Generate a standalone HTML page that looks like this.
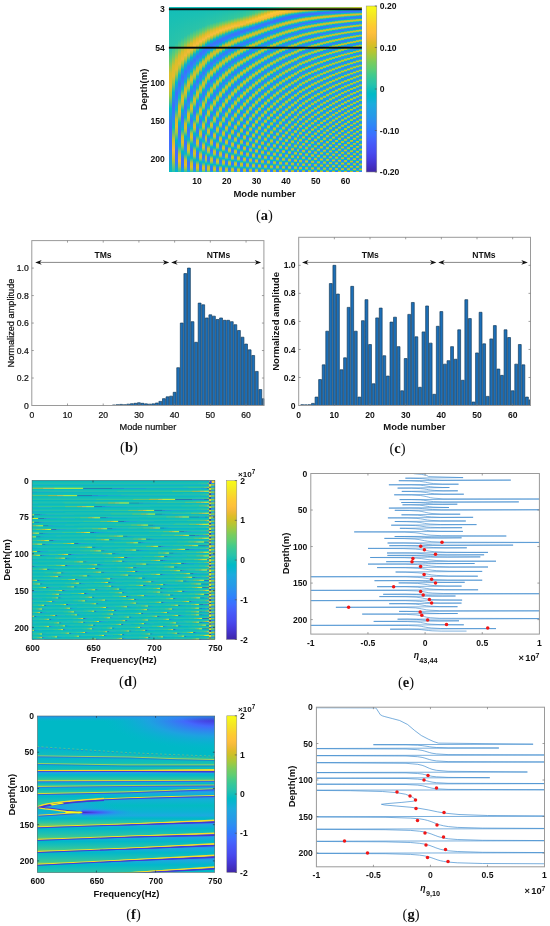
<!DOCTYPE html>
<html><head><meta charset="utf-8"><title>Figure</title>
<style>
html,body{margin:0;padding:0;background:#fff}
#fig{position:relative;width:550px;height:926px;overflow:hidden;background:#fff;font-family:Liberation Sans, Arial, sans-serif}
#fig div{position:absolute}
#fig svg{position:absolute;left:0;top:0}
</style></head><body>
<div id="fig">
<div style="left:168.9px;top:6.6px;width:192.9px;height:165.1px;overflow:hidden;background:#12beb9"><div style="left:0;top:0;width:192.9px;height:165.1px;filter:blur(.7px)"><div style="left:0px;top:0;width:3.27px;height:165.1px;background:linear-gradient(#12beb9 0.0%,#2bc3a8 26.0%,#68cd6b 33.0%,#d7be28 40.1%,#e7bb2d 48.3%,#a2c83f 53.6%,#00b9c7 61.6%,#4369fe 72.2%,#3f6eff 84.3%,#07bcbf 99.9%)"></div><div style="left:2.97px;top:0;width:3.27px;height:165.1px;background:linear-gradient(#12beb9 0.0%,#2ac3a9 23.8%,#65cd6e 29.7%,#d7be28 35.7%,#e6bb2d 41.9%,#a2c840 45.9%,#00b9c6 51.8%,#406dfe 59.8%,#2e84f9 67.2%,#09bdbe 73.0%,#cdc028 80.4%,#f8ba3d 86.6%,#b9c430 93.0%,#29c3aa 99.6%,#24c1ae 99.9%)"></div><div style="left:5.94px;top:0;width:3.27px;height:165.1px;background:linear-gradient(#12beb9 0.0%,#2bc3a8 22.0%,#67cd6c 27.3%,#d8be28 32.4%,#e7bb2e 37.7%,#a6c83d 40.9%,#00b9c6 45.7%,#406dfe 52.2%,#2d89f6 58.1%,#08bcbe 62.2%,#ccc028 68.1%,#e6bb2d 72.5%,#a6c83c 75.9%,#00b9c6 80.9%,#426afe 87.4%,#3b73ff 93.9%,#00b9c8 99.9%)"></div><div style="left:8.9px;top:0;width:3.27px;height:165.1px;background:linear-gradient(#12beb9 0.0%,#2ac3a9 20.1%,#64cd6f 25.0%,#d9bd28 29.7%,#ebba31 34.4%,#acc738 37.1%,#00b9c6 41.3%,#406dfe 46.8%,#2d89f6 51.6%,#0bbdbd 55.1%,#cbc128 60.0%,#e2bc2b 63.4%,#a0c841 66.2%,#00b9c6 70.1%,#406cfe 75.6%,#2e85f8 80.6%,#09bdbd 84.3%,#cdc028 89.3%,#efba35 93.3%,#aec637 96.6%,#2dc4a5 99.9%)"></div><div style="left:11.87px;top:0;width:3.27px;height:165.1px;background:linear-gradient(#12beb9 0.0%,#2ac3a9 18.6%,#65cd6e 23.2%,#dabd28 27.4%,#efba35 31.6%,#b3c534 34.1%,#01bac5 37.9%,#3f6eff 42.5%,#2d89f5 46.8%,#05bcc0 49.7%,#c8c129 53.9%,#dfbc2a 56.9%,#9dc943 59.2%,#00b9c6 62.5%,#3f6eff 67.2%,#2d8bf4 71.5%,#08bcbe 74.3%,#cac128 78.6%,#e3bb2b 81.8%,#9fc941 84.2%,#00b9c7 87.7%,#416cfe 92.4%,#307efb 96.8%,#06b5cf 99.9%)"></div><div style="left:14.84px;top:0;width:3.27px;height:165.1px;background:linear-gradient(#12beb9 0.0%,#2bc3a8 17.4%,#65cd6e 21.5%,#dabd28 25.4%,#f1ba37 29.4%,#b4c534 31.6%,#00b8c8 35.1%,#3d70ff 39.1%,#2e85f8 42.7%,#04bbc1 45.4%,#c8c129 49.2%,#debc29 51.8%,#97ca48 53.9%,#00b9c8 56.8%,#3c71ff 60.6%,#2e86f8 64.2%,#04bcc1 66.9%,#c8c129 70.7%,#debc29 73.4%,#9dc943 75.4%,#00b8c8 78.4%,#3e6fff 82.4%,#2e86f8 86.2%,#0bbdbc 89.0%,#ccc028 92.8%,#e5bb2c 95.7%,#a7c73c 97.8%,#33c69d 99.9%)"></div><div style="left:17.81px;top:0;width:3.27px;height:165.1px;background:linear-gradient(#12beb9 0.0%,#2bc3a8 16.2%,#65cd6e 20.0%,#dabd28 23.6%,#f3ba39 27.3%,#b4c533 29.5%,#00b9c8 32.7%,#3e70ff 36.3%,#2d88f6 39.7%,#0abdbd 42.1%,#c8c129 45.4%,#ddbd29 47.7%,#9ac945 49.5%,#01bac5 52.1%,#3f6fff 55.9%,#2994ed 59.4%,#05bcc0 61.2%,#c6c22a 64.5%,#debc29 66.8%,#9fc942 68.6%,#00b9c8 71.3%,#3b73ff 74.7%,#2e85f8 78.0%,#0abdbd 80.6%,#c8c129 83.9%,#e0bc2a 86.3%,#9fc941 88.1%,#00b9c6 90.9%,#406dfe 94.6%,#2d89f6 98.1%,#0fb2d5 99.9%)"></div><div style="left:20.77px;top:0;width:3.27px;height:165.1px;background:linear-gradient(#12beb9 0.0%,#2bc3a8 15.1%,#66cd6d 18.6%,#dabd28 22.0%,#f7ba3c 25.4%,#bac430 27.6%,#00b9c8 30.6%,#3d70ff 33.9%,#2d88f6 36.9%,#03bbc2 39.1%,#c8c129 42.2%,#dabd28 44.4%,#8fca4d 46.0%,#00b9c8 48.3%,#3876fe 51.2%,#2e83f9 54.1%,#07bcbf 56.5%,#c6c22a 59.5%,#dabd28 61.6%,#91ca4c 63.3%,#00b9c7 65.6%,#3c72ff 68.7%,#2d8cf3 71.8%,#03bbc2 73.7%,#c9c129 76.9%,#dbbd28 79.0%,#93ca4a 80.7%,#01bac5 83.0%,#3f6fff 86.5%,#2b91ef 89.6%,#06bcc0 91.5%,#cac128 94.6%,#debd29 96.9%,#99c946 98.6%,#38c895 99.9%)"></div><div style="left:23.74px;top:0;width:3.27px;height:165.1px;background:linear-gradient(#12beb9 0.0%,#2bc3a8 14.1%,#66cd6d 17.4%,#dabd28 20.4%,#fabb3e 23.8%,#bac430 25.9%,#01bac5 28.6%,#3f6eff 32.0%,#2d8ef1 34.8%,#0abdbd 36.6%,#c3c22b 39.4%,#d9bd28 41.3%,#94ca4a 42.9%,#00b9c6 45.0%,#3a73ff 47.8%,#2d8bf4 50.6%,#02bbc3 52.4%,#c5c22a 55.3%,#d7be28 57.2%,#8ccb50 58.8%,#01bac4 60.7%,#3d70ff 63.9%,#2896eb 66.8%,#08bcbe 68.3%,#c3c22b 71.0%,#d9bd28 73.0%,#93ca4a 74.5%,#00b9c6 76.6%,#3c71ff 79.6%,#2c90ef 82.5%,#04bbc1 84.2%,#c7c229 87.1%,#dbbd28 89.0%,#97ca48 90.6%,#02bac3 92.7%,#3e70ff 95.9%,#2d8df2 98.7%,#16afd9 99.9%)"></div><div style="left:26.71px;top:0;width:3.27px;height:165.1px;background:linear-gradient(#12beb9 0.0%,#2bc3a8 13.2%,#66cd6d 16.4%,#dabd28 19.2%,#fbbb3e 22.3%,#b9c431 24.4%,#00b9c6 27.0%,#3e6fff 30.0%,#2d8ef1 32.7%,#06bcbf 34.4%,#c2c22b 36.9%,#d9be28 38.8%,#8acb52 40.3%,#01bac5 42.1%,#3c71ff 45.0%,#2797eb 47.7%,#08bcbe 49.1%,#c5c22a 51.6%,#d6be27 53.5%,#7fcc5a 55.0%,#02b7cb 56.8%,#327cfc 58.9%,#307efb 61.3%,#07bcbf 63.6%,#c4c22a 66.2%,#d6be28 68.0%,#8fcb4e 69.4%,#01b8c9 71.3%,#317dfc 73.4%,#317cfc 75.9%,#02bbc3 78.1%,#c7c129 80.9%,#d7be28 82.7%,#8fcb4e 84.0%,#00b8c9 86.0%,#3777fe 88.4%,#2f80fa 90.9%,#03bbc2 93.0%,#c8c129 95.7%,#dbbd28 97.5%,#9ac945 98.9%,#3fca8e 99.9%)"></div><div style="left:29.68px;top:0;width:3.27px;height:165.1px;background:linear-gradient(#12beb9 0.0%,#2bc3a8 12.4%,#62cd71 15.3%,#d7be28 18.0%,#fcbb3e 20.9%,#c1c32c 22.9%,#00b9c7 25.4%,#3d70ff 28.2%,#2e86f7 30.6%,#06bcc0 32.4%,#c3c22b 34.8%,#d9bd28 36.5%,#90ca4d 37.9%,#00b9c8 39.7%,#3777fe 41.9%,#2e85f8 44.2%,#03bbc1 46.0%,#c3c22b 48.5%,#d6be27 50.1%,#87cb54 51.5%,#01bac5 53.1%,#3b73ff 55.7%,#2b92ef 58.1%,#02bbc2 59.5%,#c2c22c 61.9%,#d7be28 63.6%,#89cb52 65.0%,#01bac4 66.6%,#3c71ff 69.4%,#269ae9 71.9%,#0bbdbd 73.1%,#c7c129 75.6%,#d5be27 77.2%,#83cc57 78.6%,#00b9c7 80.3%,#3677fe 82.5%,#2e83f9 84.8%,#0abdbd 86.8%,#c6c22a 89.2%,#d8be28 90.9%,#8ccb50 92.2%,#01b8ca 94.0%,#3479fd 96.2%,#317dfc 98.4%,#1aacdd 99.9%)"></div><div style="left:32.64px;top:0;width:3.27px;height:165.1px;background:linear-gradient(#12beb9 0.0%,#2bc3a8 11.7%,#67cd6c 14.5%,#dabd28 17.1%,#fcbb3e 19.8%,#bfc32d 21.7%,#05bcc0 23.9%,#3e70ff 26.7%,#2e85f8 28.9%,#02bac4 30.6%,#c7c129 33.0%,#d9be28 34.5%,#94ca4a 35.7%,#02bbc3 37.4%,#3c72ff 40.0%,#259be8 42.4%,#06bcc0 43.5%,#c4c22b 45.7%,#d5be27 47.2%,#8dcb50 48.5%,#00b9c8 50.1%,#337bfc 52.1%,#2f82fa 54.2%,#04bbc1 56.0%,#c3c22b 58.3%,#d6be27 59.8%,#8fcb4e 61.0%,#00b9c7 62.7%,#3678fd 64.8%,#2e85f8 66.9%,#02bbc3 68.6%,#c1c32c 70.9%,#d7be28 72.4%,#94ca4a 73.6%,#02bac3 75.3%,#3c71ff 77.8%,#259be8 80.3%,#05bcc0 81.3%,#c4c22b 83.6%,#d8be28 85.1%,#93ca4b 86.3%,#02bac3 88.0%,#3d71ff 90.6%,#2699ea 93.0%,#01bac4 94.0%,#c7c129 96.5%,#d8be28 98.0%,#94ca4a 99.2%,#48cb86 99.9%)"></div><div style="left:35.61px;top:0;width:3.27px;height:165.1px;background:linear-gradient(#12beb9 0.0%,#2cc4a7 11.1%,#63cd6f 13.6%,#dcbd29 16.2%,#fcbc3e 18.8%,#bbc430 20.6%,#02bbc3 22.7%,#3e6fff 25.3%,#2d89f5 27.6%,#05bcc0 29.1%,#c1c32c 31.2%,#d9be28 32.7%,#8fcb4e 33.9%,#03bbc2 35.4%,#3c72ff 37.9%,#269ae8 40.1%,#0bbdbc 41.2%,#c5c22a 43.3%,#d5be27 44.7%,#87cb54 45.9%,#00b9c8 47.4%,#327cfc 49.2%,#2f81fa 51.2%,#0abdbd 53.0%,#c5c22a 55.1%,#d5be27 56.5%,#86cb55 57.7%,#00b8c8 59.2%,#327cfc 61.0%,#2f81fa 63.0%,#0abdbd 64.8%,#c5c22a 66.9%,#d5be27 68.3%,#87cb54 69.5%,#00b9c8 71.0%,#3578fd 73.0%,#2e84f8 75.0%,#07bcbf 76.6%,#c3c22b 78.7%,#d7be28 80.1%,#8dcb4f 81.3%,#01bac4 82.8%,#3c72ff 85.3%,#259be8 87.5%,#0bbdbc 88.6%,#c5c22a 90.7%,#d4bf27 92.2%,#7fcc5a 93.4%,#02b7cb 94.9%,#337afd 96.8%,#307ffb 98.7%,#1da8e0 99.9%)"></div><div style="left:38.58px;top:0;width:3.27px;height:165.1px;background:linear-gradient(#12beb9 0.0%,#2dc4a6 10.4%,#64cd6f 12.9%,#dabd28 15.3%,#fcbc3e 17.9%,#bdc42e 19.5%,#00b9c7 21.7%,#3f6eff 24.1%,#2d89f5 26.2%,#01bac4 27.6%,#c3c22b 29.7%,#d9bd28 31.0%,#9bc944 32.1%,#01b8c9 33.8%,#2f82fa 35.3%,#3479fd 37.1%,#0ab4d1 38.8%,#1bc0b4 39.2%,#c1c32c 41.0%,#d4bf27 42.4%,#8dcb4f 43.5%,#01b8c9 45.0%,#2f81fa 46.5%,#337bfc 48.3%,#01bac4 50.1%,#c5c22a 52.2%,#d2bf27 53.6%,#72cd63 54.8%,#01bac5 56.0%,#3974ff 58.1%,#2b91ef 60.1%,#07bcbf 61.3%,#c1c32c 63.3%,#d4bf27 64.7%,#8ccb50 65.7%,#01b8ca 67.2%,#2f81fa 68.7%,#337bfc 70.6%,#01bac4 72.4%,#c5c22a 74.5%,#d2bf27 75.9%,#87cb54 76.9%,#02bbc3 78.3%,#3b72ff 80.6%,#269ae8 82.7%,#02bbc3 83.6%,#c6c22a 85.7%,#d3bf27 87.1%,#89cb53 88.1%,#02b7cb 89.6%,#2f80fa 91.2%,#347afd 93.0%,#09bdbe 94.9%,#c2c32c 96.9%,#d7be28 98.3%,#96ca49 99.3%,#52cc7e 99.9%)"></div><div style="left:41.55px;top:0;width:3.27px;height:165.1px;background:linear-gradient(#12beb9 0.0%,#2dc4a6 9.8%,#68cd6b 12.3%,#dcbd29 14.5%,#fdbc3e 17.0%,#c5c22a 18.5%,#00b9c7 20.6%,#3f6fff 22.9%,#2e86f8 24.8%,#0bbdbd 26.3%,#c6c22a 28.3%,#d6be27 29.7%,#89cb53 30.7%,#00b9c6 32.1%,#3975fe 34.1%,#2d8cf3 35.9%,#01bac4 37.1%,#c2c22c 39.1%,#d5be27 40.3%,#8dcb50 41.3%,#01bac5 42.7%,#3b73ff 44.8%,#269ae9 46.8%,#05bcc0 47.7%,#c5c22a 49.7%,#d3bf27 50.9%,#84cc56 51.9%,#01b8ca 53.3%,#307ffb 54.8%,#2f81fa 56.6%,#01bac5 58.1%,#c1c32c 60.1%,#d5be27 61.3%,#8ccb51 62.4%,#01bac5 63.7%,#3975fe 65.7%,#2d8ef1 67.5%,#06bcbf 68.7%,#c6c22a 70.7%,#d3bf27 71.9%,#84cc57 73.0%,#01b8ca 74.3%,#307ffb 75.9%,#2f80fa 77.7%,#0cbdbc 79.3%,#c0c32d 81.2%,#d6be28 82.4%,#92ca4c 83.4%,#04bbc1 84.8%,#3a73ff 86.9%,#2896eb 88.9%,#0bbdbd 89.9%,#bfc32d 91.8%,#d8be28 93.0%,#97ca48 94.0%,#00b9c8 95.5%,#2f80fb 97.1%,#317dfc 98.9%,#20a5e2 99.9%)"></div><div style="left:44.52px;top:0;width:3.27px;height:165.1px;background:linear-gradient(#12beb9 0.0%,#2ec4a4 9.4%,#6ccd68 11.7%,#dcbd29 13.8%,#fcbc3e 16.2%,#bac430 17.7%,#03bbc2 19.5%,#3f6eff 21.8%,#2d8af5 23.8%,#00b9c6 25.0%,#c3c22b 27.0%,#dabd28 28.2%,#94ca4a 29.2%,#02bac3 30.6%,#3c72ff 32.7%,#249fe6 34.7%,#04bcc1 35.4%,#c1c32c 37.3%,#d3bf27 38.5%,#7fcc5a 39.5%,#00b9c6 40.7%,#347afd 42.4%,#2e85f8 44.1%,#03bbc2 45.4%,#c0c32d 47.2%,#d3bf27 48.5%,#7ecc5b 49.5%,#00b9c7 50.7%,#307efb 52.2%,#2f81fa 53.9%,#04bbc1 55.4%,#c1c32c 57.2%,#d2bf27 58.4%,#7bcc5d 59.5%,#00b8c8 60.7%,#2f82fa 62.1%,#317cfc 63.7%,#0eb2d4 65.1%,#06bcbf 65.4%,#c2c22b 67.2%,#d2bf27 68.4%,#7acc5e 69.5%,#01b8c9 70.7%,#2f82fa 72.1%,#317cfc 73.7%,#0eb2d4 75.1%,#06bcbf 75.4%,#c2c22b 77.2%,#d2bf27 78.4%,#7ccc5c 79.5%,#00b9c8 80.7%,#317dfc 82.2%,#2f80fa 83.9%,#03bbc2 85.4%,#c0c32d 87.2%,#d4be27 88.4%,#84cc57 89.5%,#02bac3 90.7%,#3c72ff 92.8%,#23a0e5 94.8%,#08bcbe 95.5%,#c3c22b 97.4%,#d4bf27 98.6%,#81cc58 99.6%,#5bcc77 99.9%)"></div><div style="left:47.48px;top:0;width:3.27px;height:165.1px;background:linear-gradient(#12beb9 0.0%,#2fc5a3 8.9%,#6dcd67 11.1%,#dbbd28 13.0%,#febd3d 15.3%,#c1c32c 16.8%,#03bbc1 18.6%,#3e6fff 20.7%,#2e84f8 22.6%,#04bbc1 23.9%,#c3c22b 25.7%,#d9bd28 27.0%,#9bc944 27.9%,#02bbc3 29.2%,#3b73ff 31.2%,#2699e9 33.0%,#00b9c7 33.8%,#c0c32c 35.6%,#d5be27 36.6%,#85cb55 37.7%,#00b9c7 38.9%,#327cfc 40.4%,#2e86f8 42.1%,#00b9c7 43.3%,#c0c32c 45.1%,#d4bf27 46.2%,#81cc58 47.2%,#01b8c9 48.5%,#2f80fb 49.8%,#317dfc 51.3%,#01bac4 52.8%,#c3c22b 54.7%,#d3bf27 55.7%,#8ecb4f 56.6%,#03bbc2 57.8%,#3a73ff 59.8%,#259de6 61.6%,#05bcc0 62.4%,#bdc42e 64.1%,#d5be27 65.1%,#88cb53 66.2%,#01bac5 67.4%,#3578fd 69.0%,#2d8bf4 70.7%,#0abdbd 71.9%,#bfc32d 73.6%,#d5be27 74.7%,#84cc56 75.7%,#00b9c7 76.9%,#2f81fa 78.3%,#327cfc 79.8%,#00b9c7 81.3%,#c0c32c 83.1%,#d5be27 84.2%,#84cc56 85.3%,#00b9c7 86.5%,#327cfc 88.0%,#2e85f8 89.6%,#08bdbe 91.0%,#bec32d 92.7%,#d7be28 93.7%,#8bcb51 94.8%,#02bbc3 96.0%,#3b73ff 98.0%,#259be8 99.8%,#22a2e4 99.9%)"></div><div style="left:50.45px;top:0;width:3.27px;height:165.1px;background:linear-gradient(#12beb9 0.0%,#30c5a2 8.5%,#6ccd68 10.4%,#d7be28 12.3%,#febf3c 14.4%,#cdc028 15.9%,#0abdbd 17.7%,#3b72ff 19.7%,#327cfc 21.4%,#03bbc2 22.9%,#c8c129 24.7%,#d5be27 25.9%,#89cb53 26.8%,#00b9c7 28.0%,#337afd 29.5%,#2f82fa 31.0%,#05bcc0 32.4%,#c1c32c 34.1%,#d3bf27 35.1%,#8bcb51 36.0%,#00b9c8 37.3%,#307ffb 38.6%,#2f81fa 40.1%,#02bbc3 41.5%,#bfc32d 43.2%,#d3bf27 44.2%,#89cb52 45.1%,#00b8c8 46.3%,#307efb 47.7%,#2f81fa 49.2%,#04bbc1 50.6%,#c1c32c 52.2%,#d1bf27 53.3%,#85cb55 54.2%,#02b7cb 55.4%,#2f82f9 56.6%,#307efc 58.1%,#0fb2d5 59.4%,#08bcbe 59.7%,#c3c22b 61.3%,#d0bf27 62.4%,#81cc59 63.3%,#03bbc2 64.4%,#3975ff 66.2%,#2797eb 67.8%,#00b9c8 68.6%,#bac430 70.3%,#d4be27 71.3%,#92ca4c 72.2%,#02bac3 73.4%,#3974ff 75.3%,#2798ea 76.9%,#00b9c7 77.7%,#bbc42f 79.3%,#d5be27 80.4%,#92ca4c 81.3%,#02bac3 82.5%,#3974ff 84.3%,#2797eb 86.0%,#00b8c8 86.8%,#bac430 88.4%,#d6be27 89.5%,#96ca48 90.4%,#05bcc0 91.6%,#3975fe 93.4%,#2994ed 95.1%,#04bbc1 96.0%,#c1c32c 97.7%,#d4bf27 98.7%,#8ecb4f 99.6%,#64cd6f 99.9%)"></div><div style="left:53.42px;top:0;width:3.27px;height:165.1px;background:linear-gradient(#12beb9 0.0%,#32c69f 8.2%,#7bcc5d 10.1%,#debc29 11.8%,#febd3d 13.9%,#c2c22b 15.3%,#06bcbf 17.0%,#3e70ff 18.9%,#2e83f9 20.6%,#00b9c8 21.8%,#bbc42f 23.5%,#ddbd29 24.5%,#a6c83d 25.4%,#01bac5 26.8%,#3b73ff 28.6%,#269ae9 30.3%,#04bbc1 31.0%,#c5c22a 32.7%,#cfc027 33.8%,#77cc60 34.7%,#01b7ca 35.7%,#2f81fa 36.9%,#2f81fa 38.5%,#09bdbe 39.8%,#bec32e 41.3%,#d1bf27 42.4%,#7fcc5a 43.3%,#00b9c6 44.4%,#3579fd 45.9%,#2d8cf3 47.4%,#04bcc1 48.5%,#bbc430 50.0%,#d2bf27 51.0%,#83cc57 51.9%,#01bac4 53.0%,#3a73ff 54.8%,#1da8e1 56.6%,#02bbc2 57.1%,#c4c22b 58.8%,#cdc028 59.8%,#70cd65 60.7%,#03bbc2 61.6%,#3a74ff 63.4%,#249fe5 65.1%,#01bac5 65.7%,#c2c22b 67.4%,#cec027 68.4%,#75cc61 69.4%,#02b7cc 70.4%,#2f80fa 71.6%,#2f82fa 73.1%,#00b9c8 74.3%,#c0c32d 76.0%,#d0bf27 77.1%,#7ccc5c 78.0%,#00b9c8 79.0%,#2f82fa 80.3%,#2f80fb 81.8%,#05bcc0 83.1%,#bbc42f 84.6%,#d3bf27 85.7%,#86cb55 86.6%,#03bbc2 87.7%,#3a73ff 89.5%,#259de6 91.2%,#00b9c7 91.8%,#c0c32d 93.4%,#d2bf27 94.5%,#7fcc5a 95.4%,#00bac6 96.5%,#3975fe 98.1%,#2c90f0 99.6%,#249fe6 99.9%)"></div><div style="left:56.39px;top:0;width:3.27px;height:165.1px;background:linear-gradient(#12beb9 0.0%,#32c69e 7.7%,#75cc61 9.5%,#ddbd29 11.2%,#febf3c 13.2%,#c9c129 14.5%,#08bcbe 16.2%,#3b72ff 18.0%,#337bfd 19.5%,#00b9c8 20.9%,#c1c32c 22.6%,#dbbd28 23.6%,#95ca49 24.5%,#00b9c7 25.7%,#327bfc 27.1%,#307ffb 28.5%,#09bdbe 29.8%,#c1c32c 31.3%,#d0c027 32.4%,#72cd64 33.3%,#01bac4 34.2%,#3975ff 35.9%,#2797eb 37.4%,#02bac3 38.2%,#bdc32e 39.7%,#d4bf27 40.6%,#8acb52 41.5%,#02bac3 42.5%,#3975ff 44.2%,#2798ea 45.7%,#03bbc2 46.5%,#bfc32d 48.0%,#d3bf27 48.9%,#86cb55 49.8%,#00b9c6 50.9%,#3677fe 52.4%,#2b92ee 53.9%,#07bcbf 54.8%,#c1c32c 56.3%,#d2bf27 57.2%,#80cc59 58.1%,#00b8c9 59.2%,#2f80fb 60.4%,#2f80fb 61.8%,#00b8c9 63.0%,#c3c22b 64.7%,#d1bf27 65.6%,#7ccc5c 66.5%,#02b7cb 67.5%,#307ffb 68.7%,#2f81fa 70.1%,#00b9c6 71.3%,#c5c22a 73.0%,#c9c128 74.0%,#61cd71 75.0%,#03b6cd 75.9%,#307efb 77.1%,#2f81fa 78.4%,#01bac5 79.6%,#bbc42f 81.2%,#d5be27 82.1%,#8ecb4f 83.0%,#04bbc1 84.0%,#3875fe 85.7%,#2895ec 87.2%,#00b9c6 88.0%,#c5c22a 89.6%,#cbc128 90.7%,#64cd6f 91.6%,#02b7cb 92.5%,#307ffb 93.7%,#2f80fb 95.1%,#0bbdbc 96.5%,#c3c22b 98.0%,#cec027 99.0%,#6dcd68 99.9%)"></div><div style="left:59.35px;top:0;width:3.27px;height:165.1px;background:linear-gradient(#12beb9 0.0%,#34c79b 7.4%,#8ccb50 9.4%,#e1bc2a 10.8%,#febd3d 12.7%,#c6c22a 13.9%,#00bac6 15.6%,#3f6eff 17.4%,#2e83f9 18.9%,#06bcc0 20.1%,#c1c32c 21.7%,#dabd28 22.7%,#9fc941 23.5%,#01bac4 24.7%,#3b73ff 26.3%,#2797eb 27.9%,#03bbc1 28.6%,#c2c22b 30.1%,#d3bf27 31.0%,#93ca4b 31.8%,#04bbc1 32.9%,#3a74ff 34.5%,#259ce7 36.0%,#00b9c6 36.6%,#bfc32d 38.2%,#d2bf27 39.1%,#91ca4c 39.8%,#02bbc2 40.9%,#3a74ff 42.5%,#249ee6 44.1%,#03bbc2 44.7%,#c2c22b 46.2%,#d0bf27 47.1%,#89cb52 47.8%,#00b9c7 48.9%,#307ffb 50.1%,#2e83f9 51.5%,#0bbdbd 52.7%,#bbc42f 54.1%,#d3bf27 55.0%,#96ca49 55.7%,#06bcbf 56.8%,#3678fd 58.3%,#2d8df2 59.7%,#01bac5 60.6%,#c0c32d 62.1%,#d1bf27 63.0%,#8dcb4f 63.7%,#01bac5 64.8%,#3776fe 66.3%,#2798ea 67.8%,#06bcbf 68.6%,#c4c22a 70.1%,#cfc027 71.0%,#85cb55 71.8%,#01b8ca 72.8%,#2e84f9 73.9%,#307efb 75.3%,#0fb2d5 76.3%,#0fbebb 76.6%,#bdc42e 78.0%,#d3bf27 78.9%,#95ca49 79.6%,#05bcc0 80.7%,#3678fe 82.2%,#2d8cf3 83.6%,#01bac6 84.5%,#bfc32d 86.0%,#d2bf27 86.9%,#91ca4c 87.7%,#03bbc2 88.7%,#3a74ff 90.4%,#259de7 91.9%,#01bac5 92.5%,#c0c32d 94.0%,#d3bf27 94.9%,#92ca4b 95.7%,#03bbc2 96.8%,#3a74ff 98.4%,#259be7 99.9%)"></div><div style="left:62.32px;top:0;width:3.27px;height:165.1px;background:linear-gradient(#12beb9 0.0%,#34c79b 7.0%,#83cc57 8.8%,#dcbd29 10.1%,#febf3b 12.0%,#d3bf27 13.2%,#60cd72 14.1%,#01b8ca 15.0%,#3e6fff 16.7%,#2e83f9 18.2%,#00b8c9 19.2%,#bdc42e 20.7%,#debd29 21.7%,#9ec942 22.6%,#00b8c9 23.8%,#2e83f9 24.8%,#337bfc 26.2%,#07bcbf 27.6%,#bcc42f 28.9%,#d4bf27 29.8%,#94ca4a 30.6%,#01bac4 31.6%,#3b73ff 33.3%,#1aacdc 35.0%,#01bac5 35.3%,#c4c22b 36.8%,#cdc027 37.7%,#7ccc5c 38.5%,#01bac4 39.4%,#3875fe 40.9%,#249ee6 42.4%,#04bbc1 43.0%,#bbc42f 44.4%,#d1bf27 45.3%,#8bcb51 46.0%,#01b8c9 47.1%,#2f82fa 48.2%,#317dfc 49.4%,#11b1d6 50.4%,#0ebebb 50.7%,#c1c32c 52.1%,#cfc027 53.0%,#81cc58 53.8%,#03bbc2 54.7%,#3876fe 56.2%,#2994ed 57.5%,#02bbc3 58.3%,#c5c22a 59.8%,#ccc028 60.7%,#77cc60 61.5%,#00b9c7 62.4%,#2e83f9 63.4%,#327cfc 64.7%,#14b0d7 65.7%,#0abdbd 66.0%,#bfc32d 67.4%,#d0bf27 68.3%,#86cb55 69.0%,#07bcbf 70.0%,#3777fe 71.5%,#2a92ee 72.8%,#00b9c6 73.6%,#c3c22b 75.1%,#cec027 76.0%,#7dcc5b 76.8%,#01bac4 77.7%,#3a73ff 79.3%,#18aedb 81.0%,#03bbc2 81.3%,#bac430 82.7%,#d2bf27 83.6%,#8fcb4e 84.3%,#00b9c7 85.4%,#317dfc 86.6%,#2e87f7 88.0%,#06bcc0 89.0%,#bdc42f 90.4%,#d2bf27 91.3%,#8dcb50 92.1%,#00b8c8 93.1%,#2e83f9 94.2%,#337bfc 95.4%,#06bcbf 96.8%,#bdc42e 98.1%,#d2bf27 99.0%,#8ecb4e 99.8%,#76cc61 99.9%)"></div><div style="left:65.29px;top:0;width:3.27px;height:165.1px;background:linear-gradient(#12beb9 0.0%,#35c79b 6.5%,#85cc56 8.3%,#debc29 9.7%,#febf3b 11.5%,#c9c129 12.7%,#06bcbf 14.2%,#3c71ff 15.9%,#337bfc 17.3%,#00b8c9 18.5%,#c1c32c 20.0%,#dcbd29 20.9%,#a4c83e 21.7%,#00b8c8 22.9%,#2f82fa 23.9%,#3578fd 25.1%,#03bbc2 26.5%,#bec32e 27.9%,#d3bf27 28.8%,#89cb52 29.5%,#06bcbf 30.4%,#347afd 31.8%,#2e86f7 33.0%,#0bbdbd 34.1%,#c2c22b 35.4%,#cdc028 36.3%,#75cc61 37.1%,#02b7cb 38.0%,#2f80fb 39.1%,#2f80fa 40.3%,#01b8ca 41.3%,#b6c532 42.7%,#d1bf27 43.6%,#89cb52 44.4%,#05bcc0 45.3%,#3479fd 46.6%,#2d89f6 47.8%,#00b9c7 48.8%,#bac430 50.1%,#d0bf27 51.0%,#82cc57 51.8%,#01bac4 52.7%,#3975fe 54.2%,#20a4e3 55.7%,#02bbc2 56.2%,#bec32e 57.5%,#cec027 58.4%,#7bcc5d 59.2%,#00b9c8 60.1%,#2f81fa 61.2%,#307ffb 62.4%,#08bcbe 63.6%,#c1c32c 65.0%,#ccc028 65.9%,#74cd62 66.6%,#02b7cc 67.5%,#2f80fb 68.6%,#2f81fa 69.8%,#01b8c9 70.9%,#b7c532 72.2%,#d1bf27 73.1%,#88cb53 73.9%,#04bcc1 74.8%,#3875fe 76.3%,#2699e9 77.7%,#00b9c7 78.3%,#bac430 79.6%,#d1bf27 80.6%,#84cc56 81.3%,#02bbc3 82.2%,#3975fe 83.7%,#269ae9 85.1%,#01bac5 85.7%,#bbc42f 87.1%,#d0bf27 88.0%,#83cc57 88.7%,#02bac4 89.6%,#3975ff 91.2%,#21a3e4 92.7%,#01bac5 93.1%,#bbc42f 94.5%,#d1bf27 95.4%,#85cc56 96.2%,#02bbc2 97.1%,#3975fe 98.6%,#2699ea 99.9%)"></div><div style="left:68.26px;top:0;width:3.27px;height:165.1px;background:linear-gradient(#12beb9 0.0%,#37c897 6.2%,#9bc944 8.2%,#e6bb2d 9.4%,#fbbb3e 11.4%,#c0c32d 12.3%,#09bdbe 13.6%,#3975fe 15.1%,#3677fe 16.5%,#07bcbf 17.9%,#c1c32c 19.2%,#dbbd28 20.1%,#9cc944 20.9%,#02bbc3 22.0%,#3b73ff 23.5%,#2896eb 24.8%,#01b7ca 25.4%,#b9c431 26.8%,#d3bf27 27.7%,#88cb53 28.5%,#02bbc3 29.4%,#3a74ff 30.9%,#249ee6 32.3%,#02b7cb 32.7%,#93ca4b 33.8%,#d4bf27 34.5%,#bbc430 35.3%,#01b8ca 36.6%,#307ffb 37.7%,#2e83f9 38.9%,#05bcc0 40.0%,#c3c22b 41.3%,#d0bf27 42.1%,#7fcc5a 42.9%,#00b8c8 43.8%,#2f80fb 44.8%,#2e83f9 46.0%,#04bbc1 47.1%,#c3c22b 48.5%,#d0bf27 49.2%,#80cc59 50.0%,#00b8c8 50.9%,#2f80fb 51.9%,#2e83f9 53.1%,#04bbc1 54.2%,#c3c22b 55.6%,#d0bf27 56.3%,#80cc59 57.1%,#00b8c8 58.0%,#2f80fb 59.1%,#2e83f9 60.3%,#04bbc1 61.3%,#c3c22b 62.7%,#d0bf27 63.4%,#80cc59 64.2%,#00b8c8 65.1%,#2f80fb 66.2%,#2e83f9 67.4%,#04bbc1 68.4%,#c3c22b 69.8%,#d0bf27 70.6%,#81cc58 71.3%,#00b9c8 72.2%,#2f80fa 73.3%,#2e82f9 74.5%,#03bbc2 75.6%,#c2c32c 76.9%,#d1bf27 77.7%,#83cc57 78.4%,#00b9c6 79.3%,#2f81fa 80.4%,#2f82fa 81.6%,#01bac4 82.7%,#c0c32c 84.0%,#d2bf27 84.8%,#87cb54 85.6%,#01bac4 86.5%,#3a74ff 88.0%,#1caadf 89.5%,#00b9c7 89.8%,#bdc32e 91.2%,#d3bf27 91.9%,#8ecb4f 92.7%,#06bcc0 93.6%,#3578fd 94.9%,#2d8cf3 96.2%,#0abdbd 97.1%,#c5c22a 98.4%,#c8c129 99.3%,#7fcc5a 99.9%)"></div><div style="left:71.22px;top:0;width:3.27px;height:165.1px;background:linear-gradient(#12beb9 0.0%,#38c896 5.8%,#a7c73b 7.9%,#e7bb2e 8.9%,#fdbc3e 10.8%,#b7c532 11.8%,#10beba 13.0%,#0eb3d4 13.3%,#426afe 15.0%,#2699e9 16.5%,#00bac6 17.1%,#bec32e 18.5%,#dbbd28 19.4%,#9ac945 20.1%,#00b9c8 21.2%,#2f7ffb 22.3%,#307efb 23.5%,#01b8ca 24.5%,#bdc32e 25.9%,#d6be27 26.7%,#91ca4c 27.4%,#05bcc0 28.3%,#3777fe 29.7%,#2c90f0 30.9%,#02bac3 31.6%,#c4c22b 33.0%,#cfc027 33.8%,#77cc5f 34.5%,#05bcc0 35.3%,#3777fe 36.6%,#2a92ee 37.9%,#07bcbf 38.6%,#bbc42f 39.8%,#d2bf27 40.6%,#86cb55 41.3%,#00b9c7 42.2%,#307ffb 43.3%,#2e86f7 44.5%,#00b9c6 45.4%,#c2c22c 46.8%,#cfc027 47.5%,#77cc60 48.3%,#04bbc1 49.1%,#3777fe 50.4%,#2a93ed 51.6%,#0bbdbd 52.4%,#bdc42e 53.6%,#d1bf27 54.4%,#82cc58 55.1%,#01b8ca 56.0%,#2e84f8 56.9%,#2f81fa 58.1%,#02bbc3 59.2%,#c4c22a 60.6%,#cdc027 61.3%,#71cd64 62.1%,#01bac4 62.8%,#3776fe 64.2%,#249ee6 65.6%,#01b8c9 66.0%,#bfc32d 67.4%,#d0bf27 68.1%,#7ecc5b 68.9%,#02b7cc 69.8%,#2e83f9 70.7%,#2f82fa 71.9%,#04bbc1 73.0%,#b9c431 74.2%,#d3bf27 75.0%,#8acb52 75.7%,#01bac5 76.6%,#347afd 77.8%,#2d8df2 79.0%,#00b8c8 79.8%,#c0c32d 81.2%,#d0bf27 81.9%,#7dcc5b 82.7%,#02b7cc 83.6%,#317dfc 84.6%,#2d88f6 85.9%,#03bbc2 86.8%,#c5c22a 88.1%,#cec027 88.9%,#72cd63 89.6%,#02bbc3 90.4%,#3776fe 91.8%,#2994ed 93.0%,#0bbdbc 93.7%,#bdc42e 94.9%,#d2bf27 95.7%,#86cb55 96.5%,#00b9c7 97.4%,#307ffb 98.4%,#2e85f8 99.6%,#2896ec 99.9%)"></div><div style="left:74.19px;top:0;width:3.27px;height:165.1px;background:linear-gradient(#12beb9 0.0%,#39c995 5.3%,#aac739 7.4%,#e8bb2f 8.5%,#f8ba3d 10.4%,#c2c22b 11.2%,#03bbc2 12.6%,#3d70ff 14.1%,#2f81fa 15.4%,#04bbc1 16.5%,#c6c22a 17.9%,#d7be28 18.8%,#83cc57 19.5%,#00b8c9 20.4%,#307efc 21.5%,#2f81fa 22.7%,#07bcbf 23.8%,#bdc32e 25.0%,#d5be27 25.7%,#89cb52 26.5%,#00b9c7 27.4%,#307efb 28.5%,#2f80fa 29.5%,#04bbc1 30.6%,#bbc42f 31.8%,#d1bf27 32.6%,#7fcc5a 33.3%,#08bcbe 34.1%,#3777fe 35.4%,#2796eb 36.6%,#01bac5 37.3%,#b8c531 38.5%,#d1bf27 39.2%,#81cc58 40.0%,#03b6cd 40.9%,#2f82fa 41.8%,#307ffb 42.9%,#01bac5 43.9%,#b8c431 45.1%,#d1bf27 45.9%,#80cc59 46.6%,#09bdbe 47.4%,#327bfc 48.6%,#2d8ef1 49.8%,#01bac4 50.6%,#b9c431 51.8%,#d1bf27 52.5%,#7ecc5b 53.3%,#07bcbf 54.1%,#3777fe 55.4%,#2798ea 56.6%,#02bbc3 57.2%,#bac430 58.4%,#d0bf27 59.2%,#7ccc5c 60.0%,#05bcc0 60.7%,#3776fe 62.1%,#2698ea 63.3%,#03bbc2 63.9%,#bbc42f 65.1%,#d0bf27 65.9%,#7acc5d 66.6%,#04bbc1 67.4%,#3876fe 68.7%,#2699e9 70.0%,#04bbc1 70.6%,#bcc42f 71.8%,#d0bf27 72.5%,#79cc5e 73.3%,#03bbc2 74.0%,#3876fe 75.4%,#2699e9 76.6%,#04bbc1 77.2%,#bcc42f 78.4%,#d0bf27 79.2%,#7acc5e 80.0%,#03bbc1 80.7%,#3876fe 82.1%,#2699ea 83.3%,#03bbc2 83.9%,#bbc42f 85.1%,#d1bf27 85.9%,#7ccc5c 86.6%,#05bcc0 87.4%,#3776fe 88.7%,#2797ea 89.9%,#02bac3 90.6%,#bac430 91.8%,#d1bf27 92.5%,#80cc59 93.3%,#09bdbe 94.0%,#327bfc 95.2%,#2d8df2 96.5%,#00b9c7 97.2%,#c4c22a 98.6%,#cdc028 99.3%,#87cb54 99.9%)"></div><div style="left:77.16px;top:0;width:3.27px;height:165.1px;background:linear-gradient(#13beb9 0.0%,#3fca8e 5.0%,#d6be27 7.6%,#fec13a 9.2%,#dcbd29 10.4%,#90ca4d 11.1%,#0dbdbb 12.0%,#12b1d6 12.3%,#4269fe 13.9%,#1fa5e2 15.4%,#08bcbe 15.9%,#bdc32e 17.1%,#ddbd29 17.9%,#a3c83e 18.6%,#00b9c7 19.7%,#317dfc 20.7%,#317dfc 21.8%,#00b9c7 22.9%,#b8c431 24.1%,#d5be27 24.8%,#88cb53 25.6%,#01b7ca 26.5%,#2f82f9 27.4%,#307efc 28.5%,#01bac4 29.5%,#bbc42f 30.7%,#d0c027 31.5%,#74cd62 32.3%,#00b9c6 33.0%,#317dfc 34.1%,#2e85f8 35.1%,#02bbc3 36.0%,#bdc32e 37.3%,#cec027 38.0%,#6dcd67 38.8%,#01b7cb 39.5%,#2f82fa 40.4%,#2f81fa 41.5%,#0abdbd 42.5%,#c2c22c 43.8%,#cac128 44.5%,#61cd71 45.3%,#04bbc1 45.9%,#3876fe 47.2%,#1da8e0 48.6%,#00b9c6 48.9%,#bac430 50.1%,#cec027 50.9%,#71cd64 51.6%,#00b8c8 52.4%,#2e83f9 53.3%,#2f80fb 54.4%,#07bcbf 55.4%,#c0c32c 56.6%,#cbc128 57.4%,#64cd6f 58.1%,#06bcbf 58.8%,#3876fe 60.1%,#259de6 61.3%,#00b9c8 61.8%,#b8c431 63.0%,#cfc027 63.7%,#74cd62 64.5%,#00b9c7 65.3%,#317dfc 66.3%,#2e86f7 67.4%,#04bbc1 68.3%,#bfc32d 69.5%,#ccc028 70.3%,#67cd6c 71.0%,#04b6cd 71.8%,#337bfd 72.8%,#2d8af5 73.9%,#01b7ca 74.7%,#b6c532 75.9%,#d0bf27 76.6%,#79cc5e 77.4%,#01bac4 78.1%,#3579fd 79.3%,#2896ec 80.6%,#01bac5 81.2%,#bcc42f 82.4%,#cec027 83.1%,#6fcd66 83.9%,#01b8c9 84.6%,#2f82f9 85.6%,#2f80fb 86.6%,#06bcbf 87.7%,#c0c32c 88.9%,#ccc028 89.6%,#67cd6c 90.4%,#04b6ce 91.2%,#337afd 92.2%,#2d89f5 93.3%,#02b7cc 94.0%,#b4c533 95.2%,#d1bf27 96.0%,#7fcc5a 96.8%,#04bbc1 97.5%,#3876fe 98.9%,#2a93ee 99.9%)"></div><div style="left:80.13px;top:0;width:3.27px;height:165.1px;background:linear-gradient(#13beb9 0.0%,#42ca8b 4.5%,#dcbd29 7.1%,#fec239 8.8%,#e5bb2c 9.8%,#a0c941 10.4%,#02bbc3 11.5%,#3f6eff 13.0%,#2f81fa 14.2%,#0bbdbc 15.3%,#c1c32c 16.5%,#dbbd28 17.3%,#95ca49 18.0%,#02bbc3 18.9%,#3a74ff 20.3%,#2797ea 21.5%,#03bbc2 22.1%,#c0c32d 23.3%,#d1bf27 24.1%,#8dcb4f 24.7%,#01b8ca 25.6%,#2f81fa 26.5%,#2f80fa 27.6%,#02b7cc 28.5%,#8acb52 29.4%,#d3bf27 30.1%,#a7c73b 30.9%,#01b8c9 32.0%,#2f81fa 32.9%,#2f82f9 33.9%,#00b9c7 34.8%,#bcc42f 36.0%,#ccc028 36.8%,#64cd6f 37.6%,#04bbc1 38.2%,#3875fe 39.5%,#18aedb 40.9%,#0bbdbd 41.2%,#b6c532 42.2%,#cec027 43.0%,#8bcb51 43.6%,#03b6cc 44.5%,#2f80fa 45.4%,#2e85f8 46.5%,#03bbc2 47.4%,#c1c32c 48.6%,#c8c129 49.4%,#58cc79 50.1%,#00b8c8 50.7%,#2f82fa 51.6%,#2e83f9 52.7%,#00b9c6 53.6%,#bdc32e 54.8%,#cac128 55.6%,#60cd73 56.3%,#01bac4 56.9%,#3578fd 58.1%,#259be8 59.4%,#01b7ca 59.8%,#b9c431 61.0%,#ccc028 61.8%,#85cb55 62.4%,#06bcbf 63.1%,#3479fd 64.4%,#2699ea 65.6%,#08bcbe 66.2%,#c3c22b 67.4%,#c6c22a 68.1%,#53cc7e 68.9%,#02b7cb 69.5%,#2f81fa 70.4%,#2e84f8 71.5%,#02bbc3 72.4%,#c0c32d 73.6%,#c9c129 74.3%,#5ccc76 75.1%,#00b9c6 75.7%,#317cfc 76.8%,#2d8af5 77.8%,#00b8c8 78.6%,#bbc430 79.8%,#ccc028 80.6%,#65cd6e 81.3%,#05bcc0 81.9%,#3876fe 83.3%,#19addc 84.6%,#09bdbe 84.9%,#c3c22b 86.2%,#c7c229 86.9%,#54cc7d 87.7%,#01b7ca 88.3%,#2f81fa 89.2%,#2e83f9 90.2%,#01bac5 91.2%,#bec32e 92.4%,#cbc128 93.1%,#61cd71 93.9%,#02bbc3 94.5%,#3975fe 95.9%,#18aedb 97.2%,#0bbdbd 97.5%,#b6c532 98.6%,#cfc027 99.3%,#8ecb4f 99.9%)"></div><div style="left:83.1px;top:0;width:3.27px;height:165.1px;background:linear-gradient(#13beb8 0.0%,#47cb86 4.1%,#dcbd29 6.5%,#fec437 8.0%,#ecba32 9.2%,#aec637 9.8%,#0dbdbc 10.9%,#13b0d7 11.2%,#426afe 12.7%,#259ce7 14.1%,#02b7cb 14.5%,#b4c533 15.7%,#dcbd29 16.5%,#a1c840 17.3%,#0bbdbd 18.2%,#3479fd 19.4%,#2e86f7 20.4%,#08bcbe 21.4%,#c4c22a 22.6%,#cbc128 23.3%,#7acc5d 23.9%,#00b9c6 24.7%,#327cfc 25.7%,#2d89f5 26.8%,#00b9c7 27.6%,#bec32e 28.8%,#cac128 29.5%,#79cc5e 30.1%,#00b9c8 30.9%,#2f81fa 31.8%,#2e85f8 32.9%,#06bcc0 33.8%,#b5c533 34.8%,#ccc028 35.6%,#83cc57 36.2%,#03bbc2 36.9%,#3578fd 38.2%,#249fe5 39.4%,#02bbc3 39.8%,#c1c32c 41.0%,#c4c22b 41.8%,#4bcb83 42.5%,#05bcc0 43.0%,#3579fd 44.2%,#249ee6 45.4%,#01bac5 45.9%,#c0c32c 47.1%,#c5c22a 47.8%,#4ecc81 48.6%,#07bcbe 49.1%,#3579fd 50.3%,#259de6 51.5%,#00b9c6 51.9%,#bfc32d 53.1%,#c5c22a 53.9%,#50cc80 54.7%,#05b6ce 55.3%,#307ffb 56.2%,#2d89f5 57.2%,#00b9c7 58.0%,#bec32e 59.2%,#c6c22a 60.0%,#52cc7e 60.7%,#03b6cd 61.3%,#307ffb 62.2%,#2d89f6 63.3%,#00b8c8 64.1%,#bdc32e 65.3%,#c7c129 66.0%,#54cc7c 66.8%,#02b7cc 67.4%,#2f80fb 68.3%,#2d88f6 69.4%,#01b8ca 70.1%,#bcc42f 71.3%,#c8c129 72.1%,#57cc7a 72.8%,#01b8ca 73.4%,#2d88f6 74.2%,#2f80fb 75.3%,#02b7cc 76.2%,#bac430 77.4%,#c9c128 78.1%,#79cc5e 78.7%,#00b8c8 79.5%,#2f81fa 80.4%,#2e86f7 81.5%,#0abdbd 82.4%,#b8c431 83.4%,#cac128 84.2%,#7ecc5b 84.8%,#01bac5 85.6%,#327cfc 86.6%,#2d8df2 87.7%,#05bcc0 88.4%,#b5c533 89.5%,#ccc028 90.2%,#84cc56 90.9%,#03bbc1 91.6%,#3678fd 92.8%,#249ee6 94.0%,#01bac5 94.5%,#c0c32c 95.7%,#c6c22a 96.5%,#51cc7f 97.2%,#04b6cd 97.8%,#307ffb 98.7%,#2d88f6 99.8%,#2b91ef 99.9%)"></div><div style="left:86.06px;top:0;width:3.27px;height:165.1px;background:linear-gradient(#14bfb8 0.0%,#4fcc81 3.6%,#d6be27 5.8%,#fec636 7.3%,#e9bb2f 8.8%,#b9c430 9.2%,#01bac5 10.4%,#3d71ff 11.8%,#2f80fa 13.0%,#01b8ca 13.9%,#b8c431 15.1%,#dbbd28 15.9%,#95ca49 16.7%,#00b9c7 17.6%,#337bfc 18.6%,#2e86f8 19.7%,#0bbdbd 20.6%,#b9c431 21.7%,#cfc027 22.4%,#88cb53 23.0%,#05bcc0 23.8%,#3678fd 25.0%,#2a93ed 26.0%,#01bac5 26.7%,#c1c32c 27.9%,#c4c22b 28.6%,#48cb86 29.4%,#02bbc2 29.8%,#3678fe 31.0%,#21a3e4 32.3%,#03b6cd 32.6%,#72cd63 33.3%,#c7c129 33.9%,#c6c22a 34.5%,#6ecd66 35.1%,#08bcbe 35.7%,#3579fd 36.9%,#22a1e4 38.2%,#08bdbe 38.6%,#b9c431 39.7%,#cec027 40.3%,#8ecb4f 40.9%,#09bdbd 41.6%,#3579fd 42.9%,#22a1e4 44.1%,#09bdbe 44.5%,#b9c430 45.6%,#cec027 46.2%,#8dcb4f 46.8%,#08bdbe 47.5%,#3579fd 48.8%,#22a2e4 50.0%,#0abdbd 50.4%,#bac430 51.5%,#cec027 52.1%,#8ccb50 52.7%,#07bcbf 53.5%,#3579fd 54.7%,#22a2e4 55.9%,#04b6cd 56.2%,#72cd63 56.9%,#c7c129 57.5%,#c5c22a 58.1%,#4ecc81 58.9%,#06bcc0 59.4%,#3579fd 60.6%,#21a3e4 61.8%,#03b6cd 62.1%,#73cd62 62.8%,#c8c129 63.4%,#c5c22a 64.1%,#4ccc82 64.8%,#05bcc0 65.3%,#3578fd 66.5%,#21a3e3 67.7%,#02b7cc 68.0%,#75cc62 68.7%,#c8c129 69.4%,#c4c22a 70.0%,#4ccb83 70.7%,#04bbc1 71.2%,#3578fd 72.4%,#21a3e3 73.6%,#02b7cc 73.9%,#75cc61 74.7%,#c8c129 75.3%,#c4c22a 75.9%,#4ccb83 76.6%,#04bbc1 77.1%,#3578fd 78.3%,#21a3e3 79.5%,#02b7cc 79.8%,#75cc61 80.6%,#c8c129 81.2%,#c5c22a 81.8%,#4ccb83 82.5%,#05bcc0 83.0%,#3578fd 84.2%,#21a3e4 85.4%,#03b6cd 85.7%,#73cd63 86.5%,#c7c129 87.1%,#c5c22a 87.7%,#4ecc81 88.4%,#06bcbf 88.9%,#3579fd 90.1%,#22a2e4 91.3%,#0abdbd 91.8%,#bac430 92.8%,#c7c129 93.6%,#70cd65 94.2%,#0abdbd 94.8%,#3579fd 96.0%,#2896ec 97.1%,#05bcc0 97.7%,#b7c532 98.7%,#c9c129 99.5%,#93ca4a 99.9%)"></div><div style="left:89.03px;top:0;width:3.27px;height:165.1px;background:linear-gradient(#16bfb7 0.0%,#57cc7a 3.2%,#d8be28 5.1%,#fec636 6.5%,#eeba34 8.2%,#abc739 8.8%,#04bbc1 9.8%,#3c72ff 11.2%,#2f80fa 12.4%,#00b8c9 13.3%,#bcc42f 14.5%,#d9be28 15.3%,#a2c83f 15.9%,#06bcc0 16.8%,#3677fe 18.0%,#2d8ef1 19.1%,#0cbdbc 19.8%,#bbc42f 20.9%,#ccc028 21.7%,#7acc5d 22.3%,#01b8c9 23.0%,#2d87f7 23.8%,#2f81fa 24.8%,#01bac5 25.7%,#b3c534 26.8%,#d0c027 27.4%,#96ca48 28.0%,#02b7cb 28.9%,#2e86f7 29.7%,#2e85f8 30.7%,#0cbdbc 31.6%,#bcc42f 32.7%,#cbc128 33.3%,#81cc59 33.9%,#00b9c7 34.7%,#2f80fa 35.6%,#2d8cf3 36.6%,#09bdbe 37.4%,#bbc430 38.5%,#cbc128 39.1%,#81cc58 39.7%,#00b9c7 40.4%,#2f80fa 41.3%,#2d8df2 42.4%,#0abdbd 43.2%,#bcc42f 44.2%,#cac128 44.8%,#7fcc5a 45.4%,#00b9c8 46.2%,#2f80fb 47.1%,#2d8df2 48.2%,#04b6cd 48.8%,#75cc61 49.5%,#c8c129 50.1%,#c0c32d 50.7%,#01b8c9 51.9%,#2e87f7 52.7%,#2e86f8 53.8%,#02b7cc 54.5%,#78cc5f 55.3%,#c9c129 55.9%,#bfc32d 56.5%,#02b7cb 57.7%,#2e86f7 58.4%,#2e86f7 59.5%,#01b7ca 60.3%,#bfc32d 61.5%,#c8c129 62.1%,#77cc60 62.7%,#03b6cc 63.4%,#2e85f8 64.2%,#2e87f7 65.3%,#01b8c9 66.0%,#c0c32d 67.2%,#c8c129 67.8%,#75cc61 68.4%,#04b6ce 69.2%,#307efb 70.1%,#2c90ef 71.2%,#00b9c8 71.8%,#c1c32c 73.0%,#c7c129 73.6%,#73cd63 74.2%,#0abdbd 74.8%,#307efc 75.9%,#2b91ef 76.9%,#00b9c7 77.5%,#c1c32c 78.7%,#c7c129 79.3%,#72cd64 80.0%,#09bdbe 80.6%,#317dfc 81.6%,#2b91ef 82.7%,#00b9c7 83.3%,#c2c22c 84.5%,#c7c129 85.1%,#72cd64 85.7%,#09bdbe 86.3%,#317dfc 87.4%,#2b91ef 88.4%,#00b9c7 89.0%,#c1c32c 90.2%,#c8c129 90.9%,#73cd62 91.5%,#0bbdbd 92.1%,#307efb 93.1%,#2c90ef 94.2%,#00b8c9 94.8%,#c0c32c 96.0%,#c9c129 96.6%,#77cc60 97.2%,#03b6cd 98.0%,#2e85f8 98.7%,#2e86f7 99.8%,#2c8ff0 99.9%)"></div><div style="left:92px;top:0;width:3.27px;height:165.1px;background:linear-gradient(#17bfb6 0.0%,#5ecd74 2.7%,#dabd28 4.5%,#fec735 5.9%,#f1ba37 7.6%,#b1c635 8.2%,#08bcbe 9.2%,#3b72ff 10.6%,#2f80fa 11.8%,#00b9c7 12.7%,#bfc32d 13.9%,#d7be28 14.7%,#97ca48 15.3%,#00b8c9 16.2%,#2f80fb 17.1%,#2e84f9 18.2%,#0bbdbd 19.1%,#bcc42f 20.1%,#d0bf27 20.7%,#8ecb4e 21.4%,#06bcbf 22.1%,#3678fe 23.3%,#1fa5e2 24.5%,#00b9c8 24.8%,#b3c534 25.9%,#cfc027 26.5%,#8fcb4d 27.1%,#06bcbf 27.9%,#317cfc 28.9%,#2994ed 30.0%,#05bcc0 30.6%,#bac430 31.6%,#cac128 32.3%,#7bcc5d 32.9%,#02b7cc 33.6%,#2e85f8 34.4%,#2f81fa 35.3%,#02bbc3 36.2%,#b8c431 37.3%,#cac128 37.9%,#7dcc5b 38.5%,#01b7cb 39.2%,#2e85f8 40.0%,#2f81fa 40.9%,#02bbc3 41.8%,#b8c431 42.9%,#cac128 43.5%,#7ccc5c 44.1%,#02b7cb 44.8%,#2e85f8 45.6%,#2f82fa 46.5%,#03bbc2 47.4%,#b9c431 48.5%,#c9c128 49.1%,#7bcc5d 49.7%,#03b7cc 50.4%,#2e85f8 51.2%,#2f82fa 52.1%,#04bbc1 53.0%,#bac430 54.1%,#c9c129 54.7%,#78cc5f 55.3%,#04b6cd 56.0%,#2e84f8 56.8%,#2e83f9 57.7%,#05bcc0 58.6%,#bbc430 59.7%,#c8c129 60.3%,#76cc60 60.9%,#0bbdbc 61.5%,#317dfc 62.5%,#2895ec 63.6%,#07bcbf 64.2%,#bcc42f 65.3%,#c8c129 65.9%,#74cd62 66.5%,#09bdbe 67.1%,#317dfc 68.1%,#2895ec 69.2%,#09bdbe 69.8%,#bcc42f 70.9%,#c7c129 71.5%,#73cd63 72.1%,#08bcbe 72.7%,#317dfc 73.7%,#2896ec 74.8%,#0abdbd 75.4%,#bdc42e 76.5%,#c8c129 77.1%,#72cd63 77.7%,#07bcbf 78.3%,#317dfc 79.3%,#2896ec 80.4%,#0abdbd 81.0%,#bdc32e 82.1%,#c7c129 82.7%,#72cd63 83.3%,#07bcbf 83.9%,#317dfc 84.9%,#2896ec 86.0%,#09bdbd 86.6%,#bdc42f 87.7%,#c8c129 88.3%,#74cd62 88.9%,#09bdbe 89.5%,#317dfc 90.6%,#2895ec 91.6%,#07bcbf 92.2%,#bcc42f 93.3%,#c9c129 93.9%,#77cc60 94.5%,#0cbdbc 95.1%,#317dfc 96.2%,#2994ed 97.2%,#04bbc1 97.8%,#bac430 98.9%,#cac128 99.5%,#98ca47 99.9%)"></div><div style="left:94.97px;top:0;width:3.27px;height:165.1px;background:linear-gradient(#1abfb5 0.0%,#64cd6f 2.3%,#dbbd28 3.9%,#fec835 5.3%,#f3ba39 7.0%,#b3c534 7.6%,#0abdbd 8.6%,#3b73ff 10.0%,#3678fd 11.1%,#01bac5 12.1%,#c3c22b 13.3%,#d5be27 14.1%,#8dcb50 14.7%,#06bcc0 15.4%,#3776fe 16.7%,#2995ec 17.7%,#06bcbf 18.3%,#bcc42f 19.4%,#cfc027 20.0%,#89cb52 20.6%,#01bac4 21.4%,#337afd 22.4%,#2797eb 23.5%,#03b6cd 23.9%,#7acc5d 24.7%,#cac128 25.3%,#bbc42f 25.9%,#03bbc2 27.0%,#3678fe 28.2%,#15afd9 29.4%,#00b8c8 29.5%,#b5c533 30.6%,#cac128 31.2%,#7dcc5b 31.8%,#02b7cc 32.6%,#2e84f8 33.3%,#2e84f9 34.2%,#03b6cd 35.0%,#7ccc5c 35.7%,#cac128 36.3%,#b4c533 36.9%,#01b8c9 38.0%,#2e85f8 38.8%,#2e83f9 39.7%,#0bbdbc 40.6%,#bfc32d 41.6%,#c4c22b 42.2%,#64cd6f 42.9%,#00b8c8 43.5%,#2e86f8 44.2%,#2e83f9 45.1%,#0abdbd 46.0%,#bfc32d 47.1%,#c4c22b 47.7%,#65cd6e 48.3%,#00b9c8 48.9%,#2e86f7 49.7%,#2f82f9 50.6%,#09bdbe 51.5%,#bec32d 52.5%,#c4c22b 53.1%,#66cd6d 53.8%,#00b9c7 54.4%,#2e86f7 55.1%,#2f82f9 56.0%,#08bcbe 56.9%,#bec32e 58.0%,#c4c22b 58.6%,#66cd6d 59.2%,#00b9c7 59.8%,#2e86f7 60.6%,#2f82f9 61.5%,#08bcbe 62.4%,#bec32e 63.4%,#c4c22a 64.1%,#67cd6c 64.7%,#00b9c7 65.3%,#2f7ffb 66.2%,#2d8af4 67.1%,#07bcbf 67.8%,#bdc32e 68.9%,#c5c22a 69.5%,#68cd6b 70.1%,#00b9c6 70.7%,#2f7ffb 71.6%,#2d8af5 72.5%,#05bcc0 73.3%,#bdc42f 74.3%,#c5c22a 75.0%,#6acd6a 75.6%,#01bac5 76.2%,#2f80fb 77.1%,#2d89f5 78.0%,#04bbc1 78.7%,#bcc42f 79.8%,#c6c22a 80.4%,#6ccd68 81.0%,#01bac4 81.6%,#337bfc 82.7%,#259de7 83.7%,#02bbc3 84.2%,#bac430 85.3%,#c7c129 85.9%,#70cd65 86.5%,#03bbc2 87.1%,#327bfc 88.1%,#259be8 89.2%,#01bac5 89.6%,#b8c431 90.7%,#c8c129 91.3%,#74cd62 91.9%,#06bcbf 92.5%,#327cfc 93.6%,#269ae9 94.6%,#00b9c8 95.1%,#b6c532 96.2%,#cac128 96.8%,#7acc5d 97.4%,#04b6ce 98.1%,#2e83f9 98.9%,#2e84f8 99.8%,#2d8df2 99.9%)"></div><div style="left:97.93px;top:0;width:3.27px;height:165.1px;background:linear-gradient(#1dc0b3 0.0%,#66cd6d 1.8%,#d9bd28 3.3%,#fec636 4.5%,#f3ba39 6.4%,#b4c534 7.0%,#0bbdbd 8.0%,#15afd9 8.3%,#4369fe 9.8%,#1da8e1 11.2%,#01bac5 11.5%,#c5c22a 12.7%,#d3bf27 13.5%,#84cc56 14.1%,#00b9c6 14.8%,#3579fd 15.9%,#2b91ef 17.0%,#01bac5 17.6%,#b9c430 18.6%,#cfc027 19.2%,#88cb54 19.8%,#00b9c7 20.6%,#307ffb 21.5%,#2d87f7 22.4%,#01bac4 23.2%,#bbc430 24.2%,#c9c129 24.8%,#73cd63 25.4%,#04bbc1 26.0%,#337bfc 27.1%,#259ce7 28.2%,#02bbc2 28.6%,#bcc42f 29.7%,#c5c22a 30.3%,#67cd6c 30.9%,#00b8c8 31.5%,#2e85f8 32.3%,#2e84f8 33.2%,#01b7cb 33.9%,#b5c533 35.0%,#c8c129 35.6%,#72cd63 36.2%,#03bbc2 36.8%,#337bfd 37.9%,#23a0e5 38.9%,#0cbdbc 39.4%,#b1c635 40.3%,#c9c128 40.9%,#79cc5e 41.5%,#08bcbe 42.1%,#327cfc 43.2%,#249ee6 44.2%,#06bcc0 44.7%,#bfc32d 45.7%,#c2c32c 46.3%,#5dcd75 46.9%,#04b6ce 47.5%,#2e83f9 48.3%,#2d88f6 49.2%,#02bbc3 50.0%,#bcc42f 51.0%,#c3c22b 51.6%,#62cd70 52.2%,#02b7cb 52.8%,#2e84f9 53.6%,#2e86f7 54.5%,#01bac6 55.3%,#bac430 56.3%,#c5c22a 56.9%,#67cd6c 57.5%,#00b8c8 58.1%,#2e85f8 58.9%,#2e85f8 59.8%,#00b8c8 60.6%,#b7c531 61.6%,#c6c22a 62.2%,#6ccd68 62.8%,#01bac5 63.4%,#307ffb 64.4%,#2d8cf3 65.3%,#02b7cb 65.9%,#b5c533 66.9%,#c8c129 67.5%,#72cd64 68.1%,#03bbc2 68.7%,#337bfd 69.8%,#23a0e5 70.9%,#05b6ce 71.2%,#5ccc76 71.8%,#c1c32c 72.4%,#bfc32d 73.0%,#07bcbf 74.0%,#327bfc 75.1%,#249ee6 76.2%,#06bcbf 76.6%,#bfc32d 77.7%,#c1c32c 78.3%,#5dcd75 78.9%,#04b6ce 79.5%,#2e83f9 80.3%,#2d87f7 81.2%,#02bbc3 81.9%,#bcc42f 83.0%,#c4c22b 83.6%,#64cd6f 84.2%,#01b8ca 84.8%,#2e84f8 85.6%,#2e85f8 86.5%,#00b9c7 87.2%,#b8c431 88.3%,#c7c129 88.9%,#6ccd68 89.5%,#01bac5 90.1%,#307ffb 91.0%,#2d8cf3 91.9%,#03b7cc 92.5%,#81cc58 93.3%,#cbc128 93.9%,#adc638 94.5%,#05bcc0 95.4%,#327bfc 96.5%,#249ee6 97.5%,#06bcbf 98.0%,#bfc32d 99.0%,#c3c22b 99.6%,#9dc943 99.9%)"></div><div style="left:100.9px;top:0;width:3.27px;height:165.1px;background:linear-gradient(#20c1b1 0.0%,#6ecd67 1.5%,#d4be27 2.7%,#fec636 3.9%,#f5ba3b 5.8%,#b6c532 6.4%,#0cbdbc 7.4%,#15b0d8 7.7%,#4368fe 9.2%,#1ea7e1 10.6%,#00b9c6 10.9%,#c6c22a 12.1%,#d3bf27 12.9%,#7fcc5a 13.5%,#01b7cb 14.2%,#2e84f8 15.0%,#327bfc 15.9%,#19addc 16.7%,#03b7cc 16.8%,#7fcc5a 17.6%,#cec027 18.2%,#bbc42f 18.8%,#00b9c6 19.8%,#307efb 20.7%,#2d89f5 21.7%,#09bdbe 22.4%,#b1c635 23.3%,#ccc028 23.9%,#7fcc5a 24.5%,#0dbdbb 25.1%,#1aabdd 25.4%,#3677fe 26.5%,#0db3d3 27.6%,#04bcc1 27.7%,#bfc32d 28.8%,#c1c32c 29.4%,#3bc993 30.1%,#07bcbe 30.4%,#337bfc 31.5%,#23a1e5 32.6%,#03b6cd 32.9%,#83cc57 33.6%,#cbc128 34.2%,#a7c73c 34.8%,#00b9c8 35.7%,#2e85f8 36.5%,#2e87f7 37.4%,#03bbc2 38.2%,#bfc32d 39.2%,#c0c32d 39.8%,#39c995 40.6%,#05bcc0 40.9%,#337bfd 41.9%,#21a3e4 43.0%,#01b8c9 43.3%,#b9c431 44.4%,#c4c22b 45.0%,#62cd71 45.6%,#03b6cd 46.2%,#2e83f9 46.9%,#2d8af5 47.8%,#0cbdbc 48.6%,#b3c534 49.5%,#c7c129 50.1%,#6dcd67 50.7%,#00b9c6 51.3%,#2e85f8 52.1%,#2e87f7 53.0%,#02bbc3 53.8%,#bec32e 54.8%,#c0c32d 55.4%,#39c995 56.2%,#05bcc0 56.5%,#337bfd 57.5%,#21a3e4 58.6%,#01b8c9 58.9%,#b9c430 60.0%,#c4c22b 60.6%,#62cd71 61.2%,#03b6cd 61.8%,#2e82f9 62.5%,#2d8af5 63.4%,#0cbdbc 64.2%,#b3c534 65.1%,#c7c129 65.7%,#6dcd67 66.3%,#00b9c7 66.9%,#2e85f8 67.7%,#2e87f7 68.6%,#02bbc3 69.4%,#bec32e 70.4%,#c0c32d 71.0%,#39c994 71.8%,#05bcc0 72.1%,#337bfd 73.1%,#22a2e4 74.2%,#01b8ca 74.5%,#b9c431 75.6%,#c4c22a 76.2%,#63cd70 76.8%,#02b7cc 77.4%,#2e83f9 78.1%,#2d89f5 79.0%,#09bdbe 79.8%,#b2c635 80.7%,#c8c129 81.3%,#70cd65 81.9%,#01bac5 82.5%,#307ffb 83.4%,#2c8ff1 84.3%,#01bac5 84.9%,#bcc42f 86.0%,#c2c22c 86.6%,#5ccc76 87.2%,#0bbdbd 87.7%,#2f81fa 88.6%,#2d8bf4 89.5%,#03b6cd 90.1%,#61cd72 90.7%,#c4c22b 91.3%,#bac430 91.9%,#00b9c8 93.0%,#2e84f8 93.7%,#2e87f7 94.6%,#02bbc3 95.4%,#bec32e 96.5%,#c1c32c 97.1%,#59cc78 97.7%,#07bcbf 98.1%,#337bfc 99.2%,#2d8bf4 99.9%)"></div><div style="left:103.87px;top:0;width:3.27px;height:165.1px;background:linear-gradient(#23c1af 0.0%,#6fcd65 1.2%,#d4bf27 2.3%,#fec835 3.5%,#eeba34 5.3%,#bcc42f 5.8%,#11beb9 6.8%,#01b8c9 7.0%,#416cfe 8.3%,#337bfc 9.4%,#01b8c9 10.3%,#b3c534 11.4%,#dcbd29 12.0%,#b5c533 12.6%,#0fbebb 13.5%,#04b6cd 13.6%,#337bfc 14.5%,#2e86f8 15.4%,#01bac4 16.2%,#bec32e 17.3%,#ccc028 17.9%,#74cd62 18.5%,#02bbc2 19.1%,#3579fd 20.1%,#249fe5 21.2%,#05b6ce 21.5%,#60cd72 22.1%,#c5c22a 22.7%,#bec32e 23.3%,#00bac6 24.4%,#2e85f8 25.1%,#2e86f8 26.0%,#02bbc3 26.8%,#c0c32d 27.9%,#c0c32d 28.5%,#02bac3 29.5%,#347afd 30.6%,#1ea7e1 31.6%,#04bbc1 32.0%,#b1c635 32.9%,#c8c129 33.5%,#6dcd68 34.1%,#00b8c8 34.7%,#2e84f9 35.4%,#2d89f5 36.3%,#05b6ce 36.9%,#62cd71 37.6%,#c4c22a 38.2%,#b6c532 38.8%,#0dbdbc 39.7%,#2f81fa 40.6%,#2d8df2 41.5%,#00b9c6 42.1%,#bec32e 43.2%,#bfc32d 43.8%,#01bac4 44.8%,#307efb 45.7%,#2b92ee 46.6%,#09bdbe 47.2%,#b4c533 48.2%,#c5c22a 48.8%,#64cd6f 49.4%,#03b6cd 50.0%,#2f82fa 50.7%,#2d8cf3 51.6%,#00b8c9 52.2%,#bcc42f 53.3%,#c0c32d 53.9%,#55cc7b 54.5%,#02bbc2 55.0%,#347afd 56.0%,#1da8e0 57.1%,#06bcc0 57.4%,#b2c635 58.3%,#c6c22a 58.9%,#67cd6c 59.5%,#02b7cb 60.1%,#2f82f9 60.9%,#2d8bf4 61.8%,#01b7cb 62.4%,#bac430 63.4%,#c1c32c 64.1%,#58cc79 64.7%,#05bcc0 65.1%,#337afd 66.2%,#1ea7e1 67.2%,#03bbc2 67.5%,#b0c636 68.4%,#c7c129 69.0%,#6bcd69 69.7%,#01b8c9 70.3%,#2e83f9 71.0%,#2d8af4 71.9%,#03b6cd 72.5%,#65cd6e 73.1%,#c5c22a 73.7%,#b4c533 74.3%,#09bdbe 75.3%,#2f80fa 76.2%,#2d8ef1 77.1%,#01bac5 77.7%,#bfc32d 78.7%,#bec32e 79.3%,#00b9c6 80.4%,#2e84f8 81.2%,#2d88f6 82.1%,#0bbdbd 82.8%,#b5c533 83.7%,#c5c22a 84.3%,#64cd6f 84.9%,#04b6cd 85.6%,#2f82fa 86.3%,#2d8cf3 87.2%,#01b8c9 87.8%,#bcc42f 88.9%,#c1c32c 89.5%,#57cc7a 90.1%,#04bbc1 90.6%,#347afd 91.6%,#1ea7e1 92.7%,#03bbc2 93.0%,#b0c636 93.9%,#c8c129 94.5%,#8fcb4e 94.9%,#00b9c8 95.7%,#2e84f9 96.5%,#2d89f5 97.4%,#0dbdbc 98.1%,#b6c532 99.0%,#c5c22a 99.6%,#a3c83f 99.9%)"></div><div style="left:106.84px;top:0;width:3.27px;height:165.1px;background:linear-gradient(#26c2ad 0.0%,#7acc5e 1.1%,#d8be28 2.0%,#fec735 3.0%,#f5ba3b 4.7%,#c8c129 5.1%,#02bac3 6.4%,#416cfe 7.7%,#3777fe 8.8%,#0abdbd 9.8%,#c3c22b 10.9%,#d5be27 11.7%,#81cc58 12.3%,#10beba 12.9%,#03b6cd 13.0%,#2f81fa 13.8%,#307efb 14.7%,#06bcbf 15.6%,#b3c534 16.5%,#d0bf27 17.1%,#85cb56 17.7%,#0fbeba 18.3%,#04b6ce 18.5%,#2f80fa 19.2%,#2d88f6 20.1%,#0cbdbc 20.9%,#b7c532 21.8%,#c9c129 22.4%,#68cd6b 23.0%,#02b7cc 23.6%,#2f81fa 24.4%,#2d8bf4 25.3%,#01b7cb 25.9%,#bdc42e 27.0%,#c2c22c 27.6%,#55cc7c 28.2%,#02bac3 28.6%,#3579fd 29.7%,#1babde 30.7%,#05b6ce 30.9%,#65cd6e 31.5%,#c6c22a 32.1%,#b2c635 32.7%,#02bbc3 33.6%,#3479fd 34.7%,#1aabdd 35.7%,#04b6cd 35.9%,#66cd6d 36.5%,#bac430 36.9%,#c1c32c 37.6%,#53cc7d 38.2%,#01bac5 38.6%,#317dfc 39.5%,#2895ec 40.4%,#01b7cb 40.9%,#bdc42f 41.9%,#bec32e 42.5%,#00b8c8 43.6%,#2e83f9 44.4%,#2d8cf3 45.3%,#00b9c7 45.9%,#bfc32d 46.9%,#bcc42f 47.5%,#02b7cc 48.6%,#2f81fa 49.4%,#2d8ef1 50.3%,#02bbc3 50.9%,#b2c635 51.8%,#c5c22a 52.4%,#62cd70 53.0%,#0dbdbc 53.5%,#2f80fb 54.4%,#2c90ef 55.3%,#07bcbf 55.9%,#b5c533 56.8%,#c4c22b 57.4%,#5ccc76 58.0%,#05bcc0 58.4%,#307efb 59.4%,#2a92ee 60.3%,#06b5cf 60.7%,#64cd6f 61.3%,#c6c22a 61.9%,#b1c635 62.5%,#01bac4 63.4%,#317dfc 64.4%,#2995ec 65.3%,#02b7cb 65.7%,#bcc42f 66.8%,#bfc32d 67.4%,#00b9c8 68.4%,#2e83f9 69.2%,#2d8cf3 70.1%,#00b9c8 70.7%,#bfc32d 71.8%,#bcc42f 72.4%,#02b7cb 73.4%,#2f81fa 74.2%,#2d8ef2 75.1%,#01bac4 75.7%,#b1c635 76.6%,#c6c22a 77.2%,#88cb53 77.7%,#10beba 78.3%,#05b6ce 78.4%,#2f80fa 79.2%,#2c8ff0 80.1%,#04bbc1 80.7%,#b4c534 81.6%,#c5c22a 82.2%,#60cd73 82.8%,#0abdbd 83.3%,#2f7ffb 84.2%,#2b91ef 85.1%,#08bcbe 85.7%,#b6c532 86.6%,#c3c22b 87.2%,#5bcc76 87.8%,#05bcc0 88.3%,#307ffb 89.2%,#2b92ee 90.1%,#0dbdbc 90.7%,#b8c431 91.6%,#c2c22b 92.2%,#58cc79 92.8%,#03bbc2 93.3%,#3479fd 94.3%,#1babde 95.4%,#04b6ce 95.5%,#65cd6e 96.2%,#c7c129 96.8%,#b1c635 97.4%,#02bac3 98.3%,#3579fd 99.3%,#2d89f5 99.9%)"></div><div style="left:109.8px;top:0;width:3.27px;height:165.1px;background:linear-gradient(#29c3aa 0.0%,#7dcc5b 0.9%,#d5be27 1.7%,#fec438 2.6%,#f4ba3a 4.2%,#c4c22a 4.7%,#13beb9 5.8%,#00b8c9 5.9%,#3f6eff 7.1%,#3c71ff 8.2%,#00b9c6 9.2%,#bdc42e 10.3%,#debd29 10.9%,#a9c73a 11.5%,#00b8c9 12.4%,#2f82f9 13.2%,#307efc 14.1%,#08bcbe 15.0%,#b7c532 15.9%,#d0c027 16.5%,#7bcc5d 17.1%,#03bbc2 17.7%,#3677fe 18.8%,#1fa6e2 19.8%,#02bbc2 20.1%,#b4c533 21.0%,#cac128 21.7%,#8ecb4f 22.1%,#14bfb8 22.7%,#03b6cd 22.9%,#2f80fb 23.6%,#2d8df2 24.5%,#02bac3 25.1%,#b4c533 26.0%,#c7c129 26.7%,#86cb55 27.1%,#09bdbd 27.7%,#307efb 28.6%,#2a92ee 29.5%,#04b6ce 30.0%,#69cd6b 30.6%,#bdc42e 31.0%,#bfc32d 31.6%,#01b7cb 32.7%,#2d89f5 33.3%,#307efb 34.1%,#07bcbf 35.0%,#b9c431 35.9%,#c2c32c 36.5%,#52cc7e 37.1%,#00b9c7 37.6%,#2f82fa 38.3%,#2d8ef1 39.2%,#03bbc2 39.8%,#b6c532 40.7%,#c3c22b 41.3%,#56cc7b 41.9%,#01bac5 42.4%,#2e83f9 43.2%,#2d8df2 44.1%,#01bac4 44.7%,#b4c534 45.6%,#c5c22a 46.2%,#5acc78 46.8%,#02bbc3 47.2%,#3579fd 48.3%,#15afd9 49.4%,#00b9c6 49.5%,#b2c635 50.4%,#c5c22a 51.0%,#5dcd75 51.6%,#04bbc1 52.1%,#317dfc 53.0%,#2896ec 53.9%,#00b9c8 54.4%,#b0c636 55.3%,#ccc028 55.7%,#a2c83f 56.2%,#07bcbf 56.9%,#307efb 57.8%,#2895ec 58.8%,#01b8ca 59.2%,#aec637 60.1%,#ccc028 60.6%,#a5c83d 61.0%,#0abdbd 61.8%,#307efb 62.7%,#2994ed 63.6%,#02b7cb 64.1%,#bfc32d 65.1%,#bcc42f 65.7%,#0ebebb 66.6%,#1caadf 66.9%,#3678fd 67.8%,#1babde 68.7%,#04b6cd 68.9%,#6acd6a 69.5%,#bdc32e 70.0%,#c8c129 70.4%,#8dcb4f 70.9%,#13beb9 71.5%,#04b6ce 71.6%,#2f80fb 72.4%,#2b91ef 73.3%,#06b5cf 73.7%,#43cb8a 74.2%,#bcc42f 74.8%,#bfc32d 75.4%,#02b7cb 76.5%,#2d89f5 77.1%,#307efb 77.8%,#0abdbd 78.7%,#bac430 79.6%,#c0c32c 80.3%,#4fcc81 80.9%,#00b8c9 81.3%,#2d8af4 81.9%,#307dfc 82.7%,#05bcc0 83.6%,#b8c531 84.5%,#c2c22b 85.1%,#54cc7d 85.7%,#00b9c6 86.2%,#2f82f9 86.9%,#2d8df2 87.8%,#02bac3 88.4%,#b5c533 89.3%,#c5c22a 89.9%,#5acc78 90.6%,#02bbc2 91.0%,#3579fd 92.1%,#16afd9 93.1%,#00b9c7 93.3%,#b1c635 94.2%,#c7c129 94.8%,#61cd72 95.4%,#08bcbe 95.9%,#307efb 96.8%,#2994ed 97.7%,#02b7cb 98.1%,#bfc32d 99.2%,#bdc42e 99.8%,#a8c73b 99.9%)"></div><div style="left:112.77px;top:0;width:3.27px;height:165.1px;background:linear-gradient(#2bc3a8 0.0%,#a5c83d 1.1%,#e5bb2c 1.7%,#feca33 2.7%,#eaba30 3.9%,#b0c636 4.4%,#14beb8 5.3%,#01b8c9 5.5%,#406dfe 6.7%,#3b72ff 7.7%,#04bbc1 8.8%,#c5c22a 9.8%,#debd29 10.4%,#9ec942 11.1%,#06bcc0 11.8%,#3876fe 12.9%,#2d8ef2 13.8%,#02bbc2 14.4%,#b6c532 15.3%,#d1bf27 15.9%,#9bc944 16.4%,#01bac5 17.1%,#337bfd 18.0%,#2b92ee 18.9%,#05b6ce 19.4%,#69cd6a 20.0%,#bfc32d 20.4%,#c4c22a 21.0%,#52cc7e 21.7%,#00b9c8 22.1%,#2f81fa 22.9%,#2e83f9 23.6%,#03bbc2 24.4%,#b8c431 25.3%,#cdc028 25.7%,#9cc944 26.2%,#00b9c6 27.0%,#2f81fa 27.7%,#2e84f9 28.5%,#06bcbf 29.2%,#bbc42f 30.1%,#cbc128 30.6%,#93ca4b 31.0%,#03b6cd 31.8%,#2d87f7 32.4%,#2f7ffb 33.2%,#1aacdd 33.8%,#02b7cc 33.9%,#b0c636 34.8%,#cdc028 35.3%,#a2c83f 35.7%,#03bbc2 36.5%,#327cfc 37.4%,#2699e9 38.3%,#05bcc0 38.8%,#bac430 39.7%,#cac128 40.1%,#91ca4c 40.6%,#14beb8 41.2%,#04b6ce 41.3%,#307ffb 42.1%,#2994ed 43.0%,#01b8c9 43.5%,#b2c635 44.4%,#ccc028 44.8%,#9ec942 45.3%,#01bac5 46.0%,#2f82fa 46.8%,#2e85f8 47.5%,#0bbdbd 48.3%,#bdc32e 49.2%,#c9c128 49.7%,#8ccb50 50.1%,#0cbdbc 50.7%,#317dfc 51.6%,#2796eb 52.5%,#01bac5 53.0%,#b6c532 53.9%,#cbc028 54.4%,#98ca47 54.8%,#01b8c9 55.6%,#2d89f5 56.2%,#307ffb 56.9%,#04b6cd 57.7%,#6ecd67 58.3%,#c0c32d 58.8%,#c7c129 59.2%,#84cc56 59.7%,#04bbc1 60.3%,#317cfc 61.2%,#2699e9 62.1%,#04bbc1 62.5%,#bac430 63.4%,#cbc128 63.9%,#92ca4b 64.4%,#14bfb8 65.0%,#04b6cd 65.1%,#307ffb 65.9%,#2994ed 66.8%,#01b8ca 67.2%,#b2c635 68.1%,#ccc028 68.6%,#9ec942 69.0%,#01bac5 69.8%,#2f82fa 70.6%,#2e85f8 71.3%,#0abdbd 72.1%,#bdc42e 73.0%,#c9c129 73.4%,#8ccb50 73.9%,#0dbdbc 74.5%,#307efc 75.4%,#2896eb 76.3%,#00b9c6 76.8%,#b5c533 77.7%,#ccc028 78.1%,#9ac945 78.6%,#00b9c8 79.3%,#2d8af5 80.0%,#307efb 80.7%,#06b5cf 81.5%,#6bcd69 82.1%,#bfc32d 82.5%,#c9c129 83.0%,#88cb53 83.4%,#07bcbf 84.0%,#317dfc 84.9%,#2797eb 85.9%,#01bac4 86.3%,#b7c532 87.2%,#cbc028 87.7%,#97ca48 88.1%,#01b8ca 88.9%,#2d89f6 89.5%,#307ffb 90.2%,#04b6ce 91.0%,#6dcd67 91.6%,#c0c32d 92.1%,#c8c129 92.5%,#86cb55 93.0%,#06bcc0 93.6%,#317dfc 94.5%,#2798ea 95.4%,#02bbc3 95.9%,#b8c431 96.8%,#c3c22b 97.4%,#4fcc80 98.0%,#01b8ca 98.4%,#2d89f6 99.0%,#307efb 99.8%,#2e87f7 99.9%)"></div><div style="left:115.74px;top:0;width:3.27px;height:165.1px;background:linear-gradient(#2dc4a6 0.0%,#c8c129 1.2%,#fec239 2.1%,#f0ba36 3.5%,#bcc42f 3.9%,#02bac4 5.0%,#3f6efe 6.2%,#3c71ff 7.3%,#05bcc0 8.3%,#c8c129 9.4%,#dfbc29 10.0%,#b6c533 10.4%,#01bac5 11.4%,#3a73ff 12.4%,#2a93ee 13.3%,#02b7cc 13.8%,#afc636 14.7%,#d4bf27 15.3%,#a3c83e 15.7%,#03bbc2 16.5%,#3876fe 17.6%,#1aacdd 18.6%,#02b7cc 18.8%,#b2c635 19.7%,#d1bf27 20.1%,#abc739 20.6%,#0bbdbd 21.4%,#327cfc 22.3%,#2995ec 23.2%,#00b9c7 23.6%,#b7c531 24.5%,#cec027 25.0%,#9cc944 25.4%,#00b8c9 26.2%,#2d88f6 26.8%,#307efb 27.6%,#1aabdd 28.2%,#02b7cc 28.3%,#b2c534 29.2%,#cec027 29.7%,#9ec942 30.1%,#00b9c8 30.9%,#2d89f6 31.5%,#307ffb 32.3%,#1aacdd 32.9%,#01b7cb 33.0%,#b4c533 33.9%,#cdc027 34.4%,#9ac945 34.8%,#01b7ca 35.6%,#2d87f7 36.2%,#2f80fb 36.9%,#17aeda 37.6%,#00b9c7 37.7%,#b8c531 38.6%,#ccc028 39.1%,#93ca4a 39.5%,#12beb9 40.1%,#06b5cf 40.3%,#317dfc 41.0%,#2d8cf3 41.8%,#03bbc2 42.4%,#bcc42f 43.3%,#cac128 43.8%,#8bcb51 44.2%,#07bcbf 44.8%,#327cfc 45.7%,#259be8 46.6%,#0dbdbc 47.1%,#c0c32c 48.0%,#c8c129 48.5%,#82cc58 48.9%,#01bac5 49.5%,#2f81fa 50.3%,#2e87f7 51.0%,#02b7cc 51.6%,#b3c534 52.5%,#cdc028 53.0%,#9bc945 53.5%,#01b7ca 54.2%,#2d87f7 54.8%,#2f80fa 55.6%,#00b9c6 56.3%,#b8c431 57.2%,#cbc028 57.7%,#92ca4b 58.1%,#10beba 58.8%,#1da9e0 59.1%,#3678fe 60.0%,#10b2d5 60.9%,#05bcc0 61.0%,#bdc32e 61.9%,#cac128 62.4%,#89cb52 62.8%,#05bcc0 63.4%,#337bfc 64.4%,#259be7 65.3%,#0fbeba 65.7%,#aec637 66.5%,#cdc027 66.9%,#a1c840 67.4%,#00b9c6 68.1%,#2f80fa 68.9%,#2e87f7 69.7%,#01b7cb 70.3%,#b4c533 71.2%,#cdc028 71.6%,#99c946 72.1%,#02b7cb 72.8%,#2e87f7 73.4%,#2f80fa 74.2%,#00bac6 75.0%,#b9c431 75.9%,#cbc028 76.3%,#91ca4c 76.8%,#0fbebb 77.4%,#2e85f8 78.1%,#2f82f9 78.9%,#05bcc0 79.6%,#bdc32e 80.6%,#cac128 81.0%,#8acb52 81.5%,#06bcc0 82.1%,#327bfc 83.0%,#259be8 83.9%,#0dbdbb 84.3%,#adc638 85.1%,#cec027 85.6%,#a3c83f 86.0%,#01bac4 86.8%,#2f81fa 87.5%,#2e86f7 88.3%,#03b6cd 88.9%,#b2c635 89.8%,#cdc028 90.2%,#9dc943 90.7%,#00b8c9 91.5%,#2d88f6 92.1%,#307ffb 92.8%,#19addb 93.4%,#00b8c9 93.6%,#b6c532 94.5%,#ccc028 94.9%,#98ca47 95.4%,#02b7cc 96.2%,#2e86f7 96.8%,#2f80fa 97.5%,#01bac6 98.3%,#b9c430 99.2%,#ccc028 99.6%,#afc637 99.9%)"></div><div style="left:118.71px;top:0;width:3.27px;height:165.1px;background:linear-gradient(#2ec4a4 0.0%,#c3c22b 1.1%,#fec13a 2.0%,#efba35 3.2%,#b8c431 3.6%,#14bfb8 4.5%,#01b8c9 4.7%,#426afe 5.9%,#3678fe 7.0%,#01bac4 7.9%,#c7c129 8.9%,#e1bc2a 9.5%,#9cc944 10.1%,#00b9c6 10.9%,#3678fe 11.8%,#2d89f5 12.7%,#00b9c6 13.3%,#b9c430 14.2%,#d1bf27 14.8%,#94ca4a 15.3%,#12beb9 15.9%,#05b5cf 16.1%,#3776fe 17.0%,#259de7 17.9%,#04b6ce 18.2%,#71cd64 18.8%,#c5c22a 19.2%,#cdc028 19.7%,#89cb53 20.1%,#03bbc2 20.7%,#347afd 21.7%,#269ae8 22.6%,#0dbdbc 23.0%,#afc636 23.8%,#d0c027 24.2%,#a4c83e 24.7%,#01bac5 25.4%,#2f80fb 26.2%,#2e87f7 27.0%,#01b8ca 27.6%,#b8c431 28.5%,#cdc027 28.9%,#94ca4a 29.4%,#0ebdbb 30.0%,#2e83f9 30.7%,#2e84f9 31.5%,#10beba 32.3%,#b1c635 33.0%,#cec027 33.5%,#9cc944 33.9%,#02b7cc 34.7%,#2e85f8 35.3%,#2f82fa 36.0%,#07bcbf 36.8%,#c1c32c 37.7%,#c8c129 38.2%,#7ecc5b 38.6%,#01b8c9 39.2%,#2e87f7 39.8%,#2f81fa 40.6%,#03bbc1 41.3%,#bfc32d 42.2%,#c9c128 42.7%,#82cc58 43.2%,#00b9c7 43.8%,#2d88f6 44.4%,#2f80fb 45.1%,#01bac4 45.9%,#bdc32e 46.8%,#cac128 47.2%,#86cb55 47.7%,#01bac4 48.3%,#2f80fb 49.1%,#2d88f6 49.8%,#00b9c6 50.4%,#bbc42f 51.3%,#cac128 51.8%,#89cb52 52.2%,#03bbc2 52.8%,#347afd 53.8%,#23a0e5 54.7%,#00b9c8 55.0%,#bac430 55.9%,#cbc128 56.3%,#8ccb50 56.8%,#05bcc0 57.4%,#337afd 58.3%,#249fe5 59.2%,#01b8ca 59.5%,#b8c431 60.4%,#ccc028 60.9%,#90ca4d 61.3%,#08bcbe 61.9%,#337bfd 62.8%,#259de6 63.7%,#02b7cc 64.1%,#b6c532 65.0%,#cdc028 65.4%,#93ca4a 65.9%,#0dbdbc 66.5%,#2e83f9 67.2%,#2e85f8 68.0%,#05b6ce 68.6%,#74cd62 69.2%,#c5c22a 69.7%,#c4c22a 70.1%,#4bcb84 70.7%,#07b5d0 71.2%,#3678fe 72.1%,#1da8e0 73.0%,#10beba 73.3%,#b1c635 74.0%,#cdc027 74.5%,#9ac945 75.0%,#03b6cd 75.7%,#317dfc 76.5%,#2d8df2 77.2%,#0abdbd 77.8%,#afc636 78.6%,#cec027 79.0%,#9ec942 79.5%,#01b7cb 80.3%,#2e86f7 80.9%,#2f81fa 81.6%,#05bcc0 82.4%,#c0c32d 83.3%,#c8c129 83.7%,#80cc59 84.2%,#00b9c8 84.8%,#2d87f6 85.4%,#2f80fa 86.2%,#02bbc3 86.9%,#bec32e 87.8%,#cac128 88.3%,#86cb55 88.7%,#01bac4 89.3%,#2f80fb 90.1%,#2d88f6 90.9%,#00b9c7 91.5%,#bbc42f 92.4%,#ccc028 92.8%,#8ccb50 93.3%,#05bcc0 93.9%,#347afd 94.8%,#249ee6 95.7%,#01b7cb 96.0%,#b7c532 96.9%,#cdc028 97.4%,#93ca4b 97.8%,#0cbdbc 98.4%,#2e83f9 99.2%,#2e84f8 99.9%)"></div><div style="left:121.68px;top:0;width:3.27px;height:165.1px;background:linear-gradient(#30c5a2 0.0%,#cec027 1.1%,#fec239 2.0%,#e4bb2c 3.0%,#9fc941 3.5%,#13beb9 4.2%,#01b7cb 4.4%,#4368fe 5.6%,#317cfc 6.7%,#03b7cc 7.4%,#66cd6d 8.0%,#c2c22b 8.5%,#e3bb2b 9.1%,#a5c83d 9.7%,#03bbc2 10.4%,#3c72ff 11.5%,#2896eb 12.4%,#01bac4 12.9%,#bec32e 13.8%,#d0c027 14.4%,#89cb53 14.8%,#03bbc2 15.4%,#3578fd 16.4%,#2798ea 17.3%,#06bcbf 17.7%,#c3c22b 18.6%,#cec027 19.1%,#8ccb50 19.5%,#04bbc1 20.1%,#3579fd 21.0%,#259de6 22.0%,#02b7cc 22.3%,#b8c431 23.2%,#cfc027 23.6%,#96ca48 24.1%,#0dbdbc 24.7%,#2f82fa 25.4%,#2e84f8 26.2%,#03b6cd 26.8%,#b8c431 27.7%,#cdc027 28.2%,#91ca4c 28.6%,#06bcbf 29.2%,#347afd 30.1%,#23a0e5 31.0%,#00b9c7 31.3%,#bec32e 32.3%,#cac128 32.7%,#84cc56 33.2%,#00b9c7 33.8%,#2e86f7 34.4%,#2f81fa 35.1%,#0abdbd 35.9%,#b1c635 36.6%,#cec027 37.1%,#97ca47 37.6%,#0ebebb 38.2%,#2f82f9 38.9%,#2e86f7 39.7%,#00b8c9 40.3%,#bcc42f 41.2%,#cbc128 41.6%,#85cb55 42.1%,#00b9c7 42.7%,#2e87f7 43.3%,#2f81fa 44.1%,#0abdbd 44.8%,#b2c635 45.6%,#cec027 46.0%,#97ca48 46.5%,#0dbdbb 47.1%,#2f82fa 47.8%,#2e86f7 48.6%,#00b8c8 49.2%,#bdc32e 50.1%,#cbc128 50.6%,#84cc56 51.0%,#00b9c8 51.6%,#2e87f7 52.2%,#2f82fa 53.0%,#0cbdbc 53.8%,#b3c534 54.5%,#cec027 55.0%,#95ca49 55.4%,#0bbdbd 56.0%,#2f82fa 56.8%,#2e87f7 57.5%,#00b9c7 58.1%,#bec32e 59.1%,#cac128 59.5%,#82cc58 60.0%,#00b8c9 60.6%,#2e86f7 61.2%,#2f82f9 61.9%,#0fbebb 62.7%,#b4c534 63.4%,#cdc027 63.9%,#94ca4a 64.4%,#09bdbe 65.0%,#2f81fa 65.7%,#2d87f7 66.5%,#00b9c6 67.1%,#bec32e 68.0%,#c9c128 68.4%,#80cc59 68.9%,#01b8ca 69.5%,#2e86f8 70.1%,#2e83f9 70.9%,#11beba 71.6%,#b4c533 72.4%,#cdc028 72.8%,#92ca4b 73.3%,#08bcbe 73.9%,#347afd 74.8%,#23a1e4 75.7%,#01bac5 76.0%,#bfc32d 76.9%,#c9c128 77.4%,#80cc59 77.8%,#01b8ca 78.4%,#2e85f8 79.0%,#2e83f9 79.8%,#11beba 80.6%,#b5c533 81.3%,#cdc028 81.8%,#93ca4b 82.2%,#08bcbe 82.8%,#347afd 83.7%,#23a1e5 84.6%,#00b9c6 84.9%,#bec32d 85.9%,#cac128 86.3%,#81cc58 86.8%,#01b8c9 87.4%,#2e86f8 88.0%,#2f82f9 88.7%,#0ebebb 89.5%,#b4c534 90.2%,#cdc027 90.7%,#95ca49 91.2%,#0bbdbd 91.8%,#2f81fa 92.5%,#2e86f7 93.3%,#00b9c8 93.9%,#bdc32e 94.8%,#cbc128 95.2%,#85cb56 95.7%,#00b9c7 96.3%,#2e87f7 96.9%,#2f81fa 97.7%,#09bdbe 98.4%,#b1c635 99.2%,#cec027 99.6%,#b5c533 99.9%)"></div><div style="left:124.64px;top:0;width:3.27px;height:165.1px;background:linear-gradient(#31c6a0 0.0%,#c5c22a 0.9%,#febe3c 1.7%,#eaba30 2.7%,#aac73a 3.2%,#1abfb5 3.9%,#00b9c8 4.1%,#3f6eff 5.1%,#3a74ff 6.2%,#00bac6 7.1%,#b7c532 8.0%,#e5bb2c 8.6%,#b3c534 9.2%,#10beba 10.0%,#07b5d0 10.1%,#3e6fff 11.2%,#16afda 12.3%,#00b9c6 12.4%,#bfc32d 13.3%,#d7be28 13.8%,#a7c73c 14.2%,#00b9c7 15.0%,#2e87f7 15.6%,#337bfc 16.4%,#1babde 17.0%,#02b7cb 17.1%,#bbc42f 18.0%,#d1bf27 18.5%,#97ca47 18.9%,#0cbdbc 19.5%,#2f81fa 20.3%,#2e84f9 21.0%,#02b7cb 21.7%,#bcc42f 22.6%,#cec027 23.0%,#8dcb50 23.5%,#01bac4 24.1%,#3678fe 25.0%,#20a4e3 25.9%,#07bcbf 26.2%,#b2c534 27.0%,#cfc027 27.4%,#97ca48 27.9%,#0abdbd 28.5%,#2f80fa 29.2%,#2d88f6 30.0%,#03bbc2 30.6%,#afc637 31.3%,#cfc027 31.8%,#99c946 32.3%,#0cbdbc 32.9%,#2f81fa 33.6%,#2d88f6 34.4%,#03bbc2 35.0%,#afc636 35.7%,#cec027 36.2%,#97ca47 36.6%,#0abdbd 37.3%,#2f80fa 38.0%,#2d89f6 38.8%,#05bcc0 39.4%,#b1c635 40.1%,#cec027 40.6%,#94ca4a 41.0%,#06bcbf 41.6%,#3579fd 42.5%,#20a5e2 43.5%,#09bdbe 43.8%,#b3c534 44.5%,#cdc027 45.0%,#90ca4d 45.4%,#03bbc2 46.0%,#3578fd 46.9%,#1ea7e1 47.8%,#0ebebb 48.2%,#b6c532 48.9%,#cdc028 49.4%,#8ccb50 49.8%,#01bac5 50.4%,#307efc 51.2%,#2d8df2 51.9%,#06b5cf 52.4%,#7acc5e 53.0%,#c9c129 53.5%,#bfc32d 53.9%,#00b9c8 54.8%,#2e85f8 55.4%,#2e83f9 56.2%,#03b6cd 56.8%,#bbc42f 57.7%,#cbc128 58.1%,#83cc57 58.6%,#01b7ca 59.2%,#2e84f8 59.8%,#2e85f8 60.6%,#01b8ca 61.2%,#bec32e 62.1%,#cac128 62.5%,#7ecc5b 63.0%,#03b6cd 63.6%,#337bfc 64.4%,#2b92ef 65.1%,#00b9c7 65.6%,#c0c32d 66.5%,#c9c129 66.9%,#79cc5e 67.4%,#14beb8 67.8%,#07b5d0 68.0%,#3777fe 68.9%,#16afda 69.8%,#01bac5 70.0%,#c2c32c 70.9%,#c7c129 71.3%,#74cd62 71.8%,#0ebebb 72.2%,#2f81fa 73.0%,#2d88f6 73.7%,#03bbc2 74.3%,#afc636 75.1%,#cec027 75.6%,#97ca48 76.0%,#09bdbe 76.6%,#2f80fa 77.4%,#2d89f5 78.1%,#06bcc0 78.7%,#b2c635 79.5%,#cec027 80.0%,#94ca4a 80.4%,#05bcc0 81.0%,#3579fd 81.9%,#20a5e2 82.8%,#09bdbe 83.1%,#b4c534 83.9%,#cdc027 84.3%,#91ca4d 84.8%,#03bbc2 85.4%,#3578fd 86.3%,#1fa6e2 87.2%,#0dbdbc 87.5%,#b5c533 88.3%,#cdc028 88.7%,#8ecb4e 89.2%,#02bac3 89.8%,#3578fd 90.7%,#1ea7e1 91.6%,#10beba 91.9%,#b7c532 92.7%,#cdc028 93.1%,#8ccb50 93.6%,#01bac5 94.2%,#307efb 94.9%,#2d8cf3 95.7%,#08b4d0 96.2%,#4ecc81 96.6%,#b8c531 97.1%,#cdc028 97.5%,#8bcb51 98.0%,#01bac5 98.6%,#307dfc 99.3%,#2f82fa 99.9%)"></div><div style="left:127.61px;top:0;width:3.27px;height:165.1px;background:linear-gradient(#32c69f 0.0%,#cec027 0.9%,#febf3c 1.7%,#e4bb2c 2.6%,#9dc943 3.0%,#05bcc0 3.8%,#3e6fff 4.8%,#416bfe 5.8%,#02bbc2 6.8%,#bfc32d 7.7%,#e6bb2d 8.3%,#a8c73b 8.9%,#01bac5 9.7%,#3975fe 10.6%,#2e83f9 11.4%,#02b7cc 12.0%,#bcc42f 12.9%,#d8be28 13.3%,#a9c73a 13.8%,#00b9c8 14.5%,#2e85f8 15.1%,#317cfc 15.9%,#01bac5 16.7%,#c3c22b 17.6%,#cfc027 18.0%,#85cb55 18.5%,#01b8ca 19.1%,#2e84f9 19.7%,#2f81fa 20.4%,#06b5cf 21.0%,#7ccc5c 21.7%,#ccc028 22.1%,#c3c22b 22.6%,#00b9c7 23.5%,#2e85f8 24.1%,#2f82f9 24.8%,#03b6cd 25.4%,#a5c83d 26.2%,#d0bf27 26.7%,#a4c83e 27.1%,#04b6cd 27.9%,#337afd 28.6%,#2a93ee 29.4%,#02bac3 29.8%,#b0c636 30.6%,#cfc027 31.0%,#94ca4a 31.5%,#03bbc2 32.1%,#3678fe 33.0%,#1ca9e0 33.9%,#04b6cd 34.1%,#a5c83d 34.8%,#d0c027 35.3%,#a1c840 35.7%,#14beb8 36.3%,#07b5d0 36.5%,#3776fe 37.4%,#10b2d5 38.3%,#08bcbe 38.5%,#b6c532 39.2%,#cdc028 39.7%,#89cb52 40.1%,#00b8c9 40.7%,#2e84f8 41.3%,#2e85f8 42.1%,#00b9c6 42.7%,#aec637 43.5%,#cec027 43.9%,#95ca49 44.4%,#04bbc1 45.0%,#3678fd 45.9%,#1ca9df 46.8%,#03b6cd 46.9%,#a5c83d 47.7%,#d0c027 48.2%,#a0c941 48.6%,#11beb9 49.2%,#1ea7e1 49.5%,#3579fd 50.4%,#0eb3d4 51.2%,#0bbdbd 51.3%,#b8c431 52.1%,#cdc028 52.5%,#87cb54 53.0%,#01b7ca 53.6%,#2e83f9 54.2%,#2e86f7 55.0%,#01bac4 55.6%,#b0c636 56.3%,#cec027 56.8%,#92ca4c 57.2%,#02bbc3 57.8%,#317dfc 58.6%,#2d8ef1 59.4%,#02b7cb 59.8%,#a8c73b 60.6%,#cfc027 61.0%,#9dc943 61.5%,#0dbdbc 62.1%,#2f80fb 62.8%,#2d8bf4 63.6%,#0fbeba 64.2%,#b9c430 65.0%,#ccc028 65.4%,#83cc57 65.9%,#02b7cc 66.5%,#2e83f9 67.1%,#2e87f7 67.8%,#03bbc2 68.4%,#b2c534 69.2%,#cec027 69.7%,#8fcb4e 70.1%,#01bac5 70.7%,#317dfc 71.5%,#2c8ff0 72.2%,#01b8ca 72.7%,#c1c32c 73.6%,#c8c129 74.0%,#73cd62 74.5%,#0abdbd 75.0%,#307ffb 75.7%,#2d8bf3 76.5%,#08b4d1 76.9%,#51cc7f 77.4%,#bac430 77.8%,#cbc028 78.3%,#81cc58 78.7%,#03b6cd 79.3%,#347afd 80.1%,#2994ed 80.9%,#04bbc1 81.3%,#b3c534 82.1%,#cec027 82.5%,#8fcb4e 83.0%,#01bac5 83.6%,#2e86f8 84.2%,#2e84f9 84.9%,#01b8c9 85.6%,#c1c32c 86.5%,#c9c129 86.9%,#74cd62 87.4%,#0abdbd 87.8%,#2f7ffb 88.6%,#2d8bf4 89.3%,#11beba 89.9%,#bac430 90.7%,#ccc028 91.2%,#83cc57 91.6%,#02b7cc 92.2%,#2f82f9 92.8%,#2e87f7 93.6%,#02bbc3 94.2%,#b1c635 94.9%,#cec027 95.4%,#92ca4c 95.9%,#02bac3 96.5%,#317dfc 97.2%,#2d8ef1 98.0%,#02b7cc 98.4%,#a7c73c 99.2%,#d0c027 99.6%,#bac430 99.9%)"></div><div style="left:130.58px;top:0;width:3.27px;height:165.1px;background:linear-gradient(#33c79d 0.0%,#c0c32d 0.8%,#fdbd3d 1.5%,#e1bc2a 2.4%,#93ca4a 2.9%,#00b8c8 3.6%,#416bfe 4.7%,#3b73ff 5.6%,#02bbc3 6.5%,#c2c22c 7.4%,#e6bb2d 8.0%,#bec32e 8.5%,#02b7cc 9.4%,#3c72ff 10.3%,#2d89f5 11.1%,#07bcbf 11.7%,#b5c533 12.4%,#d9be28 12.9%,#b0c636 13.3%,#01bac5 14.1%,#327cfc 14.8%,#2e87f7 15.6%,#03bbc2 16.2%,#b3c534 17.0%,#d3bf27 17.4%,#9fc942 17.9%,#0ebebb 18.5%,#307ffb 19.2%,#2d87f7 20.0%,#05bcc0 20.6%,#b6c532 21.4%,#d0bf27 21.8%,#91ca4d 22.3%,#01bac5 22.9%,#327bfc 23.6%,#2c8ff0 24.4%,#00b8c9 24.8%,#adc637 25.6%,#d1bf27 26.0%,#98ca47 26.5%,#04bbc1 27.1%,#3777fe 28.0%,#1babde 28.9%,#01b8ca 29.1%,#acc738 29.8%,#d0c027 30.3%,#96ca48 30.7%,#03bbc2 31.3%,#3777fe 32.3%,#19addc 33.2%,#00b9c7 33.3%,#afc636 34.1%,#cfc027 34.5%,#91ca4c 35.0%,#00b9c6 35.6%,#2e84f8 36.2%,#2e86f8 36.9%,#02bbc3 37.6%,#b5c533 38.3%,#cec027 38.8%,#89cb53 39.2%,#02b7cb 39.8%,#2f82f9 40.4%,#2d88f6 41.2%,#0abdbd 41.8%,#b9c430 42.5%,#cbc028 43.0%,#7ecc5a 43.5%,#13beb8 43.9%,#08b4d1 44.1%,#3776fe 45.0%,#1ea8e1 45.7%,#06b5cf 45.9%,#56cc7b 46.3%,#bfc32d 46.8%,#c9c128 47.2%,#74cd62 47.7%,#07bcbf 48.2%,#307efb 48.9%,#2d8ef1 49.7%,#01b8c9 50.1%,#adc638 50.9%,#cfc027 51.3%,#92ca4b 51.8%,#01bac5 52.4%,#327cfc 53.1%,#2b92ee 53.9%,#02bac3 54.4%,#b4c534 55.1%,#cec027 55.6%,#89cb52 56.0%,#01b7cb 56.6%,#2f82f9 57.2%,#2d88f6 58.0%,#0abdbd 58.6%,#bac430 59.4%,#ccc028 59.8%,#7fcc5a 60.3%,#13beb8 60.7%,#08b4d1 60.9%,#3776fe 61.8%,#1ea8e1 62.5%,#06b5cf 62.7%,#56cc7a 63.1%,#bec32d 63.6%,#c9c129 64.1%,#74cd62 64.5%,#07bcbf 65.0%,#307efc 65.7%,#2c8ff1 66.5%,#01b8c9 66.9%,#adc638 67.7%,#cfc027 68.1%,#93ca4b 68.6%,#01bac5 69.2%,#327cfc 70.0%,#2b92ef 70.7%,#02bac4 71.2%,#b3c534 71.9%,#cec027 72.4%,#8acb52 72.8%,#01b7ca 73.4%,#2f82f9 74.0%,#2d88f6 74.8%,#09bdbe 75.4%,#b9c430 76.2%,#ccc028 76.6%,#80cc59 77.1%,#15bfb7 77.5%,#07b5d0 77.7%,#3876fe 78.6%,#07b5d0 79.5%,#55cc7c 80.0%,#bec32e 80.4%,#cac128 80.9%,#76cc60 81.3%,#0abdbd 81.8%,#307efb 82.5%,#2d8ef2 83.3%,#02b7cb 83.7%,#abc739 84.5%,#d0c027 84.9%,#96ca48 85.4%,#02bbc3 86.0%,#3777fe 86.9%,#18addb 87.8%,#00b9c6 88.0%,#b1c636 88.7%,#cec027 89.2%,#8ecb4e 89.6%,#00b9c8 90.2%,#2e84f9 90.9%,#2e86f7 91.6%,#03bbc1 92.2%,#b5c533 93.0%,#cdc027 93.4%,#87cb54 93.9%,#02b7cc 94.5%,#2f82fa 95.1%,#2d88f6 95.9%,#0abdbd 96.5%,#bac430 97.2%,#ccc028 97.7%,#80cc59 98.1%,#15bfb7 98.6%,#07b5d0 98.7%,#3876fe 99.6%,#2f80fb 99.9%)"></div><div style="left:133.55px;top:0;width:3.27px;height:165.1px;background:linear-gradient(#34c79b 0.0%,#c6c229 0.8%,#fdbc3d 1.5%,#dfbc2a 2.3%,#8ecb4e 2.7%,#11beba 3.3%,#04b6ce 3.5%,#4368fe 4.5%,#337afd 5.5%,#00b9c6 6.2%,#c1c32c 7.1%,#e6bb2d 7.7%,#bbc42f 8.2%,#11beba 8.9%,#08b5d0 9.1%,#3d70ff 10.0%,#259ce7 10.9%,#02b7cc 11.2%,#a7c73c 12.0%,#d9be28 12.4%,#bbc430 12.9%,#0abdbd 13.6%,#307efc 14.4%,#2e85f8 15.1%,#02bac4 15.7%,#b4c533 16.5%,#d4bf27 17.0%,#9ac945 17.4%,#04bcc0 18.0%,#3876fe 18.9%,#1da9e0 19.8%,#03b6cd 20.0%,#87cb54 20.6%,#d0c027 21.0%,#bac430 21.5%,#07bcbf 22.3%,#317dfc 23.0%,#2d8ef1 23.8%,#01b8c9 24.2%,#b0c636 25.0%,#d0bf27 25.4%,#91ca4c 25.9%,#00b9c7 26.5%,#2e83f9 27.1%,#2e87f7 27.9%,#09bdbe 28.5%,#bbc42f 29.2%,#ccc028 29.7%,#7acc5e 30.1%,#0bbdbd 30.6%,#317dfc 31.3%,#2c8ff0 32.1%,#00b9c7 32.6%,#b3c534 33.3%,#cec027 33.8%,#88cb54 34.2%,#04b6ce 34.8%,#3579fd 35.6%,#2699e9 36.3%,#04b6cd 36.6%,#88cb53 37.3%,#cec027 37.7%,#b2c635 38.2%,#00b9c7 38.9%,#2e83f9 39.5%,#2d88f6 40.3%,#0fbeba 40.9%,#bec32e 41.6%,#c9c128 42.1%,#71cd64 42.5%,#03bbc2 43.0%,#3777fe 43.9%,#14b0d7 44.8%,#05bcc0 45.0%,#bac430 45.7%,#ccc028 46.2%,#7bcc5d 46.6%,#0cbdbc 47.1%,#307efc 47.8%,#2c90f0 48.6%,#00bac6 49.1%,#b4c534 49.8%,#cdc027 50.3%,#84cc56 50.7%,#17bfb6 51.2%,#06b5cf 51.3%,#3678fd 52.1%,#259be8 52.8%,#01b7cb 53.1%,#aec637 53.9%,#cfc027 54.4%,#8dcb4f 54.8%,#01b7cb 55.4%,#2f81fa 56.0%,#2d8af4 56.8%,#07b5d0 57.2%,#58cc79 57.7%,#c0c32c 58.1%,#c8c129 58.6%,#6bcd69 59.1%,#01bac5 59.5%,#2e84f9 60.1%,#2d87f7 60.9%,#0bbdbd 61.5%,#bcc42f 62.2%,#cac128 62.7%,#74cd62 63.1%,#05bcc0 63.6%,#327cfc 64.4%,#2b92ee 65.1%,#03bbc2 65.6%,#b8c431 66.3%,#cdc028 66.8%,#7ecc5a 67.2%,#10beba 67.7%,#307efb 68.4%,#2c8ff1 69.2%,#00b9c8 69.7%,#b2c635 70.4%,#cec027 70.9%,#88cb53 71.3%,#1bc0b4 71.8%,#04b6ce 71.9%,#3578fd 72.7%,#269ae9 73.4%,#03b6cd 73.7%,#89cb53 74.3%,#cec027 74.8%,#b1c635 75.3%,#00b8c8 76.0%,#2f82f9 76.6%,#2d89f5 77.4%,#11beba 78.0%,#bfc32d 78.7%,#c9c129 79.2%,#70cd65 79.6%,#02bbc2 80.1%,#3776fe 81.0%,#13b0d7 81.9%,#05bcc0 82.1%,#b9c430 82.8%,#ccc028 83.3%,#7bcc5d 83.7%,#0cbdbc 84.2%,#317dfc 84.9%,#2c90f0 85.7%,#00b9c6 86.2%,#b4c533 86.9%,#cec027 87.4%,#86cb55 87.8%,#19bfb5 88.3%,#05b5cf 88.4%,#3579fd 89.2%,#269ae9 89.9%,#03b6cc 90.2%,#acc738 91.0%,#cfc027 91.5%,#91ca4c 91.9%,#00b8c8 92.5%,#2e83f9 93.1%,#2d89f6 93.9%,#10beba 94.5%,#bec32d 95.2%,#cac128 95.7%,#72cd63 96.2%,#04bbc1 96.6%,#3777fe 97.5%,#15afd9 98.4%,#03bbc2 98.6%,#b8c431 99.3%,#cdc028 99.8%,#bfc32d 99.9%)"></div><div style="left:136.51px;top:0;width:3.27px;height:165.1px;background:linear-gradient(#35c79a 0.0%,#ccc028 0.8%,#fcbc3e 1.5%,#ccc028 2.3%,#0cbdbc 3.2%,#3776fe 4.1%,#416cfe 5.0%,#03b6cd 5.9%,#77cc60 6.5%,#d2bf27 7.0%,#e0bc2a 7.6%,#9dc943 8.0%,#0fbebb 8.6%,#307ffb 9.4%,#3579fd 10.1%,#01bac6 10.9%,#b3c534 11.7%,#dabd28 12.1%,#aec637 12.6%,#01b7cb 13.3%,#2f81fa 13.9%,#2f81fa 14.7%,#00b8c9 15.3%,#b2c635 16.1%,#d4bf27 16.5%,#9bc945 17.0%,#03bbc2 17.6%,#3975fe 18.5%,#19addc 19.4%,#00b9c6 19.5%,#b5c533 20.3%,#d1bf27 20.7%,#8bcb51 21.2%,#1cc0b3 21.7%,#03b6cd 21.8%,#2f80fb 22.4%,#2d8af4 23.2%,#05b6ce 23.6%,#5dcd75 24.1%,#c5c22a 24.5%,#c8c129 25.0%,#66cd6d 25.4%,#01b8c9 25.9%,#2f81fa 26.5%,#2d8af5 27.3%,#06b5cf 27.7%,#5ccc76 28.2%,#c4c22b 28.6%,#c7c229 29.1%,#63cd6f 29.5%,#02b7cb 30.0%,#2f80fa 30.6%,#2f80fa 31.2%,#02b7cb 31.8%,#b0c636 32.6%,#cfc027 33.0%,#88cb53 33.5%,#18bfb6 33.9%,#07b5d0 34.1%,#3677fe 34.8%,#259de6 35.6%,#00b9c6 35.9%,#b6c532 36.6%,#cdc028 37.1%,#7ccc5c 37.6%,#0abdbd 38.0%,#327cfc 38.8%,#2a93ee 39.5%,#07bcbf 40.0%,#bdc32e 40.7%,#cac128 41.2%,#6fcd66 41.6%,#01bac5 42.1%,#337afd 42.9%,#2797eb 43.6%,#08b5d0 43.9%,#5acc78 44.4%,#c3c22b 44.8%,#c6c22a 45.3%,#62cd70 45.7%,#02b7cc 46.2%,#2f80fa 46.8%,#2f81fa 47.4%,#01b8c9 48.0%,#b3c534 48.8%,#cec027 49.2%,#82cc58 49.7%,#10beba 50.1%,#317dfc 50.9%,#2b91ef 51.6%,#03bbc1 52.1%,#bbc430 52.8%,#cbc128 53.3%,#73cd62 53.8%,#03bbc2 54.2%,#3776fe 55.1%,#0cb3d2 56.0%,#33c69d 56.3%,#c1c32c 56.9%,#c7c129 57.4%,#66cd6d 57.8%,#01b8ca 58.3%,#2f81fa 58.9%,#2d8cf3 59.7%,#02b7cb 60.1%,#b1c635 60.9%,#cec027 61.3%,#85cb55 61.8%,#15bfb8 62.2%,#09b4d1 62.4%,#3876fe 63.3%,#17aeda 64.1%,#01bac4 64.2%,#b9c431 65.0%,#ccc028 65.4%,#78cc5f 65.9%,#06bcc0 66.3%,#327cfc 67.1%,#2994ed 67.8%,#0cbdbc 68.3%,#bfc32d 69.0%,#c8c129 69.5%,#6acd6a 70.0%,#00b9c7 70.4%,#2f82fa 71.0%,#307ffb 71.6%,#04b6ce 72.2%,#5fcd73 72.7%,#c5c22a 73.1%,#c4c22a 73.6%,#37c897 74.2%,#05b6ce 74.5%,#3678fe 75.3%,#259de7 76.0%,#00b9c7 76.3%,#b6c532 77.1%,#cdc027 77.5%,#7ecc5b 78.0%,#0cbdbc 78.4%,#317dfc 79.2%,#2a92ee 80.0%,#06bcbf 80.4%,#bcc42f 81.2%,#cac128 81.6%,#71cd64 82.1%,#01bac4 82.5%,#337bfd 83.3%,#2796eb 84.0%,#0ab4d1 84.3%,#34c79c 84.6%,#c2c32c 85.3%,#c6c229 85.7%,#64cd6e 86.2%,#01b7ca 86.6%,#2f81fa 87.2%,#2f80fa 87.8%,#02b7cb 88.4%,#b1c635 89.2%,#cec027 89.6%,#86cb55 90.1%,#16bfb7 90.6%,#08b4d0 90.7%,#3876fe 91.6%,#18addb 92.4%,#01bac5 92.5%,#b8c431 93.3%,#cdc028 93.7%,#7bcc5d 94.2%,#09bdbe 94.6%,#327cfc 95.4%,#2a93ee 96.2%,#07bcbf 96.6%,#bdc32e 97.4%,#cac128 97.8%,#71cd65 98.3%,#01bac4 98.7%,#337afd 99.5%,#307efb 99.9%)"></div><div style="left:139.48px;top:0;width:3.27px;height:165.1px;background:linear-gradient(#36c898 0.0%,#b9c430 0.6%,#f7ba3c 1.2%,#e3bc2b 2.0%,#92ca4c 2.4%,#0bbdbc 3.0%,#3974ff 3.9%,#3e70ff 4.8%,#04bbc1 5.8%,#ccc028 6.7%,#e2bc2b 7.3%,#a3c83e 7.7%,#12beb9 8.3%,#08b5d0 8.5%,#3f6fff 9.4%,#23a1e4 10.3%,#03bbc2 10.6%,#bac430 11.4%,#dabd28 11.8%,#a4c83e 12.3%,#0bbdbd 12.9%,#327cfc 13.6%,#2d88f6 14.4%,#09b4d1 14.8%,#58cc79 15.3%,#c4c22b 15.7%,#d0c027 16.2%,#78cc5f 16.7%,#05bcc0 17.1%,#337bfd 17.9%,#2c90f0 18.6%,#02bbc2 19.1%,#bbc42f 19.8%,#cfc027 20.3%,#7ccc5c 20.7%,#08bcbe 21.2%,#327bfc 22.0%,#2a92ee 22.7%,#08bcbe 23.2%,#bfc32d 23.9%,#cbc128 24.4%,#6dcd67 24.8%,#00b9c7 25.3%,#2f81fa 25.9%,#307ffb 26.5%,#03b7cc 27.1%,#63cd6f 27.6%,#c8c129 28.0%,#c3c22b 28.5%,#0fbebb 29.2%,#327cfc 30.0%,#2a93ed 30.7%,#0cbdbc 31.2%,#c2c32c 32.0%,#c8c129 32.4%,#63cd70 32.9%,#03b6cd 33.3%,#307ffb 33.9%,#2e83f9 34.5%,#02bac3 35.1%,#bcc42f 35.9%,#cbc128 36.3%,#6fcd66 36.8%,#00b9c6 37.3%,#2f81fa 37.9%,#2f80fa 38.5%,#01b8c9 39.1%,#b6c532 39.8%,#cdc027 40.3%,#79cc5e 40.7%,#04bbc1 41.2%,#337bfd 41.9%,#2797ea 42.7%,#05b6ce 43.0%,#60cd72 43.5%,#c6c22a 43.9%,#c2c32c 44.4%,#0ebdbb 45.1%,#327cfc 45.9%,#2e87f7 46.5%,#11beba 47.1%,#c3c22b 47.8%,#c5c22a 48.3%,#5dcd75 48.8%,#07b5d0 49.2%,#3777fe 50.0%,#14b0d7 50.9%,#06bcbf 51.0%,#bfc32d 51.8%,#c8c129 52.2%,#66cd6d 52.7%,#02b7cb 53.1%,#2f80fb 53.8%,#2f82f9 54.4%,#01bac4 55.0%,#bac430 55.7%,#cbc128 56.2%,#6fcd66 56.6%,#00b9c6 57.1%,#2f82fa 57.7%,#2f80fa 58.3%,#01b8c9 58.9%,#b6c532 59.7%,#cdc028 60.1%,#78cc5f 60.6%,#04bbc1 61.0%,#337afd 61.8%,#2798ea 62.5%,#05b6ce 62.8%,#60cd72 63.3%,#c6c22a 63.7%,#c1c32c 64.2%,#0dbdbb 65.0%,#327cfc 65.7%,#2995ec 66.5%,#11beb9 66.9%,#c3c22b 67.7%,#c5c22a 68.1%,#5dcd75 68.6%,#07b5d0 69.0%,#3777fe 69.8%,#14b0d7 70.7%,#07bcbf 70.9%,#bfc32d 71.6%,#c8c129 72.1%,#66cd6d 72.5%,#02b7cb 73.0%,#2f80fb 73.6%,#2f82fa 74.2%,#01bac4 74.8%,#bbc430 75.6%,#cbc128 76.0%,#70cd65 76.5%,#00bac6 76.9%,#2f82fa 77.5%,#2f80fb 78.1%,#01b8ca 78.7%,#b5c533 79.5%,#cdc028 80.0%,#7acc5d 80.4%,#05bcc0 80.9%,#337bfd 81.6%,#2797eb 82.4%,#06b5cf 82.7%,#5ecd74 83.1%,#c6c22a 83.6%,#c3c22b 84.0%,#11beba 84.8%,#317cfc 85.6%,#2e86f7 86.2%,#0dbdbc 86.8%,#c2c32c 87.5%,#c7c129 88.0%,#61cd71 88.4%,#04b6ce 88.9%,#307ffb 89.5%,#2e83f9 90.1%,#03bbc2 90.7%,#bdc42e 91.5%,#cac128 91.9%,#6dcd68 92.4%,#00b9c8 92.8%,#2f81fa 93.4%,#2f81fa 94.0%,#00b8c8 94.6%,#b7c532 95.4%,#cdc028 95.9%,#79cc5e 96.3%,#04bbc1 96.8%,#337afd 97.5%,#2797eb 98.3%,#06b5cf 98.6%,#5fcd74 99.0%,#c6c22a 99.5%,#c3c22b 99.9%)"></div><div style="left:142.45px;top:0;width:3.27px;height:165.1px;background:linear-gradient(#37c896 0.0%,#bfc32d 0.6%,#f7ba3d 1.2%,#d5be27 2.0%,#70cd65 2.4%,#0fbeba 2.9%,#3a74ff 3.8%,#426afe 4.5%,#04b6cd 5.5%,#7ecc5b 6.1%,#d7be28 6.5%,#dbbd28 7.1%,#87cb54 7.6%,#02b7cc 8.2%,#3975fe 8.9%,#2e84f9 9.7%,#04bbc1 10.3%,#bdc32e 11.1%,#d9bd28 11.5%,#9bc944 12.0%,#01bac4 12.6%,#3678fd 13.3%,#2c8ff1 14.1%,#01bac4 14.5%,#bcc42f 15.3%,#d3bf27 15.7%,#85cb55 16.2%,#11beba 16.7%,#327cfc 17.4%,#2f82f9 18.0%,#02bbc2 18.6%,#bec32e 19.4%,#cec027 19.8%,#73cd63 20.3%,#01bac5 20.7%,#3578fd 21.5%,#2699e9 22.3%,#02b7cc 22.6%,#66cd6d 23.0%,#cac128 23.5%,#c1c32c 23.9%,#06bcbf 24.7%,#347afd 25.4%,#2797ea 26.2%,#04b6ce 26.5%,#63cd70 27.0%,#c8c129 27.4%,#c0c32c 27.9%,#05bcc0 28.6%,#347afd 29.4%,#2699e9 30.1%,#02b7cb 30.4%,#68cd6b 30.9%,#cac128 31.3%,#bdc32e 31.8%,#01bac4 32.6%,#3579fd 33.3%,#259ce7 34.1%,#00b9c6 34.4%,#bbc42f 35.1%,#cac128 35.6%,#6acd69 36.0%,#01b8ca 36.5%,#2d8bf4 36.9%,#347afd 37.6%,#06bcc0 38.3%,#c0c32c 39.1%,#c6c229 39.5%,#5ecd74 40.0%,#08b4d1 40.4%,#3776fe 41.2%,#0bb3d2 42.1%,#35c79a 42.4%,#aec637 42.9%,#cfc027 43.3%,#81cc59 43.8%,#09bdbe 44.2%,#337bfd 45.0%,#2d8af5 45.6%,#02b7cc 46.0%,#68cd6c 46.5%,#c9c128 46.9%,#bcc42f 47.4%,#01bac5 48.2%,#2f81fa 48.8%,#2f82fa 49.4%,#01bac4 50.0%,#bdc32e 50.7%,#c9c129 51.2%,#66cd6d 51.6%,#03b6cd 52.1%,#307efb 52.7%,#2e85f8 53.3%,#0bbdbc 53.9%,#c3c22b 54.7%,#c5c22a 55.1%,#59cc78 55.6%,#11beba 55.9%,#327cfc 56.6%,#2d88f6 57.2%,#06b5cf 57.7%,#61cd71 58.1%,#c8c129 58.6%,#bfc32d 59.1%,#03bbc2 59.8%,#347afd 60.6%,#259be8 61.3%,#00b9c8 61.6%,#bac430 62.4%,#cbc028 62.8%,#6ccd68 63.3%,#01b8c9 63.7%,#307ffb 64.4%,#2e83f9 65.0%,#05bcc0 65.6%,#c1c32c 66.3%,#c7c129 66.8%,#5fcd73 67.2%,#08b5d0 67.7%,#3777fe 68.4%,#0cb3d3 69.4%,#34c79b 69.7%,#aec637 70.1%,#cfc027 70.6%,#81cc58 71.0%,#09bdbd 71.5%,#337afd 72.2%,#2698ea 73.0%,#02b7cc 73.3%,#67cd6c 73.7%,#cac128 74.2%,#bdc32e 74.7%,#01bac5 75.4%,#3578fd 76.2%,#259de7 76.9%,#01bac5 77.2%,#bcc42f 78.0%,#c9c128 78.4%,#67cd6c 78.9%,#02b7cc 79.3%,#2d8af5 79.8%,#337afd 80.4%,#09bdbe 81.2%,#c2c22c 81.9%,#c6c22a 82.4%,#5ccc76 82.8%,#14bfb8 83.1%,#0bb4d2 83.3%,#3776fe 84.2%,#09b4d1 84.9%,#5ecd74 85.4%,#c7c229 85.9%,#c1c32c 86.3%,#07bcbf 87.1%,#347afd 87.8%,#2699e9 88.6%,#02b7cb 88.9%,#b7c532 89.6%,#ccc028 90.1%,#73cd63 90.6%,#01bac5 91.0%,#2f81fa 91.6%,#2f81fa 92.2%,#01bac5 92.8%,#bcc42f 93.6%,#c9c128 94.0%,#68cd6c 94.5%,#02b7cc 94.9%,#2d8af5 95.4%,#337afd 96.0%,#07bcbf 96.8%,#c1c32c 97.5%,#c6c22a 98.0%,#5ecd74 98.4%,#09b4d1 98.9%,#3776fe 99.6%,#327cfc 99.9%)"></div><div style="left:145.42px;top:0;width:3.27px;height:165.1px;background:linear-gradient(#39c895 0.0%,#c4c22b 0.6%,#f7ba3d 1.2%,#dbbd28 1.8%,#7bcc5d 2.3%,#03b6cd 2.9%,#416bfe 3.8%,#3876fe 4.5%,#00b9c6 5.3%,#b3c534 6.1%,#e5bb2d 6.5%,#d2bf27 7.0%,#6acd6a 7.4%,#01bac5 7.9%,#3e6fff 8.8%,#2c90f0 9.5%,#02bbc3 10.0%,#bec32e 10.8%,#d9bd28 11.2%,#97ca48 11.7%,#01b8c9 12.3%,#307ffb 12.9%,#337bfd 13.5%,#12beb9 14.2%,#aec637 14.8%,#d6be27 15.3%,#97ca48 15.7%,#22c1b0 16.2%,#01b7cb 16.4%,#307efb 17.0%,#2f80fb 17.6%,#00b9c6 18.2%,#bdc32e 18.9%,#cec027 19.4%,#70cd65 19.8%,#00b9c7 20.3%,#2f7ffb 20.9%,#2f81fa 21.5%,#01bac4 22.1%,#bfc32d 22.9%,#cac128 23.3%,#65cd6e 23.8%,#05b6ce 24.2%,#317dfc 24.8%,#2e85f8 25.4%,#12beb9 26.0%,#afc636 26.7%,#d0c027 27.1%,#7fcc5a 27.6%,#05bcc0 28.0%,#3579fd 28.8%,#259ce7 29.5%,#01bac5 29.8%,#bec32e 30.6%,#c9c129 31.0%,#61cd71 31.5%,#08b4d1 32.0%,#3876fe 32.7%,#1ea7e1 33.5%,#05b6ce 33.6%,#65cd6e 34.1%,#cac128 34.5%,#bcc42f 35.0%,#00b8c9 35.7%,#307ffb 36.3%,#2e84f8 36.9%,#0ebdbb 37.6%,#adc638 38.2%,#cfc027 38.6%,#7dcc5b 39.1%,#04bbc1 39.5%,#3579fd 40.3%,#259de6 41.0%,#02bbc3 41.3%,#c0c32c 42.1%,#c6c22a 42.5%,#5acc77 43.0%,#10beba 43.3%,#337bfd 44.1%,#2d8af5 44.7%,#01b8c9 45.1%,#bac430 45.9%,#cac128 46.3%,#66cd6d 46.8%,#05b6ce 47.2%,#317dfc 47.8%,#2e87f7 48.5%,#07b5d0 48.9%,#62cd70 49.4%,#c9c129 49.8%,#bcc42f 50.3%,#00b9c8 51.0%,#307ffb 51.6%,#2e84f9 52.2%,#0dbdbc 52.8%,#adc638 53.5%,#cfc027 53.9%,#7ecc5b 54.4%,#04bbc1 54.8%,#3579fd 55.6%,#259de6 56.3%,#02bbc3 56.6%,#c1c32c 57.4%,#c6c22a 57.8%,#5acc77 58.3%,#10beba 58.6%,#337bfd 59.4%,#2d8af4 60.0%,#01b8c9 60.4%,#bbc430 61.2%,#cac128 61.6%,#65cd6e 62.1%,#05b6ce 62.5%,#317dfc 63.1%,#2e87f7 63.7%,#07b5d0 64.2%,#63cd70 64.7%,#c9c129 65.1%,#bcc42f 65.6%,#00b9c8 66.3%,#307ffb 66.9%,#2e84f8 67.5%,#0dbdbc 68.1%,#adc638 68.7%,#cfc027 69.2%,#7ecc5b 69.7%,#04bbc1 70.1%,#3579fd 70.9%,#259de6 71.6%,#02bbc3 71.9%,#c1c32c 72.7%,#c7c129 73.1%,#5bcc77 73.6%,#11beba 73.9%,#337afd 74.7%,#2d8af5 75.3%,#01b8ca 75.7%,#bac430 76.5%,#cac128 76.9%,#67cd6d 77.4%,#04b6ce 77.8%,#317dfc 78.4%,#2e86f7 79.0%,#08b4d1 79.5%,#61cd71 80.0%,#c9c129 80.4%,#bdc32e 80.9%,#00b9c7 81.6%,#2f80fb 82.2%,#2e83f9 82.8%,#0abdbd 83.4%,#c4c22b 84.2%,#c3c22b 84.6%,#06bcbf 85.4%,#3479fd 86.2%,#2d8df2 86.8%,#01bac5 87.2%,#bfc32d 88.0%,#c8c129 88.4%,#5fcd73 88.9%,#16bfb7 89.2%,#0bb4d2 89.3%,#3876fe 90.1%,#1ea8e1 90.9%,#03b6cd 91.0%,#69cd6b 91.5%,#cbc128 91.9%,#bac430 92.4%,#01b7ca 93.1%,#2d8af5 93.6%,#337bfc 94.2%,#11beba 94.9%,#afc636 95.5%,#cec027 96.0%,#7bcc5d 96.5%,#02bbc2 96.9%,#3578fd 97.7%,#249ee6 98.4%,#03bbc2 98.7%,#c1c32c 99.5%,#c6c22a 99.9%)"></div><div style="left:148.38px;top:0;width:3.27px;height:165.1px;background:linear-gradient(#3ac993 0.0%,#c8c129 0.6%,#f6ba3c 1.2%,#cdc028 1.8%,#21c1b0 2.6%,#00b8c8 2.7%,#416cfe 3.6%,#3677fe 4.4%,#05bcc0 5.1%,#bec32e 5.9%,#e7bb2e 6.4%,#c7c129 6.8%,#0ebdbb 7.6%,#347afd 8.3%,#307ffb 9.1%,#00b9c7 9.7%,#bcc42f 10.4%,#dabd28 10.9%,#97ca48 11.4%,#22c1b0 11.8%,#02b7cb 12.0%,#317dfc 12.6%,#317cfc 13.2%,#02b7cc 13.8%,#69cd6b 14.2%,#cec027 14.7%,#c6c22a 15.1%,#07bcbe 15.9%,#3578fd 16.7%,#2d88f6 17.3%,#03b6cd 17.7%,#69cd6a 18.2%,#cdc028 18.6%,#bfc32d 19.1%,#00b9c7 19.8%,#307ffb 20.4%,#2f82fa 21.0%,#07bcbf 21.7%,#abc739 22.3%,#d1bf27 22.7%,#84cc56 23.2%,#07bcbf 23.6%,#3579fd 24.4%,#2d8df2 25.0%,#02bac4 25.4%,#c2c32c 26.2%,#c7c129 26.7%,#58cc79 27.1%,#0bbdbc 27.4%,#3479fd 28.2%,#2d8df2 28.8%,#01bac4 29.2%,#c2c22b 30.0%,#c6c22a 30.4%,#55cc7c 30.9%,#08bcbe 31.2%,#3579fd 32.0%,#249ee6 32.7%,#04bbc1 33.0%,#c4c22b 33.8%,#c3c22b 34.2%,#03bbc2 35.0%,#3678fd 35.7%,#23a0e5 36.5%,#0bbdbc 36.8%,#afc637 37.4%,#cfc027 37.9%,#77cc5f 38.3%,#00b9c7 38.8%,#307ffb 39.4%,#2e85f8 40.0%,#0bb3d2 40.4%,#37c898 40.7%,#b4c533 41.2%,#cdc028 41.6%,#6dcd67 42.1%,#02b7cc 42.5%,#2d89f6 43.0%,#317cfc 43.6%,#04b6ce 44.2%,#6acd6a 44.7%,#ccc028 45.1%,#b6c532 45.6%,#1abfb5 46.2%,#08b4d1 46.3%,#3876fe 47.1%,#1caadf 47.8%,#00b8c8 48.0%,#bec32e 48.8%,#c7c129 49.2%,#5bcc77 49.7%,#0ebebb 50.0%,#347afd 50.7%,#2d8df2 51.3%,#02bbc3 51.8%,#c3c22b 52.5%,#c4c22b 53.0%,#04bcc1 53.8%,#3678fd 54.5%,#23a0e5 55.3%,#0abdbd 55.6%,#aec637 56.2%,#cec027 56.6%,#77cc5f 57.1%,#00b9c6 57.5%,#307ffb 58.1%,#2e85f8 58.8%,#0bb3d2 59.2%,#37c898 59.5%,#b4c533 60.0%,#cdc027 60.4%,#6dcd67 60.9%,#02b7cc 61.3%,#2d88f6 61.8%,#327cfc 62.4%,#04b6cd 63.0%,#6acd6a 63.4%,#ccc028 63.9%,#b6c532 64.4%,#19bfb5 65.0%,#08b4d1 65.1%,#3876fe 65.9%,#1baade 66.6%,#00b8c8 66.8%,#bec32e 67.5%,#c7c129 68.0%,#5acc77 68.4%,#0ebebb 68.7%,#347afd 69.5%,#2d8df2 70.1%,#02bbc3 70.6%,#c2c22b 71.3%,#c4c22b 71.8%,#04bcc1 72.5%,#3578fd 73.3%,#23a0e5 74.0%,#0abdbd 74.3%,#aec637 75.0%,#cec027 75.4%,#78cc5f 75.9%,#00b9c6 76.3%,#307ffb 76.9%,#2e85f8 77.5%,#14bfb8 78.1%,#b3c534 78.7%,#cdc028 79.2%,#6fcd66 79.6%,#01b7cb 80.1%,#2d89f6 80.6%,#327cfc 81.2%,#05b6ce 81.8%,#68cd6c 82.2%,#cbc028 82.7%,#b7c532 83.1%,#1cc0b4 83.7%,#06b5cf 83.9%,#3876fe 84.6%,#1ca9df 85.4%,#01b8ca 85.6%,#bdc42e 86.3%,#c8c129 86.8%,#5ecd74 87.2%,#13beb9 87.5%,#2e84f8 88.1%,#2f7ffb 88.7%,#01bac5 89.3%,#c0c32c 90.1%,#c6c22a 90.6%,#56cc7b 91.0%,#09bdbd 91.3%,#3479fd 92.1%,#2d8ef1 92.7%,#04bbc1 93.1%,#c4c22b 93.9%,#c3c22b 94.3%,#03bbc2 95.1%,#3678fd 95.9%,#23a0e5 96.6%,#0bbdbd 96.9%,#aec637 97.5%,#cfc027 98.0%,#78cc5f 98.4%,#00b9c6 98.9%,#3777fe 99.6%,#337afd 99.9%)"></div><div style="left:151.35px;top:0;width:3.27px;height:165.1px;background:linear-gradient(#3bc992 0.0%,#ccc028 0.6%,#f5ba3b 1.2%,#bdc32e 1.8%,#04bbc1 2.6%,#406dfe 3.5%,#3678fd 4.2%,#0cbdbc 5.0%,#c5c22a 5.8%,#e6bb2d 6.2%,#bcc42f 6.7%,#00b8c8 7.4%,#3a74ff 8.2%,#2d88f6 8.9%,#04b6cd 9.4%,#64cd6f 9.8%,#cfc027 10.3%,#d2bf27 10.8%,#6bcd69 11.2%,#01b7cb 11.7%,#317cfc 12.3%,#307efb 12.9%,#00b9c7 13.5%,#c1c32c 14.2%,#d1bf27 14.7%,#70cd65 15.1%,#01b8ca 15.6%,#2d89f5 16.1%,#3678fd 16.7%,#0dbdbc 17.4%,#b0c636 18.0%,#d2bf27 18.5%,#7ecc5a 18.9%,#02bbc3 19.4%,#3776fe 20.1%,#23a0e5 20.9%,#0abdbd 21.2%,#b0c636 21.8%,#d0bf27 22.3%,#79cc5e 22.7%,#00b9c6 23.2%,#307efb 23.8%,#2e85f8 24.4%,#0ab4d1 24.8%,#64cd6f 25.3%,#cbc028 25.7%,#b9c430 26.2%,#1cc0b3 26.8%,#07b5d0 27.0%,#3875fe 27.7%,#1babde 28.5%,#00b9c6 28.6%,#c2c22c 29.4%,#c5c22a 29.8%,#50cc7f 30.3%,#03bbc2 30.6%,#3677fe 31.3%,#21a3e3 32.1%,#0cb3d3 32.3%,#37c897 32.6%,#b6c532 33.0%,#ccc028 33.5%,#66cd6d 33.9%,#09b4d1 34.4%,#3876fe 35.1%,#19addc 35.9%,#02bbc3 36.0%,#c4c22a 36.8%,#c2c22c 37.3%,#00b9c6 38.0%,#307efb 38.6%,#2e87f7 39.2%,#04b6ce 39.7%,#6ccd68 40.1%,#cdc028 40.6%,#b2c635 41.0%,#0dbdbc 41.6%,#3579fd 42.4%,#2c90f0 43.0%,#0cbdbc 43.5%,#b1c635 44.1%,#cdc028 44.5%,#9cc944 44.8%,#21c1b1 45.3%,#04b6cd 45.4%,#327cfc 46.0%,#2d8af5 46.6%,#00b9c6 47.1%,#c1c32c 47.8%,#c4c22b 48.3%,#02bac3 49.1%,#3677fe 49.8%,#20a5e3 50.6%,#08b5d0 50.7%,#67cd6c 51.2%,#ccc028 51.6%,#b5c533 52.1%,#12beb9 52.7%,#2e83f9 53.3%,#2f81fa 53.9%,#07bcbf 54.5%,#afc637 55.1%,#cec027 55.6%,#72cd64 56.0%,#02b7cb 56.5%,#2d88f6 56.9%,#317dfc 57.5%,#1ca9df 58.0%,#00b8c9 58.1%,#c0c32c 58.9%,#c6c22a 59.4%,#52cc7e 59.8%,#04bbc1 60.1%,#3677fe 60.9%,#21a3e3 61.6%,#0bb3d2 61.8%,#37c897 62.1%,#b7c532 62.5%,#cbc128 63.0%,#64cd6f 63.4%,#17bfb6 63.7%,#0bb4d2 63.9%,#3875fe 64.7%,#18aedb 65.4%,#04bbc1 65.6%,#acc739 66.2%,#cfc027 66.6%,#a3c83f 66.9%,#00b8c8 67.5%,#2d89f5 68.0%,#317cfc 68.6%,#1da8e1 69.0%,#02b7cb 69.2%,#71cd65 69.7%,#cec027 70.1%,#afc636 70.6%,#08bcbe 71.2%,#3578fd 71.9%,#2b91ef 72.5%,#11beba 73.0%,#b4c533 73.6%,#ccc028 74.0%,#69cd6b 74.5%,#06b5cf 75.0%,#3875fe 75.7%,#1aacdd 76.5%,#01bac4 76.6%,#c3c22b 77.4%,#c2c22b 77.8%,#01bac5 78.6%,#3777fe 79.3%,#1fa6e2 80.1%,#05b5cf 80.3%,#6acd6a 80.7%,#cdc028 81.2%,#b3c534 81.6%,#10beba 82.2%,#2e83f9 82.8%,#2f81fa 83.4%,#09bdbe 84.0%,#b0c636 84.6%,#cec027 85.1%,#70cd65 85.6%,#02b7cc 86.0%,#2d87f6 86.5%,#317dfc 87.1%,#1caadf 87.5%,#00b8c9 87.7%,#c0c32c 88.4%,#c6c22a 88.9%,#53cc7d 89.3%,#04bcc1 89.6%,#3677fe 90.4%,#21a3e4 91.2%,#15bfb7 91.5%,#b6c532 92.1%,#ccc028 92.5%,#66cd6d 93.0%,#08b4d1 93.4%,#3875fe 94.2%,#19addc 94.9%,#02bac3 95.1%,#c4c22b 95.9%,#c3c22b 96.3%,#00b9c6 97.1%,#3777fe 97.8%,#1fa6e2 98.6%,#05b5cf 98.7%,#6acd69 99.2%,#cdc028 99.6%,#c9c128 99.9%)"></div><div style="left:154.32px;top:0;width:3.27px;height:165.1px;background:linear-gradient(#3cc991 0.0%,#d0c027 0.6%,#f2ba39 1.2%,#cac128 1.7%,#13beb8 2.4%,#08b4d1 2.6%,#4368fe 3.5%,#2e85f8 4.2%,#10beba 4.8%,#c9c129 5.6%,#e6bb2d 6.1%,#b1c635 6.5%,#13beb9 7.1%,#3578fd 7.9%,#3776fe 8.5%,#0cbdbc 9.2%,#afc636 9.8%,#dcbd29 10.3%,#a1c840 10.8%,#00b8c8 11.4%,#317dfc 12.0%,#307efb 12.6%,#01bac5 13.2%,#c4c22b 13.9%,#cec027 14.4%,#63cd70 14.8%,#17bfb7 15.1%,#0bb3d2 15.3%,#3a73ff 16.1%,#1ca9e0 16.8%,#01b8c9 17.0%,#c1c32c 17.7%,#ccc028 18.2%,#5dcc75 18.6%,#0ebdbb 18.9%,#3678fe 19.7%,#2d8ef2 20.3%,#07bcbf 20.7%,#b0c636 21.4%,#d0bf27 21.8%,#a2c83f 22.1%,#01b7cb 22.7%,#2d87f6 23.2%,#317dfc 23.8%,#1caadf 24.2%,#00b8c8 24.4%,#c2c22b 25.1%,#c6c22a 25.6%,#4fcc81 26.0%,#01bac4 26.3%,#3776fe 27.1%,#1ea7e1 27.9%,#03b6cd 28.0%,#70cd65 28.5%,#cfc027 28.9%,#aec637 29.4%,#04bbc1 30.0%,#3777fe 30.7%,#1fa6e2 31.5%,#05b5ce 31.6%,#6dcd67 32.1%,#bec32e 32.4%,#c8c129 32.9%,#55cc7c 33.3%,#05bcc0 33.6%,#3777fe 34.4%,#1fa6e2 35.1%,#05b5ce 35.3%,#6dcd67 35.7%,#bdc32e 36.0%,#c7c129 36.5%,#54cc7d 36.9%,#04bbc1 37.3%,#3677fe 38.0%,#2895ec 38.6%,#04b6ce 38.9%,#6fcd66 39.4%,#cfc027 39.8%,#aec637 40.3%,#03bbc2 40.9%,#3777fe 41.6%,#1ea7e1 42.4%,#02b7cc 42.5%,#72cd64 43.0%,#bfc32d 43.3%,#c6c22a 43.8%,#4fcc80 44.2%,#01bac4 44.5%,#3777fe 45.3%,#1da8e0 46.0%,#01b7cb 46.2%,#c0c32d 46.9%,#c4c22b 47.4%,#4ccb83 47.8%,#01bac5 48.2%,#3776fe 48.9%,#1da9e0 49.7%,#01b8c9 49.8%,#c2c22b 50.6%,#c4c22b 51.0%,#00b9c7 51.8%,#317dfc 52.4%,#2d89f6 53.0%,#00b9c8 53.5%,#c3c22b 54.2%,#c2c22c 54.7%,#00b8c9 55.4%,#2d88f6 55.9%,#317dfc 56.5%,#00b9c6 57.1%,#c4c22b 57.8%,#c1c32c 58.3%,#01b7ca 59.1%,#2d87f6 59.5%,#307efb 60.1%,#01bac4 60.7%,#abc739 61.3%,#cfc027 61.8%,#a0c840 62.1%,#24c1ae 62.5%,#02b7cc 62.7%,#2e87f7 63.1%,#307ffb 63.7%,#02bbc3 64.4%,#adc738 65.0%,#cec027 65.4%,#70cd65 65.9%,#04b6cd 66.3%,#337bfc 66.9%,#2d8cf3 67.5%,#04bbc1 68.0%,#aec637 68.6%,#cec027 69.0%,#9cc943 69.4%,#1fc0b2 69.8%,#05b5cf 70.0%,#337bfd 70.6%,#2d8df2 71.2%,#06bcbf 71.6%,#b1c635 72.2%,#cec027 72.7%,#6acd69 73.1%,#08b5d0 73.6%,#3875fe 74.3%,#15afd9 75.1%,#08bcbe 75.3%,#b1c635 75.9%,#cdc028 76.3%,#99c946 76.6%,#1abfb5 77.1%,#0ab4d1 77.2%,#3875fe 78.0%,#14b0d8 78.7%,#0bbdbd 78.9%,#b3c534 79.5%,#ccc028 80.0%,#96ca48 80.3%,#18bfb6 80.7%,#0cb3d2 80.9%,#3975fe 81.6%,#12b1d7 82.4%,#0dbdbb 82.5%,#b4c533 83.1%,#ccc028 83.6%,#64cd6f 84.0%,#15bfb7 84.3%,#2e83f9 84.9%,#2f82fa 85.6%,#0fbeba 86.2%,#b5c533 86.8%,#cbc028 87.2%,#93ca4a 87.5%,#14beb8 88.0%,#2e83f9 88.6%,#2f82f9 89.2%,#11beba 89.8%,#b7c532 90.4%,#ccc028 90.9%,#61cd71 91.3%,#12beb9 91.6%,#2f82f9 92.2%,#2f82f9 92.8%,#12beb9 93.4%,#b6c532 94.0%,#cbc128 94.5%,#60cd72 94.9%,#11beb9 95.2%,#2f82f9 95.9%,#2e83f9 96.5%,#13beb9 97.1%,#b7c532 97.7%,#cbc128 98.1%,#60cd72 98.6%,#11beba 98.9%,#2f82f9 99.5%,#3579fd 99.9%)"></div><div style="left:157.29px;top:0;width:3.27px;height:165.1px;background:linear-gradient(#3eca8f 0.0%,#b8c431 0.5%,#efba35 0.9%,#d7be28 1.5%,#69cd6b 2.0%,#00b9c7 2.4%,#3b72ff 3.2%,#3777fe 3.9%,#11beba 4.7%,#ccc028 5.5%,#e5bb2c 5.9%,#a8c73b 6.4%,#03bbc2 7.0%,#3974ff 7.7%,#327cfc 8.3%,#00b9c8 8.9%,#c2c22b 9.7%,#d8be28 10.1%,#abc739 10.4%,#02bbc3 11.1%,#3974ff 11.8%,#2d8af4 12.4%,#01bac5 12.9%,#c6c22a 13.6%,#ccc028 14.1%,#5acc77 14.5%,#0abdbd 14.8%,#3776fe 15.6%,#2d8df2 16.2%,#09bdbe 16.7%,#b3c534 17.3%,#d2bf27 17.7%,#72cd63 18.2%,#03b6cd 18.6%,#337afd 19.2%,#2d8af5 19.8%,#01bac4 20.3%,#acc738 20.9%,#d1bf27 21.4%,#a4c83e 21.7%,#25c2ae 22.1%,#02b7cb 22.3%,#2e86f7 22.7%,#307efb 23.3%,#02bbc2 23.9%,#afc636 24.5%,#cfc027 25.0%,#9dc943 25.3%,#1ec0b3 25.7%,#07b5d0 25.9%,#3975fe 26.7%,#13b1d7 27.4%,#0dbdbb 27.6%,#b6c532 28.2%,#cbc028 28.6%,#5ecd74 29.1%,#0dbdbc 29.4%,#3678fe 30.1%,#2994ed 30.7%,#05b6ce 31.0%,#71cd64 31.5%,#bfc32d 31.8%,#c5c22a 32.3%,#4bcb84 32.7%,#00b9c7 33.0%,#317cfc 33.6%,#2d8bf4 34.2%,#02bbc3 34.7%,#afc637 35.3%,#cec027 35.7%,#99c946 36.0%,#18bfb6 36.5%,#0cb3d3 36.6%,#3975fe 37.4%,#0bb3d2 38.2%,#39c994 38.5%,#bcc42f 38.9%,#c8c129 39.4%,#52cc7e 39.8%,#02bac3 40.1%,#3776fe 40.9%,#1babde 41.6%,#00b9c6 41.8%,#abc739 42.4%,#cec027 42.9%,#9dc943 43.2%,#1dc0b3 43.6%,#08b5d0 43.8%,#3875fe 44.5%,#0fb2d5 45.3%,#14beb8 45.4%,#b9c430 46.0%,#c8c129 46.5%,#55cc7b 46.9%,#04bbc1 47.2%,#3777fe 48.0%,#1ca9df 48.8%,#00b8c8 48.9%,#c5c22a 49.7%,#c0c32d 50.1%,#21c1b1 50.7%,#05b6ce 50.9%,#347afd 51.5%,#2c8ff1 52.1%,#10beba 52.5%,#b8c531 53.1%,#cac128 53.6%,#59cc78 54.1%,#06bcbf 54.4%,#3777fe 55.1%,#1da8e0 55.9%,#01b8ca 56.0%,#c3c22b 56.8%,#c1c32c 57.2%,#03b6cd 58.0%,#2e85f8 58.4%,#2f80fa 59.1%,#0cbdbc 59.7%,#b6c533 60.3%,#cac128 60.7%,#8fcb4e 61.0%,#0abdbd 61.5%,#3677fe 62.2%,#2895ec 62.8%,#02b7cc 63.1%,#75cc61 63.6%,#c2c22c 63.9%,#c3c22b 64.4%,#01b7cb 65.1%,#2e87f7 65.6%,#2f7ffb 66.2%,#08bcbe 66.8%,#b4c534 67.4%,#ccc028 67.8%,#60cd72 68.3%,#0fbebb 68.6%,#2f81fa 69.2%,#2e85f8 69.8%,#04b6ce 70.3%,#72cd64 70.7%,#c0c32d 71.0%,#c4c22b 71.5%,#49cb86 71.9%,#00b8c8 72.2%,#2d87f6 72.7%,#307ffb 73.3%,#04bbc1 73.9%,#b1c635 74.5%,#d1bf27 74.8%,#bac430 75.1%,#14beb8 75.7%,#2f82fa 76.3%,#2e84f9 76.9%,#08b5d0 77.4%,#6dcd68 77.8%,#bec32e 78.1%,#c6c229 78.6%,#4dcc82 79.0%,#00b9c6 79.3%,#317dfc 80.0%,#2d8af5 80.6%,#02bac4 81.0%,#aec637 81.6%,#cec027 82.1%,#69cd6a 82.5%,#19bfb5 82.8%,#0bb3d2 83.0%,#3875fe 83.7%,#0cb3d3 84.5%,#39c995 84.8%,#bbc42f 85.3%,#c7c129 85.7%,#53cc7e 86.2%,#02bbc3 86.5%,#3776fe 87.2%,#1caadf 88.0%,#00b9c7 88.1%,#aac73a 88.7%,#d1bf27 89.0%,#bfc32d 89.3%,#20c1b1 89.9%,#06b5cf 90.1%,#347afd 90.7%,#2c8ff1 91.3%,#10beba 91.8%,#b8c431 92.4%,#cbc128 92.8%,#5acc78 93.3%,#07bcbf 93.6%,#3777fe 94.3%,#1ea8e1 95.1%,#02b7cb 95.2%,#c2c22c 96.0%,#c2c22c 96.5%,#01b7cb 97.2%,#2e86f7 97.7%,#307ffb 98.3%,#07bcbf 98.9%,#b3c534 99.5%,#ccc028 99.9%)"></div><div style="left:160.26px;top:0;width:3.27px;height:165.1px;background:linear-gradient(#3fca8e 0.0%,#bcc42f 0.5%,#efba35 0.9%,#cdc028 1.5%,#0cbdbc 2.3%,#3876fe 3.0%,#3975fe 3.8%,#0ebdbb 4.5%,#cdc028 5.3%,#e4bb2b 5.8%,#a0c941 6.2%,#01b8c9 6.8%,#3c71ff 7.6%,#2f82fa 8.2%,#11beb9 8.8%,#b7c532 9.4%,#dbbd28 9.8%,#91ca4c 10.3%,#0fbebb 10.8%,#3876fe 11.5%,#2d88f6 12.1%,#00b9c7 12.6%,#c7c129 13.3%,#ccc028 13.8%,#56cc7b 14.2%,#04bcc1 14.5%,#3975fe 15.3%,#2b92ee 15.9%,#0ab4d1 16.2%,#3bc992 16.5%,#bec32e 17.0%,#ccc028 17.4%,#8dcb4f 17.7%,#06bcbf 18.2%,#3876fe 18.9%,#2995ed 19.5%,#03b6cd 19.8%,#75cc61 20.3%,#c3c22b 20.6%,#c6c22a 21.0%,#49cb86 21.5%,#01b8c9 21.8%,#2e87f7 22.3%,#307efb 22.9%,#06bcc0 23.5%,#b5c533 24.1%,#cdc027 24.5%,#93ca4b 24.8%,#0dbdbc 25.3%,#2f80fb 25.9%,#2e86f8 26.5%,#01b7cb 27.0%,#a8c73b 27.6%,#d1bf27 28.0%,#a0c840 28.3%,#1fc0b2 28.8%,#07b5d0 28.9%,#3579fd 29.5%,#2b91ef 30.1%,#0bb4d2 30.4%,#3bc992 30.7%,#bec32e 31.2%,#c5c22a 31.6%,#49cb85 32.1%,#01b8c9 32.4%,#2e86f7 32.9%,#2f80fb 33.5%,#0ebebb 34.1%,#b9c431 34.7%,#d2bf27 35.0%,#b0c636 35.3%,#01bac4 35.9%,#3876fe 36.6%,#18aedb 37.4%,#05bcc0 37.6%,#b4c534 38.2%,#d2bf27 38.5%,#b5c533 38.8%,#06bcbf 39.4%,#3776fe 40.1%,#1babde 40.9%,#01bac5 41.0%,#afc636 41.6%,#d1bf27 41.9%,#bac430 42.2%,#0fbebb 42.9%,#2f80fa 43.5%,#2e87f7 44.1%,#00b8c9 44.5%,#aac73a 45.1%,#cfc027 45.6%,#9bc945 45.9%,#18bfb6 46.3%,#0db3d3 46.5%,#3975fe 47.2%,#1fa6e2 47.8%,#03b6cd 48.0%,#76cc60 48.5%,#c3c22b 48.8%,#c1c32c 49.2%,#1fc0b2 49.8%,#07b5d0 50.0%,#3579fd 50.6%,#2b92ee 51.2%,#08b4d1 51.5%,#3dc990 51.8%,#bfc32d 52.2%,#c3c22b 52.7%,#26c2ad 53.3%,#02b7cc 53.5%,#2e85f8 53.9%,#2f81fa 54.5%,#15bfb7 55.1%,#bcc42f 55.7%,#c6c22a 56.2%,#4bcb83 56.6%,#00b9c8 56.9%,#2e87f7 57.4%,#2f7ffb 58.0%,#0dbdbc 58.6%,#b8c431 59.2%,#c8c129 59.7%,#53cc7e 60.1%,#01bac4 60.4%,#3876fe 61.2%,#18aedb 61.9%,#05bcc0 62.1%,#b4c533 62.7%,#d2bf27 63.0%,#b5c533 63.3%,#06bcc0 63.9%,#3776fe 64.7%,#1aabdd 65.4%,#01bac4 65.6%,#b0c636 66.2%,#d1bf27 66.5%,#b9c430 66.8%,#0ebdbb 67.4%,#2f80fb 68.0%,#2e87f7 68.6%,#00b8c8 69.0%,#abc739 69.7%,#d1bf27 70.0%,#bdc32e 70.3%,#17bfb7 70.9%,#23a1e4 71.2%,#3975fe 71.8%,#1fa6e2 72.4%,#03b6cc 72.5%,#77cc60 73.0%,#c3c22b 73.3%,#c0c32c 73.7%,#1fc0b2 74.3%,#07b5d0 74.5%,#3579fd 75.1%,#2b92ee 75.7%,#08b4d1 76.0%,#3dca90 76.3%,#c0c32d 76.8%,#c4c22b 77.2%,#26c2ad 77.8%,#02b7cc 78.0%,#2e85f8 78.4%,#2f81fa 79.0%,#15bfb8 79.6%,#bcc42f 80.3%,#c6c22a 80.7%,#4ccb83 81.2%,#00b9c7 81.5%,#2d87f7 81.9%,#307ffb 82.5%,#0bbdbc 83.1%,#b7c532 83.7%,#c9c129 84.2%,#54cc7c 84.6%,#02bbc3 84.9%,#3876fe 85.7%,#19addc 86.5%,#03bbc1 86.6%,#b2c534 87.2%,#d2bf27 87.5%,#b6c532 87.8%,#09bdbe 88.4%,#3777fe 89.2%,#2698ea 89.8%,#00b9c6 90.1%,#adc638 90.7%,#d1bf27 91.0%,#bcc42f 91.3%,#13beb8 91.9%,#2f81fa 92.5%,#2e86f8 93.1%,#02b7cb 93.6%,#a7c73c 94.2%,#d1bf27 94.5%,#c0c32c 94.8%,#1ec0b3 95.4%,#08b4d0 95.5%,#3975fe 96.3%,#08b4d0 97.1%,#6fcd66 97.5%,#c0c32d 97.8%,#c4c22a 98.3%,#26c2ad 98.9%,#02b7cb 99.0%,#2e86f8 99.5%,#3678fe 99.9%)"></div><div style="left:163.22px;top:0;width:3.27px;height:165.1px;background:linear-gradient(#41ca8c 0.0%,#bfc32d 0.5%,#efba35 0.9%,#dabd28 1.4%,#9bc944 1.7%,#24c1ae 2.1%,#01b8c9 2.3%,#3e6fff 3.0%,#2f80fb 3.8%,#08bcbe 4.4%,#ccc028 5.1%,#e3bc2b 5.6%,#c0c32d 5.9%,#1ec0b3 6.5%,#05b5cf 6.7%,#3e6fff 7.4%,#2e87f7 8.0%,#01b8c9 8.5%,#c5c22a 9.2%,#d6be28 9.7%,#a2c83f 10.0%,#23c1af 10.4%,#03b6cd 10.6%,#3578fd 11.2%,#2e85f8 11.8%,#02b7cc 12.3%,#76cc60 12.7%,#c4c22a 13.0%,#ccc028 13.5%,#8acb52 13.8%,#03bbc2 14.2%,#3974ff 15.0%,#2895ec 15.6%,#02b7cb 15.9%,#79cc5e 16.4%,#c6c22a 16.7%,#c6c22a 17.1%,#45cb88 17.6%,#02b7cb 17.9%,#2e85f8 18.3%,#307ffb 18.9%,#0ebdbb 19.5%,#bbc42f 20.1%,#cbc028 20.6%,#89cb52 20.9%,#02bbc3 21.4%,#3975ff 22.1%,#18addb 22.9%,#05bcc0 23.0%,#b6c532 23.6%,#ccc028 24.1%,#8dcb4f 24.4%,#04bbc1 24.8%,#3875fe 25.6%,#18addb 26.3%,#05bcc0 26.5%,#b6c532 27.1%,#cbc128 27.6%,#8acb51 27.9%,#02bbc3 28.3%,#3875fe 29.1%,#16afd9 29.8%,#0abdbd 30.0%,#b9c431 30.6%,#c8c129 31.0%,#4ecc81 31.5%,#00b9c7 31.8%,#2e87f7 32.3%,#2f80fa 32.9%,#15bfb7 33.5%,#bec32e 34.1%,#d2bf27 34.4%,#a7c73c 34.7%,#25c2ae 35.1%,#03b6cd 35.3%,#2e84f8 35.7%,#2e83f9 36.3%,#06b5cf 36.8%,#40ca8d 37.1%,#c2c22b 37.6%,#d0bf27 37.9%,#9ec942 38.2%,#19bfb5 38.6%,#0db3d3 38.8%,#3875fe 39.5%,#1da8e0 40.1%,#00b8c9 40.3%,#adc638 40.9%,#d2bf27 41.2%,#b9c430 41.5%,#0bbdbd 42.1%,#307efb 42.7%,#2d89f5 43.3%,#03bbc2 43.8%,#b4c533 44.4%,#d2bf27 44.7%,#b2c635 45.0%,#01bac4 45.6%,#3876fe 46.3%,#13b1d7 47.1%,#10beba 47.2%,#bbc42f 47.8%,#d2bf27 48.2%,#aac73a 48.5%,#02b7cb 49.1%,#2e85f8 49.5%,#2f82fa 50.1%,#08b4d1 50.6%,#3eca8f 50.9%,#c1c32c 51.3%,#d0bf27 51.6%,#a0c841 51.9%,#1cc0b4 52.4%,#0bb4d2 52.5%,#3875fe 53.3%,#1ea8e1 53.9%,#01b8ca 54.1%,#abc739 54.7%,#d2bf27 55.0%,#bac430 55.3%,#0dbdbc 55.9%,#307ffb 56.5%,#2d89f5 57.1%,#02bbc2 57.5%,#b4c534 58.1%,#d3bf27 58.4%,#b3c534 58.8%,#02bbc3 59.4%,#3876fe 60.1%,#14b0d8 60.9%,#0ebebb 61.0%,#bbc430 61.6%,#d2bf27 61.9%,#abc739 62.2%,#01b7ca 62.8%,#2e85f8 63.3%,#2f82fa 63.9%,#0ab4d1 64.4%,#3dca90 64.7%,#c1c32c 65.1%,#d0bf27 65.4%,#a1c840 65.7%,#1dc0b3 66.2%,#09b4d1 66.3%,#3875fe 67.1%,#1ea7e1 67.7%,#01b7cb 67.8%,#aac73a 68.4%,#d2bf27 68.7%,#bbc42f 69.0%,#0fbebb 69.7%,#307ffb 70.3%,#2d89f6 70.9%,#02bac4 71.3%,#b2c534 71.9%,#d2bf27 72.2%,#b4c533 72.5%,#03bbc2 73.1%,#3876fe 73.9%,#15afd9 74.7%,#0cbdbc 74.8%,#b9c430 75.4%,#d2bf27 75.7%,#acc738 76.0%,#01b8c9 76.6%,#2e86f8 77.1%,#2f81fa 77.7%,#0cb3d3 78.1%,#3bc992 78.4%,#c0c32d 78.9%,#d1bf27 79.2%,#a4c83e 79.5%,#20c1b1 80.0%,#07b5d0 80.1%,#3579fd 80.7%,#2994ed 81.3%,#03b6cc 81.6%,#7acc5d 82.1%,#c5c22a 82.4%,#cfc027 82.7%,#9bc945 83.0%,#14beb8 83.4%,#2f80fb 84.0%,#2d87f6 84.6%,#00b9c6 85.1%,#b0c636 85.7%,#d2bf27 86.0%,#b7c532 86.3%,#06bcbf 86.9%,#3876fe 87.7%,#18aedb 88.4%,#06bcbf 88.6%,#b7c532 89.2%,#d2bf27 89.5%,#b0c636 89.8%,#00b9c6 90.4%,#327bfc 91.0%,#2d8ef1 91.6%,#13beb9 92.1%,#bdc42e 92.7%,#d1bf27 93.0%,#a9c73a 93.3%,#26c2ad 93.7%,#02b7cc 93.9%,#2e84f8 94.3%,#2e82f9 94.9%,#08b4d0 95.4%,#3fca8e 95.7%,#c2c22c 96.2%,#d0bf27 96.5%,#a1c840 96.8%,#1dc0b3 97.2%,#0ab4d1 97.4%,#3975fe 98.1%,#1ea7e1 98.7%,#01b7cb 98.9%,#aac73a 99.5%,#d2bf27 99.8%,#cec027 99.9%)"></div><div style="left:166.19px;top:0;width:3.27px;height:165.1px;background:linear-gradient(#42ca8b 0.0%,#c3c22b 0.5%,#efba35 0.9%,#d2bf27 1.4%,#57cc7a 1.8%,#0dbdbb 2.1%,#3a74ff 2.9%,#3e70ff 3.5%,#02bbc3 4.2%,#cbc128 5.0%,#e3bc2b 5.5%,#bdc32e 5.8%,#17bfb6 6.4%,#0bb3d2 6.5%,#3f6eff 7.3%,#259de6 8.0%,#07bcbf 8.3%,#b5c533 8.9%,#dcbd29 9.4%,#b5c533 9.7%,#04bbc1 10.3%,#3a73ff 11.1%,#2c90f0 11.7%,#0cb3d3 12.0%,#3bc993 12.3%,#c1c32c 12.7%,#cfc027 13.2%,#8ecb4f 13.5%,#05bcc0 13.9%,#3a74ff 14.7%,#1da9e0 15.4%,#00b9c8 15.6%,#afc636 16.2%,#d2bf27 16.7%,#9dc943 17.0%,#16bfb7 17.4%,#2f80fb 18.0%,#2e85f8 18.6%,#01b8ca 19.1%,#adc638 19.7%,#d1bf27 20.1%,#9ac945 20.4%,#11beba 20.9%,#307ffb 21.5%,#2d87f7 22.1%,#01bac4 22.6%,#b4c534 23.2%,#cdc028 23.6%,#8ccb50 23.9%,#02bbc3 24.4%,#3975fe 25.1%,#12b1d6 25.9%,#13beb9 26.0%,#bec32d 26.7%,#d2bf27 27.0%,#a6c83c 27.3%,#21c1b0 27.7%,#06b5cf 27.9%,#3678fe 28.5%,#2895ec 29.1%,#01b8c9 29.4%,#afc636 30.0%,#cdc027 30.4%,#90ca4d 30.7%,#04bbc1 31.2%,#327cfc 31.8%,#2d8df2 32.4%,#14beb8 32.9%,#bfc32d 33.5%,#c3c22b 33.9%,#1dc0b3 34.5%,#0ab4d2 34.7%,#3975fe 35.4%,#1caadf 36.0%,#00bac6 36.2%,#b3c534 36.8%,#d2bf27 37.1%,#b3c534 37.4%,#01bac6 38.0%,#337bfc 38.6%,#2c90f0 39.2%,#0ab4d1 39.5%,#3fca8e 39.8%,#c4c22b 40.3%,#bfc32d 40.7%,#12beb9 41.3%,#307ffb 41.9%,#317dfc 42.4%,#06bcbf 43.0%,#b9c431 43.6%,#d1bf27 43.9%,#acc738 44.2%,#27c2ac 44.7%,#02b7cc 44.8%,#2e84f9 45.3%,#2e84f8 45.9%,#02b7cb 46.3%,#acc738 46.9%,#d2bf27 47.2%,#b8c431 47.5%,#05bcc0 48.2%,#317dfc 48.8%,#2d8df2 49.4%,#14beb8 49.8%,#bfc32d 50.4%,#d1bf27 50.7%,#a3c83f 51.0%,#1cc0b4 51.5%,#0bb3d2 51.6%,#3875fe 52.4%,#1babde 53.0%,#01bac4 53.1%,#b4c534 53.8%,#d2bf27 54.1%,#b1c635 54.4%,#00b9c7 55.0%,#2e86f7 55.4%,#2f82fa 56.0%,#07b5d0 56.5%,#41ca8c 56.8%,#c4c22b 57.2%,#cfc027 57.5%,#99c946 57.8%,#0ebdbb 58.3%,#307efb 58.9%,#2d8bf4 59.5%,#09bdbd 60.0%,#bbc430 60.6%,#d2bf27 60.9%,#a8c73b 61.2%,#24c1ae 61.6%,#04b6ce 61.8%,#2e83f9 62.2%,#2e85f8 62.8%,#01b8c9 63.3%,#afc637 63.9%,#d2bf27 64.2%,#b6c532 64.5%,#03bbc2 65.1%,#327cfc 65.7%,#2d8ef1 66.3%,#0eb2d4 66.6%,#3bc993 66.9%,#c1c32c 67.4%,#d0bf27 67.7%,#a0c941 68.0%,#18bfb6 68.4%,#0eb2d4 68.6%,#3875fe 69.4%,#1aacdd 70.0%,#02bbc2 70.1%,#b7c532 70.7%,#c9c129 71.2%,#83cc57 71.5%,#00b8c9 71.9%,#2e85f8 72.4%,#3578fd 72.8%,#05b6ce 73.4%,#79cc5e 73.9%,#c6c22a 74.2%,#bcc42f 74.7%,#0bbdbd 75.3%,#307efb 75.9%,#2d8cf3 76.5%,#0dbdbc 76.9%,#bcc42f 77.5%,#d1bf27 77.8%,#a8c73b 78.1%,#22c1b0 78.6%,#06b5cf 78.7%,#3578fd 79.3%,#2896ec 80.0%,#00b8c8 80.3%,#b0c636 80.9%,#d2bf27 81.2%,#b5c533 81.5%,#02bbc3 82.1%,#327cfc 82.7%,#2c8ff0 83.3%,#0eb3d4 83.6%,#3bc992 83.9%,#c1c32c 84.3%,#d0bf27 84.6%,#a0c941 84.9%,#17bfb6 85.4%,#23a0e5 85.7%,#3875fe 86.3%,#1aacdd 86.9%,#02bbc2 87.1%,#b6c532 87.7%,#d2bf27 88.0%,#afc636 88.3%,#00b8c9 88.9%,#2e85f8 89.3%,#2f82f9 89.9%,#05b5cf 90.4%,#43ca8a 90.7%,#c5c22a 91.2%,#cfc027 91.5%,#98ca47 91.8%,#0cbdbc 92.2%,#307efc 92.8%,#2d8bf4 93.4%,#0abdbd 93.9%,#bbc430 94.5%,#d2bf27 94.8%,#a9c73a 95.1%,#25c2ae 95.5%,#04b6cd 95.7%,#2e83f9 96.2%,#2e84f8 96.8%,#01b7ca 97.2%,#adc637 97.8%,#d2bf27 98.1%,#b8c531 98.4%,#04bcc0 99.0%,#317cfc 99.6%,#3777fe 99.9%)"></div><div style="left:169.16px;top:0;width:3.27px;height:165.1px;background:linear-gradient(#44cb8a 0.0%,#c6c22a 0.5%,#eeba34 0.9%,#c8c129 1.4%,#00b9c8 2.1%,#3f6eff 2.9%,#3578fd 3.5%,#00b8c9 4.1%,#c8c129 4.8%,#e3bc2b 5.3%,#bdc32e 5.6%,#13beb9 6.2%,#2f80fb 6.8%,#3a74ff 7.4%,#0cb3d3 8.0%,#3ac994 8.3%,#c1c32c 8.8%,#d8be28 9.2%,#a4c83e 9.5%,#20c1b1 10.0%,#07b5d0 10.1%,#3d71ff 10.9%,#17aeda 11.7%,#07bcbf 11.8%,#bac430 12.4%,#d2bf27 12.9%,#96ca48 13.2%,#0bbdbd 13.6%,#317dfc 14.2%,#2e86f7 14.8%,#00b9c6 15.3%,#b3c534 15.9%,#d6be27 16.2%,#bbc42f 16.5%,#07bcbf 17.1%,#327cfc 17.7%,#2d8af4 18.3%,#09bdbe 18.8%,#bcc42f 19.4%,#d4bf27 19.7%,#adc638 20.0%,#27c2ac 20.4%,#02b7cc 20.6%,#2e83f9 21.0%,#2e83f9 21.7%,#02b7cb 22.1%,#aec637 22.7%,#d3bf27 23.0%,#b8c431 23.3%,#03bbc1 23.9%,#337bfc 24.5%,#2d8ef1 25.1%,#0db3d3 25.4%,#3dc990 25.7%,#c3c22b 26.2%,#d1bf27 26.5%,#9cc944 26.8%,#10beba 27.3%,#307efb 27.9%,#2d8bf4 28.5%,#0fbeba 28.9%,#bfc32d 29.5%,#c3c22b 30.0%,#18bfb6 30.6%,#23a0e5 30.9%,#3875fe 31.5%,#17aeda 32.1%,#09bdbe 32.3%,#bdc42e 32.9%,#d1bf27 33.2%,#a6c83d 33.5%,#1dc0b3 33.9%,#0bb3d2 34.1%,#3975fe 34.8%,#19addc 35.4%,#05bcc0 35.6%,#bac430 36.2%,#d1bf27 36.5%,#a8c73b 36.8%,#20c1b1 37.3%,#08b4d1 37.4%,#3677fe 38.0%,#2699e9 38.6%,#03bbc1 38.9%,#b9c431 39.5%,#d2bf27 39.8%,#a9c73a 40.1%,#22c1b0 40.6%,#07b5d0 40.7%,#3677fe 41.3%,#2699e9 41.9%,#02bbc3 42.2%,#b8c431 42.9%,#d2bf27 43.2%,#aac73a 43.5%,#23c1af 43.9%,#05b5cf 44.1%,#3677fe 44.7%,#2698ea 45.3%,#02bac3 45.6%,#b8c531 46.2%,#d2bf27 46.5%,#abc739 46.8%,#25c2ae 47.2%,#04b6ce 47.4%,#2f82f9 47.8%,#337bfd 48.3%,#01bac4 48.9%,#b6c532 49.5%,#d2bf27 49.8%,#adc638 50.1%,#26c2ad 50.6%,#03b6cd 50.7%,#2e83f9 51.2%,#347afd 51.6%,#01bac5 52.2%,#b5c533 52.8%,#d2bf27 53.1%,#aec637 53.5%,#02b7cc 54.1%,#2e83f9 54.5%,#2e86f8 55.1%,#00b9c6 55.6%,#b4c533 56.2%,#d3bf27 56.5%,#aec637 56.8%,#02b7cb 57.4%,#2e83f9 57.8%,#2e85f8 58.4%,#00b9c7 58.9%,#b4c534 59.5%,#d2bf27 59.8%,#afc636 60.1%,#01b7cb 60.7%,#2e84f9 61.2%,#347afd 61.6%,#1da8e0 62.1%,#00b9c8 62.2%,#b3c534 62.8%,#d2bf27 63.1%,#b1c636 63.4%,#01b8ca 64.1%,#2e84f8 64.5%,#3479fd 65.0%,#1ea8e1 65.4%,#00b8c9 65.6%,#b2c635 66.2%,#d2bf27 66.5%,#b2c635 66.8%,#00b8c9 67.4%,#2e84f8 67.8%,#3579fd 68.3%,#1ea7e1 68.7%,#01b8ca 68.9%,#b0c636 69.5%,#d2bf27 69.8%,#b2c534 70.1%,#00b9c8 70.7%,#2e85f8 71.2%,#2e84f9 71.8%,#01b7cb 72.2%,#afc636 72.8%,#d3bf27 73.1%,#b3c534 73.4%,#00b9c7 74.0%,#2e86f8 74.5%,#3579fd 75.0%,#1fa6e2 75.4%,#02b7cc 75.6%,#afc637 76.2%,#d2bf27 76.5%,#b5c533 76.8%,#00b9c6 77.4%,#347afd 78.0%,#2a92ee 78.6%,#03b6cd 78.9%,#7fcc5a 79.3%,#c8c129 79.6%,#ccc028 80.0%,#8dcb50 80.3%,#01bac5 80.7%,#337bfd 81.3%,#2b92ee 81.9%,#04b6ce 82.2%,#7dcc5c 82.7%,#c8c129 83.0%,#cdc028 83.3%,#8fcb4e 83.6%,#02bbc3 84.0%,#337bfc 84.6%,#2b91ef 85.3%,#06b5cf 85.6%,#44cb8a 85.9%,#a9c73a 86.2%,#d2bf27 86.5%,#b9c431 86.8%,#03bbc2 87.4%,#337bfc 88.0%,#2c90f0 88.6%,#08b4d1 88.9%,#41ca8c 89.2%,#a8c73b 89.5%,#d2bf27 89.8%,#bac430 90.1%,#05bcc0 90.7%,#327cfc 91.3%,#2c8ff0 91.9%,#0bb4d2 92.2%,#3fca8e 92.5%,#a6c83c 92.8%,#d1bf27 93.1%,#bcc42f 93.4%,#08bcbe 94.0%,#317dfc 94.6%,#2d8ef1 95.2%,#0eb3d4 95.5%,#3cc991 95.9%,#c3c22b 96.3%,#bfc32d 96.8%,#0cbdbc 97.4%,#317dfc 98.0%,#307ffb 98.4%,#15bfb7 99.0%,#c2c32c 99.6%,#d0c027 99.9%)"></div><div style="left:172.13px;top:0;width:3.27px;height:165.1px;background:linear-gradient(#45cb88 0.0%,#c8c129 0.5%,#edba33 0.9%,#bec32e 1.4%,#15bfb7 2.0%,#0cb3d3 2.1%,#416bfe 2.9%,#2f82fa 3.5%,#08b5d0 3.9%,#6bcd69 4.4%,#c3c22b 4.7%,#e3bc2b 5.1%,#bfc32d 5.5%,#12beb9 6.1%,#307ffb 6.7%,#3876fe 7.3%,#02b7cc 7.9%,#79cc5e 8.3%,#c9c129 8.6%,#d3bf27 9.1%,#92ca4b 9.4%,#06bcbf 9.8%,#327cfc 10.4%,#2e84f9 11.1%,#01b7ca 11.5%,#afc637 12.1%,#d7be28 12.4%,#c4c22b 12.7%,#17bfb6 13.3%,#307ffb 13.9%,#3579fd 14.4%,#00b9c7 15.0%,#b4c533 15.6%,#d5be27 15.9%,#b9c431 16.2%,#01bac4 16.8%,#347afd 17.4%,#2c8ff1 18.0%,#0bb3d2 18.3%,#3fca8e 18.6%,#c6c22a 19.1%,#d1bf27 19.4%,#9ac945 19.7%,#0bbdbd 20.1%,#327cfc 20.7%,#307efb 21.2%,#18bfb6 21.8%,#c3c22b 22.4%,#d1bf27 22.7%,#9bc945 23.0%,#0bbdbd 23.5%,#327cfc 24.1%,#2d8ef1 24.7%,#0db3d3 25.0%,#3eca8f 25.3%,#a6c83c 25.6%,#d2bf27 25.9%,#bbc42f 26.2%,#04bcc1 26.8%,#337bfc 27.4%,#2b91ef 28.0%,#05b5ce 28.3%,#7ecc5b 28.8%,#c9c129 29.1%,#cdc028 29.4%,#8bcb51 29.7%,#00b9c7 30.1%,#2e85f8 30.6%,#3579fd 31.0%,#1da8e0 31.5%,#00b9c7 31.6%,#b5c533 32.3%,#d2bf27 32.6%,#adc738 32.9%,#23c1af 33.3%,#06b5cf 33.5%,#3677fe 34.1%,#269ae8 34.7%,#07bcbe 35.0%,#bdc32e 35.6%,#d1bf27 35.9%,#a0c841 36.2%,#13beb9 36.6%,#317dfc 37.3%,#2d8df2 37.9%,#0eb3d4 38.2%,#3eca8f 38.5%,#a6c83c 38.8%,#d1bf27 39.1%,#bac430 39.4%,#02bbc3 40.0%,#337afd 40.6%,#2a93ee 41.2%,#01b7cb 41.5%,#b1c635 42.1%,#d2bf27 42.4%,#b0c636 42.7%,#03b6cc 43.3%,#2f82fa 43.8%,#337bfd 44.2%,#04bbc1 44.8%,#bbc42f 45.4%,#d2bf27 45.7%,#a3c83f 46.0%,#17bfb7 46.5%,#307efb 47.1%,#2d8df2 47.7%,#17bfb6 48.2%,#a4c83e 48.6%,#d1bf27 48.9%,#bbc42f 49.2%,#04bbc1 49.8%,#337bfc 50.4%,#2a92ee 51.0%,#02b7cc 51.3%,#b0c636 51.9%,#d2bf27 52.2%,#b2c635 52.5%,#02b7cb 53.1%,#2e83f9 53.6%,#337afd 54.1%,#03bbc2 54.7%,#bac430 55.3%,#d2bf27 55.6%,#a5c83d 55.9%,#19bfb5 56.3%,#249fe5 56.6%,#3876fe 57.2%,#12b1d6 57.8%,#15bfb7 58.0%,#a3c83f 58.4%,#d1bf27 58.8%,#bcc42f 59.1%,#05bcc0 59.7%,#327bfc 60.3%,#2b91ef 60.9%,#03b6cd 61.2%,#81cc59 61.6%,#cac128 61.9%,#cbc128 62.2%,#86cb55 62.5%,#01b8ca 63.0%,#2e83f9 63.4%,#347afd 63.9%,#02bac3 64.5%,#b9c431 65.1%,#d2bf27 65.4%,#a6c83c 65.7%,#1bc0b4 66.2%,#0db3d4 66.3%,#3776fe 66.9%,#249ee6 67.5%,#12beb9 67.8%,#c2c32c 68.4%,#d0bf27 68.7%,#98ca47 69.0%,#07bcbf 69.5%,#327cfc 70.1%,#2b91ef 70.7%,#05b5ce 71.0%,#7ecc5b 71.5%,#c9c129 71.8%,#ccc028 72.1%,#89cb53 72.4%,#00b8c9 72.8%,#2e84f9 73.3%,#347afd 73.7%,#01bac5 74.3%,#b7c531 75.0%,#d2bf27 75.3%,#a9c73b 75.6%,#1ec0b2 76.0%,#0bb4d2 76.2%,#3777fe 76.8%,#259ce7 77.4%,#0fbebb 77.7%,#c0c32d 78.3%,#d1bf27 78.6%,#9bc945 78.9%,#0bbdbd 79.3%,#327cfc 80.0%,#2c8ff0 80.6%,#08b5d0 80.9%,#43cb8a 81.2%,#abc739 81.5%,#d2bf27 81.8%,#b6c532 82.1%,#00b9c7 82.7%,#2e85f8 83.1%,#3579fd 83.6%,#1da8e0 84.0%,#00b9c7 84.2%,#b5c533 84.8%,#d2bf27 85.1%,#acc739 85.4%,#23c1af 85.9%,#07b5d0 86.0%,#3777fe 86.6%,#259be8 87.2%,#09bdbe 87.5%,#bec32e 88.1%,#d1bf27 88.4%,#9fc942 88.7%,#11beba 89.2%,#317dfc 89.8%,#2d8ef1 90.4%,#0db3d3 90.7%,#3fca8e 91.0%,#a7c73c 91.3%,#d1bf27 91.6%,#bac430 91.9%,#02bbc3 92.5%,#337afd 93.1%,#2a93ed 93.7%,#01b7cb 94.0%,#b1c635 94.6%,#d2bf27 94.9%,#b0c636 95.2%,#02b7cc 95.9%,#2f82f9 96.3%,#337afd 96.8%,#03bbc2 97.4%,#bac430 98.0%,#d2bf27 98.3%,#a5c83d 98.6%,#1abfb5 99.0%,#0fb2d4 99.2%,#3876fe 99.9%)"></div><div style="left:175.09px;top:0;width:3.27px;height:165.1px;background:linear-gradient(#47cb87 0.0%,#cbc128 0.5%,#ecba32 0.9%,#b3c534 1.4%,#02bbc3 2.0%,#3f6fff 2.7%,#317dfc 3.3%,#0bbdbc 3.9%,#bcc42f 4.5%,#e3bb2b 5.0%,#c2c22c 5.3%,#13beb8 5.9%,#307efb 6.5%,#3677fe 7.1%,#00b9c7 7.7%,#b3c534 8.3%,#dbbd29 8.8%,#afc636 9.1%,#02b7cb 9.7%,#2e83f9 10.1%,#317dfc 10.8%,#12beb9 11.4%,#c3c22b 12.0%,#d8be28 12.3%,#aec637 12.6%,#25c2ae 13.0%,#04b6ce 13.2%,#3876fe 13.8%,#2994ed 14.4%,#01b8ca 14.7%,#b3c534 15.3%,#d6be27 15.6%,#b7c531 15.9%,#00b9c6 16.5%,#3578fd 17.1%,#2a92ee 17.7%,#02b7cb 18.0%,#b3c534 18.6%,#d4bf27 18.9%,#b4c533 19.2%,#01b8ca 19.8%,#2e83f9 20.3%,#3479fd 20.7%,#01bac4 21.4%,#bac430 22.0%,#d3bf27 22.3%,#a8c73b 22.6%,#1bc0b4 23.0%,#0eb3d4 23.2%,#3876fe 23.8%,#249ee6 24.4%,#16bfb7 24.7%,#a5c83d 25.1%,#d2bf27 25.4%,#bbc430 25.7%,#02bac3 26.3%,#3479fd 27.0%,#2995ed 27.6%,#00b9c7 27.9%,#b8c431 28.5%,#d2bf27 28.8%,#a8c73b 29.1%,#1cc0b4 29.5%,#0eb3d4 29.7%,#3876fe 30.3%,#249fe5 30.9%,#0eb2d4 31.0%,#3fca8e 31.3%,#a8c73b 31.6%,#d3bf27 32.0%,#b7c532 32.3%,#00b9c8 32.9%,#2e84f9 33.3%,#347afd 33.8%,#03bbc1 34.4%,#bdc32e 35.0%,#d1bf27 35.3%,#9fc942 35.6%,#0dbdbb 36.0%,#327cfc 36.6%,#2f82fa 37.1%,#03b6cd 37.6%,#b1c635 38.2%,#d2bf27 38.5%,#aec637 38.8%,#23c1af 39.2%,#07b5d0 39.4%,#3777fe 40.0%,#249de6 40.6%,#14bfb8 40.9%,#a4c83e 41.3%,#d2bf27 41.6%,#b9c430 41.9%,#01bac5 42.5%,#3579fd 43.2%,#2797eb 43.8%,#02bac3 44.1%,#bcc42f 44.7%,#d1bf27 45.0%,#a1c840 45.3%,#11beba 45.7%,#317dfc 46.3%,#2f81fa 46.8%,#05b6ce 47.2%,#82cc58 47.7%,#cac128 48.0%,#cac128 48.3%,#81cc58 48.6%,#25c2ae 48.9%,#06b5cf 49.1%,#3777fe 49.7%,#259de7 50.3%,#12beb9 50.6%,#a3c83f 51.0%,#d1bf27 51.3%,#bbc430 51.6%,#01bac4 52.2%,#3479fd 52.8%,#2796eb 53.5%,#01bac4 53.8%,#bac430 54.4%,#d1bf27 54.7%,#a3c83f 55.0%,#12beb9 55.4%,#317cfc 56.0%,#2f80fa 56.5%,#06b5cf 56.9%,#48cb86 57.2%,#afc636 57.5%,#d2bf27 57.8%,#b0c636 58.1%,#26c2ad 58.6%,#05b6ce 58.8%,#2f81fa 59.2%,#317dfc 59.7%,#11beba 60.3%,#c3c22b 60.9%,#cfc027 61.2%,#94ca4a 61.5%,#02bac3 61.9%,#347afd 62.5%,#2896eb 63.1%,#01bac5 63.4%,#b9c430 64.1%,#d2bf27 64.4%,#a3c83e 64.7%,#14beb8 65.1%,#317dfc 65.7%,#2f80fa 66.2%,#07b5d0 66.6%,#46cb87 66.9%,#aec637 67.2%,#d2bf27 67.5%,#b1c635 67.8%,#27c2ac 68.3%,#04b6cd 68.4%,#2f81fa 68.9%,#327cfc 69.4%,#0fbebb 70.0%,#c2c22c 70.6%,#cfc027 70.9%,#95ca49 71.2%,#02bbc2 71.6%,#3479fd 72.2%,#2895ec 72.8%,#00b9c6 73.1%,#b9c431 73.7%,#d2bf27 74.0%,#a5c83d 74.3%,#16bfb7 74.8%,#307efc 75.4%,#2f80fb 75.9%,#09b4d1 76.3%,#44cb89 76.6%,#acc738 76.9%,#d2bf27 77.2%,#b3c534 77.5%,#02b7cc 78.1%,#2f81fa 78.6%,#327bfc 79.0%,#0cbdbc 79.6%,#c1c32c 80.3%,#d0bf27 80.6%,#97ca47 80.9%,#04bbc1 81.3%,#337afd 81.9%,#2994ed 82.5%,#00b9c8 82.8%,#b7c532 83.4%,#d2bf27 83.7%,#a8c73b 84.0%,#1ac0b5 84.5%,#0fb2d4 84.6%,#3876fe 85.3%,#23a0e5 85.9%,#0cb3d3 86.0%,#41ca8c 86.3%,#aac73a 86.6%,#d3bf27 86.9%,#b4c533 87.2%,#01b8ca 87.8%,#2e83f9 88.3%,#337bfc 88.7%,#07bcbf 89.3%,#bfc32d 89.9%,#d0bf27 90.2%,#9bc944 90.6%,#08bcbe 91.0%,#327bfc 91.6%,#2e82f9 92.1%,#01b7cb 92.5%,#b3c534 93.1%,#d2bf27 93.4%,#abc739 93.7%,#20c1b1 94.2%,#0ab4d2 94.3%,#3776fe 94.9%,#249ee6 95.5%,#18bfb6 95.9%,#a6c83c 96.3%,#d2bf27 96.6%,#b8c431 96.9%,#00b9c6 97.5%,#2e84f8 98.0%,#347afd 98.4%,#02bbc3 99.0%,#bcc42f 99.6%,#d1bf27 99.9%)"></div><div style="left:178.06px;top:0;width:3.27px;height:165.1px;background:linear-gradient(#49cb85 0.0%,#cdc027 0.5%,#eaba30 0.9%,#cac128 1.2%,#22c1b0 1.8%,#04b6cd 2.0%,#416cfe 2.7%,#2e86f8 3.3%,#00b9c6 3.8%,#b3c534 4.4%,#e4bb2c 4.8%,#c6c22a 5.1%,#18bfb6 5.8%,#0eb3d4 5.9%,#406dfe 6.7%,#1aacdd 7.4%,#02bbc3 7.6%,#bac430 8.2%,#ddbd29 8.5%,#c7c129 8.8%,#17bfb6 9.4%,#307efc 10.0%,#3776fe 10.4%,#1ea7e1 10.9%,#01b8c9 11.1%,#b5c533 11.7%,#d8be28 12.0%,#bcc42f 12.3%,#01bac4 12.9%,#3579fd 13.5%,#2f80fb 13.9%,#06b5cf 14.4%,#47cb87 14.7%,#afc637 15.0%,#d6be27 15.3%,#b9c430 15.6%,#00b9c7 16.2%,#2e84f9 16.7%,#3678fe 17.1%,#00b9c6 17.7%,#b9c430 18.3%,#d4be27 18.6%,#a9c73a 18.9%,#1bc0b4 19.4%,#0eb2d4 19.5%,#3974ff 20.1%,#249fe5 20.7%,#0eb3d4 20.9%,#40ca8d 21.2%,#aac739 21.5%,#d3bf27 21.8%,#b7c531 22.1%,#01b8ca 22.7%,#2f82fa 23.2%,#337afd 23.6%,#0abdbd 24.2%,#c2c32c 24.8%,#d0bf27 25.1%,#97ca48 25.4%,#02bbc3 25.9%,#3579fd 26.5%,#2797eb 27.1%,#02bbc3 27.4%,#bec32e 28.0%,#d1bf27 28.3%,#9dc943 28.6%,#08bcbe 29.1%,#337bfd 29.7%,#2e84f9 30.1%,#00b9c6 30.6%,#bac430 31.2%,#d2bf27 31.5%,#a1c840 31.8%,#0dbdbc 32.3%,#337bfc 32.9%,#2a93ed 33.5%,#00b8c8 33.8%,#b9c430 34.4%,#d1bf27 34.7%,#a3c83e 35.0%,#11beba 35.4%,#327cfc 36.0%,#2f82f9 36.5%,#01b8ca 36.9%,#b7c532 37.6%,#d2bf27 37.9%,#a4c83e 38.2%,#13beb9 38.6%,#327cfc 39.2%,#2f82fa 39.7%,#01b7ca 40.1%,#b7c532 40.7%,#d2bf27 41.0%,#a6c83d 41.3%,#14bfb8 41.8%,#317cfc 42.4%,#2f82fa 42.9%,#02b7cb 43.3%,#b5c533 43.9%,#d3bf27 44.2%,#a6c83c 44.5%,#15bfb7 45.0%,#317cfc 45.6%,#2f81fa 46.0%,#02b7cb 46.5%,#b5c533 47.1%,#d2bf27 47.4%,#a7c73c 47.7%,#16bfb7 48.2%,#317dfc 48.8%,#2f81fa 49.2%,#02b7cc 49.7%,#b4c533 50.3%,#d3bf27 50.6%,#a7c73c 50.9%,#17bfb6 51.3%,#317dfc 51.9%,#2f81fa 52.4%,#03b7cc 52.8%,#b4c533 53.5%,#d2bf27 53.8%,#a9c73b 54.1%,#18bfb6 54.5%,#317dfc 55.1%,#2f81fa 55.6%,#03b6cd 56.0%,#b4c534 56.6%,#d3bf27 56.9%,#a8c73b 57.2%,#19bfb5 57.7%,#317dfc 58.3%,#2f81fa 58.8%,#03b6cd 59.2%,#b3c534 59.8%,#d2bf27 60.1%,#aac73a 60.4%,#1abfb5 60.9%,#249ee6 61.2%,#3777fe 61.8%,#21a4e3 62.2%,#04b6ce 62.4%,#86cb55 62.8%,#cbc028 63.1%,#c8c129 63.4%,#77cc5f 63.7%,#1bc0b4 64.1%,#0fb2d5 64.2%,#3975fe 64.8%,#21a3e3 65.4%,#05b6ce 65.6%,#84cc56 66.0%,#ccc028 66.3%,#c8c129 66.6%,#78cc5f 66.9%,#1cc0b4 67.2%,#0fb2d4 67.4%,#3876fe 68.0%,#21a3e3 68.6%,#05b5cf 68.7%,#4acb85 69.0%,#b2c635 69.4%,#d2bf27 69.7%,#abc739 70.0%,#1dc0b3 70.4%,#0eb3d4 70.6%,#3875fe 71.2%,#22a2e4 71.8%,#06b5cf 71.9%,#49cb85 72.2%,#b1c635 72.5%,#d2bf27 72.8%,#acc738 73.1%,#1ec0b3 73.6%,#0db3d3 73.7%,#3876fe 74.3%,#22a2e4 75.0%,#07b5d0 75.1%,#48cb86 75.4%,#b0c636 75.7%,#d2bf27 76.0%,#acc738 76.3%,#1fc0b2 76.8%,#0cb3d3 76.9%,#3876fe 77.5%,#22a2e4 78.1%,#08b4d0 78.3%,#47cb87 78.6%,#afc636 78.9%,#d2bf27 79.2%,#aec637 79.5%,#20c1b1 80.0%,#0bb4d2 80.1%,#3876fe 80.7%,#22a1e4 81.3%,#09b4d1 81.5%,#45cb88 81.8%,#afc637 82.1%,#d2bf27 82.4%,#aec637 82.7%,#22c1b0 83.1%,#09b4d1 83.3%,#3876fe 83.9%,#23a0e5 84.5%,#0bb4d2 84.6%,#44cb89 84.9%,#adc638 85.3%,#d3bf27 85.6%,#b0c636 85.9%,#23c1af 86.3%,#08b5d0 86.5%,#3876fe 87.1%,#23a0e5 87.7%,#0cb3d3 87.8%,#42ca8b 88.1%,#adc638 88.4%,#d2bf27 88.7%,#b1c635 89.0%,#25c2ae 89.5%,#06b5cf 89.6%,#3776fe 90.2%,#249fe5 90.9%,#0eb2d4 91.0%,#40ca8d 91.3%,#aac73a 91.6%,#d3bf27 91.9%,#b2c534 92.2%,#27c2ac 92.7%,#04b6ce 92.8%,#2f80fa 93.3%,#317dfc 93.7%,#19bfb5 94.3%,#aac73a 94.8%,#d2bf27 95.1%,#b4c533 95.4%,#03b6cd 96.0%,#2f81fa 96.5%,#317dfc 96.9%,#16bfb7 97.5%,#a7c83c 98.0%,#d3bf27 98.3%,#b5c533 98.6%,#02b7cb 99.2%,#2f81fa 99.6%,#3875fe 99.9%)"></div><div style="left:181.03px;top:0;width:3.27px;height:165.1px;background:linear-gradient(#4acb84 0.0%,#d0c027 0.5%,#e8bb2f 0.9%,#c2c22c 1.2%,#10beba 1.8%,#317cfc 2.4%,#3c71ff 3.0%,#09b4d1 3.6%,#3eca8f 3.9%,#cac128 4.4%,#debc29 4.8%,#a8c73b 5.1%,#1fc0b2 5.6%,#09b4d1 5.8%,#406dfe 6.5%,#19addc 7.3%,#05bcc0 7.4%,#bfc32d 8.0%,#d7be28 8.5%,#99c946 8.8%,#06bcbf 9.2%,#3579fd 9.8%,#347afd 10.3%,#0fbebb 10.9%,#c4c22a 11.5%,#d7be28 11.8%,#a6c83c 12.1%,#16bfb7 12.6%,#327cfc 13.2%,#327cfc 13.6%,#18bfb6 14.2%,#a8c73b 14.7%,#d5be27 15.0%,#bec32e 15.3%,#01bac5 15.9%,#3678fe 16.5%,#2896ec 17.1%,#02bac4 17.4%,#bec32e 18.0%,#d3bf27 18.3%,#a1c840 18.6%,#0bbdbd 19.1%,#347afd 19.7%,#2f82f9 20.1%,#00b9c8 20.6%,#bbc42f 21.2%,#d3bf27 21.5%,#a2c83f 21.8%,#0dbdbc 22.3%,#337bfd 22.9%,#2e83f9 23.3%,#00b9c6 23.8%,#bcc42f 24.4%,#d2bf27 24.7%,#9fc942 25.0%,#07bcbf 25.4%,#3579fd 26.0%,#2797eb 26.7%,#03bbc2 27.0%,#c0c32c 27.6%,#d0bf27 27.9%,#96ca49 28.2%,#01bac5 28.6%,#3578fd 29.2%,#259be8 29.8%,#0fbebb 30.1%,#a4c83e 30.6%,#d3bf27 30.9%,#b6c532 31.2%,#03b6cd 31.8%,#2f80fa 32.3%,#307efb 32.7%,#0cb3d3 33.2%,#44cb89 33.5%,#afc637 33.8%,#d2bf27 34.1%,#adc638 34.4%,#1cc0b4 34.8%,#0fb2d4 35.0%,#3875fe 35.6%,#1fa5e2 36.2%,#01b7ca 36.3%,#b8c431 36.9%,#d2bf27 37.3%,#a0c841 37.6%,#09bdbe 38.0%,#347afd 38.6%,#2e86f8 39.1%,#04bbc1 39.5%,#c1c32c 40.1%,#cfc027 40.4%,#92ca4b 40.7%,#00b9c8 41.2%,#2f82f9 41.6%,#327cfc 42.1%,#17bfb6 42.7%,#aac73a 43.2%,#d2bf27 43.5%,#b1c635 43.8%,#23c1af 44.2%,#09b4d1 44.4%,#3876fe 45.0%,#21a3e3 45.6%,#04b6ce 45.7%,#b4c533 46.3%,#d3bf27 46.6%,#a5c83d 46.9%,#10beba 47.4%,#337bfc 48.0%,#2e84f9 48.5%,#01bac4 48.9%,#bec32d 49.5%,#d0bf27 49.8%,#97ca47 50.1%,#01bac5 50.6%,#3678fd 51.2%,#259be8 51.8%,#11beba 52.1%,#a6c83c 52.5%,#d2bf27 52.8%,#b4c533 53.1%,#27c2ac 53.6%,#05b6ce 53.8%,#2f80fb 54.2%,#307ffb 54.7%,#08b4d1 55.1%,#48cb86 55.4%,#b1c635 55.7%,#d3bf27 56.0%,#a8c73b 56.3%,#16bfb7 56.8%,#327cfc 57.4%,#2e83f9 57.8%,#00b9c7 58.3%,#bcc42f 58.9%,#d1bf27 59.2%,#9bc944 59.5%,#03bbc2 60.0%,#3579fd 60.6%,#2d87f7 61.0%,#0bbdbd 61.5%,#a2c83f 61.9%,#d2bf27 62.2%,#b7c532 62.5%,#02b7cc 63.1%,#2f81fa 63.6%,#307efc 64.1%,#0db3d3 64.5%,#44cb8a 64.8%,#aec637 65.1%,#d3bf27 65.4%,#acc738 65.7%,#1cc0b4 66.2%,#10b2d5 66.3%,#3875fe 66.9%,#1fa6e2 67.5%,#01b8ca 67.7%,#bac430 68.3%,#d1bf27 68.6%,#9fc941 68.9%,#07bcbe 69.4%,#347afd 70.0%,#2e86f7 70.4%,#05bcc0 70.9%,#c1c32c 71.5%,#cfc027 71.8%,#90ca4d 72.1%,#00b8c8 72.5%,#2f82f9 73.0%,#317dfc 73.4%,#19bfb5 74.0%,#aac739 74.5%,#d2bf27 74.8%,#b1c636 75.1%,#21c1b0 75.6%,#0ab4d2 75.7%,#3876fe 76.3%,#21a4e3 76.9%,#03b6cd 77.1%,#b6c532 77.7%,#d2bf27 78.0%,#a4c83e 78.3%,#0fbebb 78.7%,#337bfc 79.3%,#2e84f8 79.8%,#02bac4 80.3%,#bec32d 80.9%,#d0bf27 81.2%,#96ca48 81.5%,#01bac5 81.9%,#3678fe 82.5%,#259be8 83.1%,#11beba 83.4%,#a6c83d 83.9%,#d2bf27 84.2%,#b5c533 84.5%,#27c2ac 84.9%,#05b6ce 85.1%,#2f80fb 85.6%,#307efb 86.0%,#09b4d1 86.5%,#47cb87 86.8%,#b1c635 87.1%,#d3bf27 87.4%,#a9c73a 87.7%,#18bfb6 88.1%,#327cfc 88.7%,#2f82f9 89.2%,#00b8c8 89.6%,#bbc430 90.2%,#d1bf27 90.6%,#9ec942 90.9%,#05bcc0 91.3%,#3579fd 91.9%,#2698ea 92.5%,#07bcbf 92.8%,#c2c22b 93.4%,#cfc027 93.7%,#8fcb4e 94.0%,#01b8c9 94.5%,#2f82fa 94.9%,#317cfc 95.4%,#19bfb5 96.0%,#aac739 96.5%,#d3bf27 96.8%,#b0c636 97.1%,#22c1b0 97.5%,#0ab4d2 97.7%,#3875fe 98.3%,#21a3e3 98.9%,#04b6ce 99.0%,#b5c533 99.6%,#d2bf27 99.9%)"></div><div style="left:184px;top:0;width:3.27px;height:165.1px;background:linear-gradient(#4ccb83 0.0%,#b1c635 0.3%,#eaba30 0.8%,#b9c431 1.2%,#01bac4 1.8%,#3776fe 2.4%,#3678fd 3.0%,#05bcc0 3.6%,#bfc32d 4.2%,#e0bc2a 4.7%,#b2c635 5.0%,#26c2ac 5.5%,#03b6cd 5.6%,#3a74ff 6.2%,#2d87f7 6.8%,#08bcbe 7.3%,#c3c22b 7.9%,#d5be27 8.3%,#8fcb4e 8.6%,#00b9c7 9.1%,#3876fe 9.7%,#2c8ff0 10.3%,#05b5ce 10.6%,#4acb85 10.9%,#b3c534 11.2%,#d8be28 11.5%,#bbc430 11.8%,#01b8ca 12.4%,#2f81fa 12.9%,#3678fe 13.3%,#05bcc0 13.9%,#c2c22b 14.5%,#d4bf27 14.8%,#9dc943 15.1%,#05bcc0 15.6%,#3678fe 16.2%,#2896ec 16.8%,#02bbc3 17.1%,#c1c32c 17.7%,#d2bf27 18.0%,#9ac945 18.3%,#02bbc3 18.8%,#3678fd 19.4%,#2e87f7 19.8%,#0bbdbd 20.3%,#a3c83e 20.7%,#d3bf27 21.0%,#b8c431 21.4%,#02b7cc 22.0%,#2f80fa 22.4%,#307dfc 22.9%,#0bb4d2 23.3%,#47cb87 23.6%,#b1c635 23.9%,#d3bf27 24.2%,#aac73a 24.5%,#15bfb8 25.0%,#337bfd 25.6%,#2e83f9 26.0%,#01bac4 26.5%,#c0c32d 27.1%,#d0bf27 27.4%,#93ca4b 27.7%,#00b8c8 28.2%,#2f82fa 28.6%,#317dfc 29.1%,#0db3d3 29.5%,#44cb89 29.8%,#b0c636 30.1%,#d3bf27 30.4%,#a9c73b 30.7%,#13beb8 31.2%,#337bfc 31.8%,#2e84f8 32.3%,#03bbc1 32.7%,#c2c22b 33.3%,#cec027 33.6%,#8ecb4f 33.9%,#02b7cc 34.4%,#2f80fb 34.8%,#307efb 35.3%,#06b5cf 35.7%,#4ccb83 36.0%,#b6c532 36.3%,#d2bf27 36.6%,#a2c83f 36.9%,#08bcbe 37.4%,#3479fd 38.0%,#2d87f7 38.5%,#0ebdbb 38.9%,#a6c83d 39.4%,#d2bf27 39.7%,#b2c635 40.0%,#22c1b0 40.4%,#0bb4d2 40.6%,#3975fe 41.2%,#1fa6e2 41.8%,#00b8c9 41.9%,#bcc42f 42.5%,#d1bf27 42.9%,#98ca47 43.2%,#01bac5 43.6%,#3777fe 44.2%,#249ee6 44.8%,#0fb2d5 45.0%,#42ca8b 45.3%,#afc637 45.6%,#d2bf27 45.9%,#aac739 46.2%,#14bfb8 46.6%,#337bfc 47.2%,#2e84f8 47.7%,#04bbc1 48.2%,#c2c22c 48.8%,#cfc027 49.1%,#8ccb50 49.4%,#03b6cd 49.8%,#2f80fb 50.3%,#307ffb 50.7%,#04b6ce 51.2%,#b6c532 51.8%,#d2bf27 52.1%,#9fc941 52.4%,#05bcc0 52.8%,#3579fd 53.5%,#259be8 54.1%,#12beb9 54.4%,#a8c73b 54.8%,#d2bf27 55.1%,#b0c636 55.4%,#1fc0b2 55.9%,#0eb3d4 56.0%,#3875fe 56.6%,#1ea8e1 57.2%,#00b9c6 57.4%,#bec32d 58.0%,#d0bf27 58.3%,#94ca4a 58.6%,#00b9c8 59.1%,#2f82fa 59.5%,#317dfc 60.0%,#0cb3d3 60.4%,#46cb88 60.7%,#b1c635 61.0%,#d3bf27 61.3%,#a6c83c 61.6%,#10beba 62.1%,#337afd 62.7%,#2e86f8 63.1%,#07bcbf 63.6%,#a1c840 64.1%,#d3bf27 64.4%,#b5c533 64.7%,#27c2ac 65.1%,#06b5cf 65.3%,#307ffb 65.7%,#2f80fb 66.2%,#02b7cc 66.6%,#b9c430 67.2%,#d1bf27 67.5%,#9dc943 67.8%,#03bbc2 68.3%,#3578fd 68.9%,#259ce7 69.5%,#16bfb7 69.8%,#abc739 70.3%,#d2bf27 70.6%,#aec637 70.9%,#1bc0b4 71.3%,#10b2d5 71.5%,#3975fe 72.1%,#1da9e0 72.7%,#01bac5 72.8%,#bfc32d 73.4%,#d0bf27 73.7%,#92ca4c 74.0%,#01b8c9 74.5%,#2f81fa 75.0%,#307efb 75.4%,#09b4d1 75.9%,#49cb85 76.2%,#b3c534 76.5%,#d2bf27 76.8%,#a5c83d 77.1%,#0cbdbc 77.5%,#3479fd 78.1%,#2e86f7 78.6%,#0abdbd 79.0%,#a3c83e 79.5%,#d2bf27 79.8%,#b5c533 80.1%,#25c2ae 80.6%,#07b5d0 80.7%,#3876fe 81.3%,#20a5e2 81.9%,#01b7cb 82.1%,#bac430 82.7%,#d2bf27 83.0%,#9bc945 83.3%,#02bbc3 83.7%,#3678fd 84.3%,#259ce7 84.9%,#18bfb6 85.3%,#abc739 85.7%,#d3bf27 86.0%,#adc638 86.3%,#1abfb5 86.8%,#327cfc 87.4%,#2e83f9 87.8%,#01bac4 88.3%,#c0c32c 88.9%,#cfc027 89.2%,#92ca4c 89.5%,#01b8c9 89.9%,#2f81fa 90.4%,#317dfc 90.9%,#0ab4d2 91.3%,#48cb86 91.6%,#b3c534 91.9%,#d2bf27 92.2%,#a5c83d 92.5%,#0ebdbb 93.0%,#347afd 93.6%,#2e86f7 94.0%,#08bcbe 94.5%,#a1c840 94.9%,#d3bf27 95.2%,#b5c533 95.5%,#27c2ac 96.0%,#06b5cf 96.2%,#307ffb 96.6%,#2f80fb 97.1%,#02b7cc 97.5%,#b9c431 98.1%,#d1bf27 98.4%,#9fc942 98.7%,#04bbc1 99.2%,#3578fd 99.8%,#3975fe 99.9%)"></div><div style="left:186.96px;top:0;width:3.27px;height:165.1px;background:linear-gradient(#4ecc81 0.0%,#b4c534 0.3%,#e9bb2f 0.8%,#afc637 1.2%,#24c1ae 1.7%,#04b6ce 1.8%,#3c72ff 2.4%,#2f80fb 3.0%,#03b6cd 3.5%,#48cb86 3.8%,#b1c635 4.1%,#e2bc2b 4.5%,#bcc42f 4.8%,#00b9c7 5.5%,#3975fe 6.1%,#3678fe 6.5%,#08bcbe 7.1%,#c4c22a 7.7%,#ddbd29 8.0%,#b7c532 8.3%,#28c2ab 8.8%,#03b6cd 8.9%,#307ffb 9.4%,#3875fe 9.8%,#01bac4 10.4%,#c0c32d 11.1%,#d8be28 11.4%,#a8c73b 11.7%,#13beb9 12.1%,#347afd 12.7%,#2f7ffb 13.2%,#02b7cc 13.6%,#bac430 14.2%,#d5be27 14.5%,#a8c73b 14.8%,#11beba 15.3%,#347afd 15.9%,#2e83f9 16.4%,#01bac5 16.8%,#c0c32c 17.4%,#d3bf27 17.7%,#97ca48 18.0%,#00b9c7 18.5%,#2f82fa 18.9%,#327cfc 19.4%,#10b2d5 19.8%,#43ca8b 20.1%,#b0c636 20.4%,#d4bf27 20.7%,#abc739 21.0%,#15bfb8 21.5%,#347afd 22.1%,#2e84f9 22.6%,#05bcc0 23.0%,#a1c840 23.5%,#d2bf27 23.8%,#b8c431 24.1%,#26c2ad 24.5%,#06b5cf 24.7%,#307efb 25.1%,#2f80fa 25.6%,#01b8c9 26.0%,#bdc32e 26.7%,#d1bf27 27.0%,#95ca49 27.3%,#00b8c8 27.7%,#2f81fa 28.2%,#307efb 28.6%,#06b5cf 29.1%,#4ecc81 29.4%,#b7c532 29.7%,#d3bf27 30.0%,#9dc943 30.3%,#02bbc3 30.7%,#3677fe 31.3%,#249ee6 32.0%,#0eb3d4 32.1%,#46cb88 32.4%,#b2c635 32.7%,#d2bf27 33.0%,#a4c83e 33.3%,#08bcbe 33.8%,#3678fd 34.4%,#259ce7 35.0%,#18bfb6 35.3%,#aec637 35.7%,#d2bf27 36.0%,#aac73a 36.3%,#10beba 36.8%,#3479fd 37.4%,#2e87f7 37.9%,#11beba 38.3%,#aac73a 38.8%,#d2bf27 39.1%,#adc638 39.4%,#17bfb7 39.8%,#2d88f6 40.3%,#3579fd 40.7%,#0abdbd 41.3%,#a6c83d 41.8%,#d2bf27 42.1%,#b0c636 42.4%,#1dc0b3 42.9%,#10b2d5 43.0%,#3975fe 43.6%,#1babde 44.2%,#05bcc0 44.4%,#a1c840 44.8%,#d2bf27 45.1%,#b3c534 45.4%,#22c1b0 45.9%,#0cb3d2 46.0%,#3975ff 46.6%,#1ca9e0 47.2%,#02bac3 47.4%,#c2c22c 48.0%,#cec027 48.3%,#8acb52 48.6%,#26c2ad 48.9%,#07b5d0 49.1%,#3975fe 49.7%,#1ea7e1 50.3%,#00b9c6 50.4%,#c0c32c 51.0%,#cfc027 51.3%,#8ecb4e 51.6%,#03b6cd 52.1%,#307efb 52.5%,#2f80fa 53.0%,#01b8c9 53.5%,#bec32e 54.1%,#d0bf27 54.4%,#92ca4b 54.7%,#01b8ca 55.1%,#2f80fb 55.6%,#307ffb 56.0%,#02b7cc 56.5%,#bbc430 57.1%,#d1bf27 57.4%,#97ca48 57.7%,#00b9c7 58.1%,#2f81fa 58.6%,#307efb 59.1%,#06b5cf 59.5%,#4fcc81 59.8%,#b7c531 60.1%,#d2bf27 60.4%,#9bc944 60.7%,#01bac4 61.2%,#3777fe 61.8%,#23a0e5 62.4%,#0ab4d2 62.5%,#4acb84 62.8%,#b4c533 63.1%,#d2bf27 63.4%,#a0c941 63.7%,#03bbc1 64.2%,#3677fe 64.8%,#249ee6 65.4%,#0eb2d4 65.6%,#45cb89 65.9%,#b1c635 66.2%,#d2bf27 66.5%,#a4c83e 66.8%,#08bcbe 67.2%,#3578fd 67.8%,#2d89f6 68.3%,#19bfb5 68.7%,#afc637 69.2%,#d2bf27 69.5%,#a8c73b 69.8%,#0ebdbb 70.3%,#3479fd 70.9%,#2d87f6 71.3%,#13beb9 71.8%,#abc739 72.2%,#d2bf27 72.5%,#abc739 72.8%,#15bfb8 73.3%,#2d88f6 73.7%,#3579fd 74.2%,#0cbdbc 74.8%,#a6c83c 75.3%,#d3bf27 75.6%,#afc637 75.9%,#1bc0b4 76.3%,#259de7 76.6%,#3578fd 77.2%,#06bcbf 77.8%,#a2c83f 78.3%,#d3bf27 78.6%,#b3c534 78.9%,#20c1b1 79.3%,#0db3d3 79.5%,#3975ff 80.1%,#1ca9df 80.7%,#02bbc3 80.9%,#c3c22b 81.5%,#cec027 81.8%,#89cb52 82.1%,#25c2ad 82.4%,#08b5d0 82.5%,#3875fe 83.1%,#1ea7e1 83.7%,#00b9c6 83.9%,#c1c32c 84.5%,#cfc027 84.8%,#8ecb4f 85.1%,#03b6cd 85.6%,#307ffb 86.0%,#2f80fb 86.5%,#01b8ca 86.9%,#bdc32e 87.5%,#d0bf27 87.8%,#93ca4a 88.1%,#01b8c9 88.6%,#2f80fa 89.0%,#307ffb 89.5%,#03b6cd 89.9%,#b9c430 90.6%,#d2bf27 90.9%,#99c946 91.2%,#00b9c6 91.6%,#2f82fa 92.1%,#307efc 92.5%,#08b4d1 93.0%,#4ccb83 93.3%,#b6c533 93.6%,#d2bf27 93.9%,#9fc942 94.2%,#03bbc2 94.6%,#3677fe 95.2%,#249ee6 95.9%,#0eb2d4 96.0%,#45cb88 96.3%,#b2c635 96.6%,#d2bf27 96.9%,#a5c83d 97.2%,#08bcbe 97.7%,#3578fd 98.3%,#259ce7 98.9%,#17bfb6 99.2%,#adc637 99.6%,#d2bf27 99.9%)"></div><div style="left:189.93px;top:0;width:3.27px;height:165.1px;background:linear-gradient(#4fcc80 0.0%,#b6c532 0.3%,#e8bb2e 0.8%,#cbc128 1.1%,#14bfb8 1.7%,#337bfd 2.3%,#3678fe 2.9%,#0cbdbc 3.5%,#c7c129 4.1%,#dbbd28 4.5%,#9dc943 4.8%,#06bcc0 5.3%,#3776fe 5.9%,#3876fe 6.4%,#06bcc0 7.0%,#c5c22a 7.6%,#ddbd29 7.9%,#b3c534 8.2%,#22c1b0 8.6%,#0ab4d1 8.8%,#3d71ff 9.5%,#16afd9 10.1%,#10beba 10.3%,#a9c73b 10.8%,#d7be28 11.1%,#bfc32d 11.4%,#00b8c8 12.0%,#2f81fa 12.4%,#3479fd 12.9%,#15bfb7 13.5%,#acc738 13.9%,#d7be28 14.2%,#b4c533 14.5%,#21c1b0 15.0%,#0cb3d3 15.1%,#3a73ff 15.7%,#1fa6e2 16.4%,#00b8c8 16.5%,#bfc32d 17.1%,#d2bf27 17.4%,#98ca47 17.7%,#00b8c8 18.2%,#2f80fa 18.6%,#317dfc 19.1%,#07b5d0 19.5%,#4ecc81 19.8%,#b9c430 20.1%,#d3bf27 20.4%,#9ec942 20.7%,#02bac3 21.2%,#3777fe 21.8%,#2d8cf3 22.3%,#0bb4d2 22.6%,#4acb85 22.9%,#b6c532 23.2%,#d3bf27 23.5%,#9fc942 23.8%,#02bbc3 24.2%,#3777fe 24.8%,#23a0e5 25.4%,#09b4d1 25.6%,#4ccb83 25.9%,#b7c532 26.2%,#d3bf27 26.5%,#9cc944 26.8%,#01bac5 27.3%,#2f82fa 27.7%,#307efb 28.2%,#05b6ce 28.6%,#bac430 29.2%,#d2bf27 29.5%,#96ca49 29.8%,#01b8ca 30.3%,#2c90ef 30.6%,#3876fe 31.0%,#20a5e2 31.5%,#01b8c9 31.6%,#bfc32d 32.3%,#cfc027 32.6%,#8ecb4f 32.9%,#28c2ab 33.2%,#06b5cf 33.3%,#307efc 33.8%,#2f82f9 34.2%,#02bac3 34.7%,#c4c22b 35.3%,#cdc028 35.6%,#84cc57 35.9%,#1fc0b2 36.2%,#0fb2d4 36.3%,#3975ff 36.9%,#19addc 37.6%,#0bbdbd 37.7%,#a7c73b 38.2%,#d2bf27 38.5%,#adc638 38.8%,#12beb9 39.2%,#2e87f7 39.7%,#337afd 40.1%,#13b0d7 40.6%,#19bfb5 40.7%,#b0c636 41.2%,#d2bf27 41.5%,#a4c83e 41.8%,#05bcc0 42.2%,#3678fe 42.9%,#2d8cf3 43.3%,#09b4d1 43.6%,#4ccb83 43.9%,#b8c431 44.2%,#d1bf27 44.5%,#99c946 44.8%,#00b9c7 45.3%,#2f80fa 45.7%,#307ffb 46.2%,#20a4e3 46.5%,#01b7cb 46.6%,#bec32e 47.2%,#d0c027 47.5%,#8ecb4e 47.8%,#04b6ce 48.3%,#307efb 48.8%,#2f82fa 49.2%,#01bac4 49.7%,#9fc941 50.1%,#d2bf27 50.4%,#b3c534 50.7%,#1fc0b2 51.2%,#0fb2d4 51.3%,#3975fe 51.9%,#19addc 52.5%,#0bbdbc 52.7%,#a8c73b 53.1%,#d3bf27 53.5%,#abc739 53.8%,#11beb9 54.2%,#2e87f7 54.7%,#337afd 55.1%,#13b1d7 55.6%,#1abfb5 55.7%,#b0c636 56.2%,#d3bf27 56.5%,#a2c83f 56.8%,#04bbc1 57.2%,#3677fe 57.8%,#23a0e5 58.4%,#08b4d1 58.6%,#4ecc81 58.9%,#b8c531 59.2%,#d1bf27 59.5%,#98ca47 59.8%,#00b8c8 60.3%,#2f80fa 60.7%,#2f80fb 61.2%,#20a5e3 61.5%,#01b8ca 61.6%,#bec32d 62.2%,#cfc027 62.5%,#8ecb4f 62.8%,#28c2ab 63.1%,#06b5cf 63.3%,#307dfc 63.7%,#2e82f9 64.2%,#02bbc3 64.7%,#9fc941 65.1%,#d2bf27 65.4%,#b3c534 65.7%,#1dc0b3 66.2%,#10b2d5 66.3%,#3975fe 66.9%,#18addb 67.5%,#0dbdbc 67.7%,#a9c73a 68.1%,#d2bf27 68.4%,#abc739 68.7%,#10beba 69.2%,#2e86f7 69.7%,#337bfd 70.1%,#12b1d6 70.6%,#42ca8b 70.9%,#b2c635 71.2%,#d2bf27 71.5%,#a2c83f 71.8%,#03bbc2 72.2%,#3677fe 72.8%,#23a1e5 73.4%,#07b5d0 73.6%,#4ecc81 73.9%,#b9c430 74.2%,#d1bf27 74.5%,#98ca47 74.8%,#00b8c8 75.3%,#2f80fb 75.7%,#2f7ffb 76.2%,#01b8ca 76.6%,#bfc32d 77.2%,#d0c027 77.5%,#8dcb50 77.8%,#28c2ab 78.1%,#06b5cf 78.3%,#307efc 78.7%,#2f82f9 79.2%,#02bbc3 79.6%,#a0c841 80.1%,#d2bf27 80.4%,#b3c534 80.7%,#1ec0b3 81.2%,#10b2d5 81.3%,#3975ff 81.9%,#19addc 82.5%,#0cbdbc 82.7%,#a8c73b 83.1%,#d3bf27 83.4%,#abc739 83.7%,#11beba 84.2%,#2e86f7 84.6%,#337bfd 85.1%,#13b1d7 85.6%,#1abfb5 85.7%,#b0c636 86.2%,#d3bf27 86.5%,#a2c83f 86.8%,#04bcc1 87.2%,#3677fe 87.8%,#23a0e5 88.4%,#09b4d1 88.6%,#4dcc82 88.9%,#b7c532 89.2%,#d2bf27 89.5%,#9ac945 89.8%,#00b9c7 90.2%,#2f81fa 90.7%,#307ffb 91.2%,#20a4e3 91.5%,#02b7cb 91.6%,#bdc32e 92.2%,#d0c027 92.5%,#91ca4c 92.8%,#04b6cd 93.3%,#307efb 93.7%,#2f81fa 94.2%,#01bac5 94.6%,#c3c22b 95.2%,#cdc027 95.5%,#86cb55 95.9%,#22c1b0 96.2%,#0cb3d3 96.3%,#3975fe 96.9%,#1aacdd 97.5%,#07bcbf 97.7%,#a5c83d 98.1%,#d2bf27 98.4%,#b0c636 98.7%,#17bfb6 99.2%,#2d88f6 99.6%,#3975fe 99.9%)"></div></div></div>
<svg width="550" height="926" viewBox="0 0 550 926" font-family="Liberation Sans, Arial, sans-serif">
<defs><linearGradient id="par" x1="0" y1="1" x2="0" y2="0"><stop offset="0" stop-color="#3e26a8"/><stop offset=".03" stop-color="#422ebf"/><stop offset=".06" stop-color="#4537d5"/><stop offset=".09" stop-color="#4741e5"/><stop offset=".12" stop-color="#484cf0"/><stop offset=".16" stop-color="#4757f7"/><stop offset=".19" stop-color="#4562fc"/><stop offset=".22" stop-color="#3f6eff"/><stop offset=".25" stop-color="#337afd"/><stop offset=".28" stop-color="#2e86f8"/><stop offset=".31" stop-color="#2c90f0"/><stop offset=".34" stop-color="#269ae8"/><stop offset=".38" stop-color="#21a3e3"/><stop offset=".41" stop-color="#1aacdd"/><stop offset=".44" stop-color="#0bb3d2"/><stop offset=".47" stop-color="#00bac6"/><stop offset=".5" stop-color="#14beb8"/><stop offset=".53" stop-color="#29c3aa"/><stop offset=".56" stop-color="#35c79b"/><stop offset=".59" stop-color="#45cb89"/><stop offset=".62" stop-color="#5ecd74"/><stop offset=".66" stop-color="#79cc5e"/><stop offset=".69" stop-color="#96ca48"/><stop offset=".72" stop-color="#b2c635"/><stop offset=".75" stop-color="#cbc128"/><stop offset=".78" stop-color="#e1bc2a"/><stop offset=".81" stop-color="#f3ba39"/><stop offset=".84" stop-color="#fec03b"/><stop offset=".88" stop-color="#fdcb32"/><stop offset=".91" stop-color="#f9d82c"/><stop offset=".94" stop-color="#f5e526"/><stop offset=".97" stop-color="#f6f11f"/><stop offset="1" stop-color="#f9fb15"/></linearGradient>
<clipPath id="ce"><rect x="310.8" y="473.5" width="228.59999999999997" height="160.6"/></clipPath>
<clipPath id="cf"><rect x="37.3" y="716.0" width="177.4" height="156.4"/></clipPath>
<linearGradient id="bg1" x1="0" y1="0" x2="0" y2="1"><stop offset="0" stop-color="#484cef"/><stop offset=".06" stop-color="#2e83f9"/><stop offset=".18" stop-color="#1ea7e1"/><stop offset=".4" stop-color="#01b8ca"/><stop offset=".65" stop-color="#1ec0b2"/><stop offset=".85" stop-color="#3bc992"/><stop offset=".94" stop-color="#84cc56"/><stop offset="1" stop-color="#eaba30"/></linearGradient>
<linearGradient id="bg0" x1="0" y1="0" x2="0" y2="1"><stop offset="0" stop-color="#259ce7"/><stop offset=".2" stop-color="#04b6ce"/><stop offset=".7" stop-color="#12beb9"/><stop offset="1" stop-color="#39c895"/></linearGradient>
<linearGradient id="bg2" x1="0" y1="0" x2="0" y2="1"><stop offset="0" stop-color="#4367fd"/><stop offset=".04" stop-color="#2994ed"/><stop offset=".12" stop-color="#13b0d7"/><stop offset=".3" stop-color="#03bbc2"/><stop offset=".5" stop-color="#0bb4d2"/><stop offset=".62" stop-color="#1caadf"/><stop offset=".72" stop-color="#01b8ca"/><stop offset=".85" stop-color="#30c5a2"/><stop offset=".95" stop-color="#71cd64"/><stop offset="1" stop-color="#dabd28"/></linearGradient>
<radialGradient id="tr" cx="1" cy="0" r=".64" gradientTransform="translate(1 0) scale(1 .3) translate(-1 0)"><stop offset="0" stop-color="#412dbb"/><stop offset=".13" stop-color="#463adc"/><stop offset=".3" stop-color="#4367fd"/><stop offset=".6" stop-color="#259ce7" stop-opacity=".8"/><stop offset="1" stop-color="#04b6ce" stop-opacity="0"/></radialGradient>
<linearGradient id="tb" x1="0" y1="0" x2="0" y2="1"><stop offset="0" stop-color="#2d8cf3" stop-opacity=".9"/><stop offset="1" stop-color="#1caadf" stop-opacity="0"/></linearGradient>
<linearGradient id="hi" gradientUnits="userSpaceOnUse" x1="38" y1="0" x2="120" y2="0"><stop offset="0" stop-color="#259ce7" stop-opacity=".85"/><stop offset=".55" stop-color="#1ea7e1" stop-opacity=".8"/><stop offset="1" stop-color="#04b6ce" stop-opacity="0"/></linearGradient>
<radialGradient id="hb" gradientUnits="userSpaceOnUse" cx="84" cy="812.4" r="56" gradientTransform="translate(84 812.4) scale(1 .085) translate(-84 -812.4)"><stop offset="0" stop-color="#412dbb"/><stop offset=".25" stop-color="#4855f6"/><stop offset=".55" stop-color="#2d8cf3" stop-opacity=".8"/><stop offset="1" stop-color="#13b0d7" stop-opacity="0"/></radialGradient>
<clipPath id="cg"><rect x="316.4" y="707.2" width="228.10000000000002" height="159.6"/></clipPath></defs>
<rect x="168.9" y="8.31" width="192.9" height="1.9" fill="#0a0a0a"/>
<rect x="168.9" y="46.74" width="192.9" height="1.9" fill="#0a0a0a"/>
<text x="164.9" y="11.61" font-size="8.6" text-anchor="end" font-weight="bold" fill="#111">3</text>
<text x="164.9" y="50.59" font-size="8.6" text-anchor="end" font-weight="bold" fill="#111">54</text>
<text x="164.9" y="85.75" font-size="8.6" text-anchor="end" font-weight="bold" fill="#111">100</text>
<text x="164.9" y="123.97" font-size="8.6" text-anchor="end" font-weight="bold" fill="#111">150</text>
<text x="164.9" y="162.19" font-size="8.6" text-anchor="end" font-weight="bold" fill="#111">200</text>
<text x="197.09" y="184.2" font-size="8.6" text-anchor="middle" font-weight="bold" fill="#111">10</text>
<text x="226.77" y="184.2" font-size="8.6" text-anchor="middle" font-weight="bold" fill="#111">20</text>
<text x="256.45" y="184.2" font-size="8.6" text-anchor="middle" font-weight="bold" fill="#111">30</text>
<text x="286.12" y="184.2" font-size="8.6" text-anchor="middle" font-weight="bold" fill="#111">40</text>
<text x="315.8" y="184.2" font-size="8.6" text-anchor="middle" font-weight="bold" fill="#111">50</text>
<text x="345.48" y="184.2" font-size="8.6" text-anchor="middle" font-weight="bold" fill="#111">60</text>
<text x="264.6" y="196.6" font-size="9.5" text-anchor="middle" font-weight="bold" fill="#111">Mode number</text>
<text x="146.5" y="89.5" font-size="9.5" text-anchor="middle" font-weight="bold" transform="rotate(-90 146.5 89.5)" fill="#111">Depth(m)</text>
<rect x="366.2" y="6" width="10.6" height="166" fill="url(#par)" stroke="#888" stroke-width=".5"/>
<text x="379.8" y="9.1" font-size="8.6" text-anchor="start" font-weight="bold" fill="#111">0.20</text>
<path d="M376.8 6h-2" stroke="#555" stroke-width=".7"/>
<text x="379.8" y="50.6" font-size="8.6" text-anchor="start" font-weight="bold" fill="#111">0.10</text>
<path d="M376.8 47.5h-2" stroke="#555" stroke-width=".7"/>
<text x="379.8" y="92.1" font-size="8.6" text-anchor="start" font-weight="bold" fill="#111">0</text>
<path d="M376.8 89h-2" stroke="#555" stroke-width=".7"/>
<text x="379.8" y="133.6" font-size="8.6" text-anchor="start" font-weight="bold" fill="#111">-0.10</text>
<path d="M376.8 130.5h-2" stroke="#555" stroke-width=".7"/>
<text x="379.8" y="175.1" font-size="8.6" text-anchor="start" font-weight="bold" fill="#111">-0.20</text>
<path d="M376.8 172h-2" stroke="#555" stroke-width=".7"/>
<path d="M112.5 405.5v-.55h2.86V405.5zM116.07 405.5v-.82h2.86V405.5zM119.64 405.5v-1.1h2.86V405.5zM123.21 405.5v-.82h2.86V405.5zM126.78 405.5v-1.37h2.86V405.5zM130.35 405.5v-1.79h2.86V405.5zM133.92 405.5v-2.2h2.86V405.5zM137.49 405.5v-2.75h2.86V405.5zM141.07 405.5v-2.2h2.86V405.5zM144.64 405.5v-1.65h2.86V405.5zM148.21 405.5v-1.37h2.86V405.5zM151.78 405.5v-1.65h2.86V405.5zM155.35 405.5v-2.47h2.86V405.5zM158.92 405.5v-4.12h2.86V405.5zM162.49 405.5v-6.87h2.86V405.5zM166.06 405.5v-8.66h2.86V405.5zM169.63 405.5v-9.34h2.86V405.5zM173.2 405.5v-13.19h2.86V405.5zM176.77 405.5v-37.79h2.86V405.5zM180.34 405.5v-82.45h2.86V405.5zM183.91 405.5v-131.92h2.86V405.5zM187.49 405.5v-137.42h2.86V405.5zM191.06 405.5v-83.82h2.86V405.5zM194.63 405.5v-63.21h2.86V405.5zM198.2 405.5v-102.38h2.86V405.5zM201.77 405.5v-100.73h2.86V405.5zM205.34 405.5v-87.53h2.86V405.5zM208.91 405.5v-90.7h2.86V405.5zM212.48 405.5v-89.32h2.86V405.5zM216.05 405.5v-86.02h2.86V405.5zM219.62 405.5v-87.53h2.86V405.5zM223.19 405.5v-85.2h2.86V405.5zM226.76 405.5v-85.2h2.86V405.5zM230.33 405.5v-83.82h2.86V405.5zM233.91 405.5v-80.8h2.86V405.5zM237.48 405.5v-75.03h2.86V405.5zM241.05 405.5v-68.3h2.86V405.5zM244.62 405.5v-61.43h2.86V405.5zM248.19 405.5v-55.65h2.86V405.5zM251.76 405.5v-50.02h2.86V405.5zM255.33 405.5v-34.08h2.86V405.5zM258.9 405.5v-15.94h2.86V405.5zM262.47 405.5v-6.87h1.43V405.5z" fill="#1c6fb8" stroke="#173d5c" stroke-width=".7"/>
<rect x="31.8" y="240.6" width="232.1" height="164.9" fill="none" stroke="#9a9a9a" stroke-width="1"/>
<path d="M67.51 405.5v-2M67.51 240.6v2M103.22 405.5v-2M103.22 240.6v2M138.92 405.5v-2M138.92 240.6v2M174.63 405.5v-2M174.63 240.6v2M210.34 405.5v-2M210.34 240.6v2M246.05 405.5v-2M246.05 240.6v2M31.8 378.02h2M263.9 378.02h-2M31.8 350.53h2M263.9 350.53h-2M31.8 323.05h2M263.9 323.05h-2M31.8 295.57h2M263.9 295.57h-2M31.8 268.08h2M263.9 268.08h-2" stroke="#777" stroke-width=".7" fill="none"/>
<text x="31.8" y="418.2" font-size="8.6" text-anchor="middle" stroke="#111" stroke-width=".22" fill="#111">0</text>
<text x="67.51" y="418.2" font-size="8.6" text-anchor="middle" stroke="#111" stroke-width=".22" fill="#111">10</text>
<text x="103.22" y="418.2" font-size="8.6" text-anchor="middle" stroke="#111" stroke-width=".22" fill="#111">20</text>
<text x="138.92" y="418.2" font-size="8.6" text-anchor="middle" stroke="#111" stroke-width=".22" fill="#111">30</text>
<text x="174.63" y="418.2" font-size="8.6" text-anchor="middle" stroke="#111" stroke-width=".22" fill="#111">40</text>
<text x="210.34" y="418.2" font-size="8.6" text-anchor="middle" stroke="#111" stroke-width=".22" fill="#111">50</text>
<text x="246.05" y="418.2" font-size="8.6" text-anchor="middle" stroke="#111" stroke-width=".22" fill="#111">60</text>
<text x="28.8" y="408.6" font-size="8.6" text-anchor="end" stroke="#111" stroke-width=".22" fill="#111">0</text>
<text x="28.8" y="381.12" font-size="8.6" text-anchor="end" stroke="#111" stroke-width=".22" fill="#111">0.2</text>
<text x="28.8" y="353.63" font-size="8.6" text-anchor="end" stroke="#111" stroke-width=".22" fill="#111">0.4</text>
<text x="28.8" y="326.15" font-size="8.6" text-anchor="end" stroke="#111" stroke-width=".22" fill="#111">0.6</text>
<text x="28.8" y="298.67" font-size="8.6" text-anchor="end" stroke="#111" stroke-width=".22" fill="#111">0.8</text>
<text x="28.8" y="271.18" font-size="8.6" text-anchor="end" stroke="#111" stroke-width=".22" fill="#111">1.0</text>
<text x="147.85" y="429.5" font-size="9.2" text-anchor="middle" stroke="#111" stroke-width=".22" fill="#111">Mode number</text>
<text x="13.6" y="323.05" font-size="9.2" text-anchor="middle" stroke="#111" stroke-width=".22" transform="rotate(-90 13.6 323.05)" fill="#111">Normalized amplitude</text>
<path d="M38.2 262.4H166.3" stroke="#555" stroke-width=".7"/>
<path d="M35.2 262.4l6.5 -2.4l-1.9 2.4l1.9 2.4zM169.3 262.4l-6.5 -2.4l1.9 2.4l-1.9 2.4z" fill="#111"/>
<text x="103" y="258" font-size="8.6" text-anchor="middle" font-weight="bold" fill="#111">TMs</text>
<path d="M174.1 262.4H258.2" stroke="#555" stroke-width=".7"/>
<path d="M171.1 262.4l6.5 -2.4l-1.9 2.4l1.9 2.4zM261.2 262.4l-6.5 -2.4l1.9 2.4l-1.9 2.4z" fill="#111"/>
<text x="218.5" y="258" font-size="8.6" text-anchor="middle" font-weight="bold" fill="#111">NTMs</text>
<path d="M300.84 405.5v-.84h2.85V405.5zM304.41 405.5v-.7h2.85V405.5zM307.97 405.5v-.84h2.85V405.5zM311.54 405.5v-2.1h2.85V405.5zM315.1 405.5v-8.41h2.85V405.5zM318.67 405.5v-25.93h2.85V405.5zM322.24 405.5v-40.65h2.85V405.5zM325.8 405.5v-74.29h2.85V405.5zM329.37 405.5v-121.94h2.85V405.5zM332.94 405.5v-140.17h2.85V405.5zM336.5 405.5v-111.43h2.85V405.5zM340.07 405.5v-35.74h2.85V405.5zM343.63 405.5v-47.66h2.85V405.5zM347.2 405.5v-98.12h2.85V405.5zM350.77 405.5v-119.14h2.85V405.5zM354.33 405.5v-74.29h2.85V405.5zM357.9 405.5v-8.41h2.85V405.5zM361.46 405.5v-84.8h2.85V405.5zM365.03 405.5v-105.83h2.85V405.5zM368.6 405.5v-60.97h2.85V405.5zM372.16 405.5v-21.73h2.85V405.5zM375.73 405.5v-87.6h2.85V405.5zM379.3 405.5v-97.42h2.85V405.5zM382.86 405.5v-49.76h2.85V405.5zM386.43 405.5v-29.43h2.85V405.5zM389.99 405.5v-83.4h2.85V405.5zM393.56 405.5v-88.3h2.85V405.5zM397.13 405.5v-58.87h2.85V405.5zM400.69 405.5v-14.72h2.85V405.5zM404.26 405.5v-46.96h2.85V405.5zM407.82 405.5v-91.11h2.85V405.5zM411.39 405.5v-103.02h2.85V405.5zM414.96 405.5v-68.68h2.85V405.5zM418.52 405.5v-18.22h2.85V405.5zM422.09 405.5v-73.59h2.85V405.5zM425.66 405.5v-99.52h2.85V405.5zM429.22 405.5v-62.37h2.85V405.5zM432.79 405.5v-11.21h2.85V405.5zM436.35 405.5v-79.19h2.85V405.5zM439.92 405.5v-93.91h2.85V405.5zM443.49 405.5v-41.35h2.85V405.5zM447.05 405.5v-44.85h2.85V405.5zM450.62 405.5v-58.87h2.85V405.5zM454.18 405.5v-46.26h2.85V405.5zM457.75 405.5v-75.69h2.85V405.5zM461.32 405.5v-25.23h2.85V405.5zM464.88 405.5v-105.83h2.85V405.5zM468.45 405.5v-86.9h2.85V405.5zM472.02 405.5v-3.5h2.85V405.5zM475.58 405.5v-52.56h2.85V405.5zM479.15 405.5v-93.21h2.85V405.5zM482.71 405.5v-61.67h2.85V405.5zM486.28 405.5v-9.11h2.85V405.5zM489.85 405.5v-66.58h2.85V405.5zM493.41 405.5v-79.89h2.85V405.5zM496.98 405.5v-36.44h2.85V405.5zM500.54 405.5v-30.14h2.85V405.5zM504.11 405.5v-75.69h2.85V405.5zM507.68 405.5v-67.98h2.85V405.5zM511.24 405.5v-14.72h2.85V405.5zM514.81 405.5v-41.35h2.85V405.5zM518.38 405.5v-60.97h2.85V405.5zM521.94 405.5v-40.65h2.85V405.5zM525.51 405.5v-8.41h2.85V405.5zM529.07 405.5v-5.61h1.43V405.5z" fill="#1c6fb8" stroke="#173d5c" stroke-width=".7"/>
<rect x="298.7" y="237.3" width="231.8" height="168.2" fill="none" stroke="#9a9a9a" stroke-width="1"/>
<path d="M334.36 405.5v-2M334.36 237.3v2M370.02 405.5v-2M370.02 237.3v2M405.68 405.5v-2M405.68 237.3v2M441.35 405.5v-2M441.35 237.3v2M477.01 405.5v-2M477.01 237.3v2M512.67 405.5v-2M512.67 237.3v2M298.7 377.47h2M530.5 377.47h-2M298.7 349.43h2M530.5 349.43h-2M298.7 321.4h2M530.5 321.4h-2M298.7 293.37h2M530.5 293.37h-2M298.7 265.33h2M530.5 265.33h-2" stroke="#777" stroke-width=".7" fill="none"/>
<text x="298.7" y="418.4" font-size="8.6" text-anchor="middle" font-weight="bold" fill="#111">0</text>
<text x="334.36" y="418.4" font-size="8.6" text-anchor="middle" font-weight="bold" fill="#111">10</text>
<text x="370.02" y="418.4" font-size="8.6" text-anchor="middle" font-weight="bold" fill="#111">20</text>
<text x="405.68" y="418.4" font-size="8.6" text-anchor="middle" font-weight="bold" fill="#111">30</text>
<text x="441.35" y="418.4" font-size="8.6" text-anchor="middle" font-weight="bold" fill="#111">40</text>
<text x="477.01" y="418.4" font-size="8.6" text-anchor="middle" font-weight="bold" fill="#111">50</text>
<text x="512.67" y="418.4" font-size="8.6" text-anchor="middle" font-weight="bold" fill="#111">60</text>
<text x="295.6" y="408.6" font-size="8.6" text-anchor="end" font-weight="bold" fill="#111">0</text>
<text x="295.6" y="380.57" font-size="8.6" text-anchor="end" font-weight="bold" fill="#111">0.2</text>
<text x="295.6" y="352.53" font-size="8.6" text-anchor="end" font-weight="bold" fill="#111">0.4</text>
<text x="295.6" y="324.5" font-size="8.6" text-anchor="end" font-weight="bold" fill="#111">0.6</text>
<text x="295.6" y="296.47" font-size="8.6" text-anchor="end" font-weight="bold" fill="#111">0.8</text>
<text x="295.6" y="268.43" font-size="8.6" text-anchor="end" font-weight="bold" fill="#111">1.0</text>
<text x="414.4" y="429.9" font-size="9.5" text-anchor="middle" font-weight="bold" fill="#111">Mode number</text>
<text x="279.4" y="321.4" font-size="9.5" text-anchor="middle" font-weight="bold" transform="rotate(-90 279.4 321.4)" fill="#111">Normalized amplitude</text>
<path d="M305 262.4H433.4" stroke="#555" stroke-width=".7"/>
<path d="M302 262.4l6.5 -2.4l-1.9 2.4l1.9 2.4zM436.4 262.4l-6.5 -2.4l1.9 2.4l-1.9 2.4z" fill="#111"/>
<text x="370.3" y="258" font-size="8.6" text-anchor="middle" font-weight="bold" fill="#111">TMs</text>
<path d="M441.2 262.4H524.8" stroke="#555" stroke-width=".7"/>
<path d="M438.2 262.4l6.5 -2.4l-1.9 2.4l1.9 2.4zM527.8 262.4l-6.5 -2.4l1.9 2.4l-1.9 2.4z" fill="#111"/>
<text x="483.9" y="258" font-size="8.6" text-anchor="middle" font-weight="bold" fill="#111">NTMs</text>
<rect x="32.1" y="480.6" width="182.7" height="158.9" fill="#12beb9"/>
<path d="M209.1 482.4h2M209.1 483.2h2M209.1 483.9h2M209.1 486.9h2M209.1 487.6h2M83.1 488.3h29M207.1 488.3h2M209.1 490.5h2M209.1 491.3h2M209.1 493.5h2M209.1 494.2h2M209.1 494.9h2M77.1 495.7h15M209.1 497.2h2M209.1 497.9h2M209.1 498.6h2M175.1 499.4h17M204.1 499.4h5M209.1 501.6h2M209.1 502.3h2M129.1 503.0h10M209.1 504.5h2M209.1 505.2h2M209.1 506.0h2M94.1 506.7h8M209.1 508.2h2M209.1 508.9h2M209.1 509.7h2M154.1 510.4h8M209.1 511.9h2M209.1 512.6h2M209.1 513.3h2M155.1 514.1h7M34.1 514.8h6M209.1 515.5h2M209.1 516.3h2M189.1 517.0h10M205.1 517.0h4M100.1 517.8h6M38.1 518.5h6M209.1 519.2h2M209.1 520.0h2M209.1 520.7h2M118.1 521.4h6M34.1 522.2h5M209.1 522.9h2M209.1 523.6h2M209.1 524.4h2M148.1 525.1h5M43.1 525.8h5M209.1 526.6h2M209.1 527.3h2M160.1 528.0h4M107.1 528.8h5M51.1 529.5h5M209.1 530.3h2M209.1 531.0h2M179.1 531.7h5M90.1 532.5h4M39.1 533.2h4M209.1 533.2h2M209.1 533.9h2M209.1 534.7h2M189.1 535.4h6M208.1 535.4h1M123.1 536.1h4M36.1 536.9h4M209.1 536.9h2M209.1 537.6h2M209.1 538.3h2M146.1 539.1h4M109.1 539.8h3M49.1 540.6h4M209.1 540.6h2M209.1 541.3h2M204.1 542.0h5M138.1 542.8h3M74.1 543.5h4M209.1 543.5h2M42.1 544.2h3M209.1 544.2h2M209.1 545.0h2M198.1 545.7h11M158.1 546.4h3M92.1 547.2h3M209.1 547.9h2M209.1 548.6h2M185.1 549.4h4M136.1 550.1h3M101.1 550.9h3M37.1 551.6h3M209.1 551.6h2M209.1 552.3h2M169.1 553.1h4M112.1 553.8h3M68.1 554.5h3M209.1 554.5h2M40.1 555.3h2M209.1 555.3h2M209.1 556.0h2M164.1 556.7h3M124.1 557.5h3M65.1 558.2h2M209.1 558.2h2M209.1 558.9h2M207.1 559.7h2M160.1 560.4h3M122.1 561.2h2M83.1 561.9h3M209.1 561.9h2M209.1 562.6h2M181.1 563.4h3M146.1 564.1h2M97.1 564.8h3M209.1 564.8h2M65.1 565.6h2M209.1 565.6h2M32.1 566.3h2M209.1 566.3h2M174.1 567.0h3M133.1 567.8h3M95.1 568.5h3M209.1 568.5h2M47.1 569.2h2M209.1 569.2h2M207.1 570.0h2M180.1 570.7h2M135.1 571.5h2M101.1 572.2h3M209.1 572.2h2M61.1 572.9h2M209.1 572.9h2M190.1 573.7h3M160.1 574.4h2M128.1 575.1h2M87.1 575.9h2M209.1 575.9h2M58.1 576.6h2M209.1 576.6h2M192.1 577.3h3M142.1 578.1h3M110.1 578.8h2M209.1 578.8h2M75.1 579.5h2M209.1 579.5h2M37.1 580.3h2M204.1 580.3h5M183.1 581.0h3M151.1 581.8h2M108.1 582.5h2M209.1 582.5h2M79.1 583.2h2M209.1 583.2h2M40.1 584.0h2M201.1 584.0h8M163.1 584.7h2M143.1 585.4h2M111.1 586.2h2M209.1 586.2h2M74.1 586.9h2M209.1 586.9h2M46.1 587.6h2M202.1 587.6h7M160.1 588.4h2M119.1 589.1h2M209.1 589.1h2M95.1 589.8h2M209.1 589.8h2M62.1 590.6h2M209.1 590.6h2M182.1 591.3h2M160.1 592.1h2M122.1 592.8h2M209.1 592.8h2M84.1 593.5h2M209.1 593.5h2M59.1 594.3h1M204.1 594.3h5M170.1 595.0h3M144.1 595.7h1M126.1 596.5h2M209.1 596.5h2M92.1 597.2h2M209.1 597.2h2M58.1 597.9h2M200.1 597.9h4M208.1 597.9h1M173.1 598.7h2M134.1 599.4h2M209.1 599.4h2M105.1 600.1h1M209.1 600.1h2M85.1 600.9h1M209.1 600.9h2M52.1 601.6h1M189.1 601.6h2M161.1 602.3h2M136.1 603.1h1M209.1 603.1h2M96.1 603.8h2M209.1 603.8h2M66.1 604.6h2M199.1 604.6h4M208.1 604.6h1M44.1 605.3h2M178.1 605.3h2M148.1 606.0h1M127.1 606.8h1M209.1 606.8h2M106.1 607.5h1M209.1 607.5h2M70.1 608.2h1M199.1 608.2h3M208.1 608.2h1M42.1 609.0h1M172.1 609.0h1M147.1 609.7h1M209.1 609.7h2M114.1 610.4h2M209.1 610.4h2M94.1 611.2h2M209.1 611.2h2M74.1 611.9h1M199.1 611.9h3M208.1 611.9h1M40.1 612.6h2M167.1 612.6h1M141.1 613.4h2M209.1 613.4h2M113.1 614.1h1M209.1 614.1h2M77.1 614.9h1M199.1 614.9h3M208.1 614.9h1M55.1 615.6h2M178.1 615.6h2M34.1 616.3h2M157.1 616.3h2M129.1 617.1h2M209.1 617.1h2M110.1 617.8h1M209.1 617.8h2M83.1 618.5h2M202.1 618.5h7M49.1 619.3h2M169.1 619.3h1M148.1 620.0h1M209.1 620.0h2M125.1 620.7h2M209.1 620.7h2M99.1 621.5h1M209.1 621.5h2M83.1 622.2h2M199.1 622.2h3M59.1 622.9h2M176.1 622.9h1M144.1 623.7h1M209.1 623.7h2M121.1 624.4h2M209.1 624.4h2M93.1 625.2h2M206.1 625.2h3M65.1 625.9h1M178.1 625.9h2M49.1 626.6h1M163.1 626.6h1M140.1 627.4h1M209.1 627.4h2M112.1 628.1h2M209.1 628.1h2M92.1 628.8h1M202.1 628.8h7M63.1 629.6h1M173.1 629.6h2M34.1 630.3h1M145.1 630.3h2M209.1 630.3h2M129.1 631.0h2M209.1 631.0h2M107.1 631.8h2M209.1 631.8h2M85.1 632.5h1M193.1 632.5h2M69.1 633.2h2M177.1 633.2h2M42.1 634.0h1M150.1 634.0h2M209.1 634.0h2M122.1 634.7h2M209.1 634.7h2M104.1 635.5h1M79.1 636.2h1M184.1 636.2h2M57.1 636.9h1M163.1 636.9h1M42.1 637.7h1M148.1 637.7h2M209.1 637.7h2M122.1 638.4h1M209.1 638.4h2M96.1 639.1h1M199.1 639.1h2" stroke="#3e26a8" stroke-width=".82" fill="none"/>
<path d="M208.1 484.6h1M112.1 488.3h12M206.1 488.3h1M32.1 492.0h5M92.1 495.7h6M192.1 499.4h12M139.1 503.0h4M208.1 503.0h1M102.1 506.7h3M162.1 510.4h3M208.1 510.4h1M162.1 514.1h3M208.1 514.1h1M40.1 514.8h2M199.1 517.0h6M106.1 517.8h2M44.1 518.5h2M124.1 521.4h2M39.1 522.2h2M153.1 525.1h2M48.1 525.8h1M164.1 528.0h2M112.1 528.8h1M56.1 529.5h1M184.1 531.7h3M208.1 531.7h1M94.1 532.5h2M43.1 533.2h2M195.1 535.4h4M206.1 535.4h2M127.1 536.1h1M40.1 536.9h1M150.1 539.1h2M112.1 539.8h2M53.1 540.6h1M141.1 542.8h2M78.1 543.5h1M45.1 544.2h1M161.1 546.4h2M95.1 547.2h1M189.1 549.4h1M208.1 549.4h1M139.1 550.1h2M104.1 550.9h1M40.1 551.6h1M173.1 553.1h1M115.1 553.8h1M71.1 554.5h1M42.1 555.3h2M167.1 556.7h1M127.1 557.5h1M67.1 558.2h2M163.1 560.4h2M124.1 561.2h1M86.1 561.9h1M184.1 563.4h2M148.1 564.1h1M100.1 564.8h1M67.1 565.6h1M34.1 566.3h1M177.1 567.0h1M136.1 567.8h1M98.1 568.5h1M49.1 569.2h1M182.1 570.7h2M137.1 571.5h1M63.1 572.9h1M193.1 573.7h1M208.1 573.7h1M162.1 574.4h1M130.1 575.1h1M89.1 575.9h1M60.1 576.6h1M195.1 577.3h2M208.1 577.3h1M112.1 578.8h1M77.1 579.5h1M39.1 580.3h1M186.1 581.0h1M153.1 581.8h1M110.1 582.5h1M165.1 584.7h1M145.1 585.4h1M113.1 586.2h1M76.1 586.9h1M48.1 587.6h1M162.1 588.4h1M121.1 589.1h1M97.1 589.8h1M64.1 590.6h1M32.1 591.3h1M184.1 591.3h1M162.1 592.1h1M86.1 593.5h1M60.1 594.3h1M145.1 595.7h1M60.1 597.9h1M204.1 597.9h4M32.1 598.7h1M175.1 598.7h1M106.1 600.1h1M86.1 600.9h1M53.1 601.6h1M191.1 601.6h1M163.1 602.3h1M137.1 603.1h1M203.1 604.6h5M149.1 606.0h1M128.1 606.8h1M107.1 607.5h1M71.1 608.2h1M202.1 608.2h3M207.1 608.2h1M43.1 609.0h1M173.1 609.0h1M148.1 609.7h1M75.1 611.9h1M202.1 611.9h3M206.1 611.9h2M168.1 612.6h1M114.1 614.1h1M78.1 614.9h1M202.1 614.9h2M207.1 614.9h1M180.1 615.6h1M159.1 616.3h1M111.1 617.8h1M85.1 618.5h1M170.1 619.3h1M149.1 620.0h1M100.1 621.5h1M202.1 622.2h2M207.1 622.2h2M177.1 622.9h1M145.1 623.7h1M66.1 625.9h1M180.1 625.9h1M50.1 626.6h1M164.1 626.6h1M141.1 627.4h1M93.1 628.8h1M64.1 629.6h1M175.1 629.6h1M86.1 632.5h1M195.1 632.5h1M179.1 633.2h1M105.1 635.5h1M58.1 636.9h1M164.1 636.9h1M43.1 637.7h1M123.1 638.4h1M97.1 639.1h1M201.1 639.1h1M208.1 639.1h1" stroke="#484ff2" stroke-width=".82" fill="none"/>
<path d="M211.1 482.4h4M211.1 483.2h4M207.1 484.6h1M211.1 486.9h4M124.1 488.3h22M201.1 488.3h5M211.1 490.5h4M37.1 492.0h13M208.1 492.0h1M211.1 494.2h4M98.1 495.7h10M208.1 495.7h1M211.1 497.9h4M211.1 501.6h4M143.1 503.0h7M207.1 503.0h1M211.1 505.2h4M105.1 506.7h6M211.1 508.2h4M211.1 508.9h4M165.1 510.4h6M207.1 510.4h1M165.1 514.1h5M207.1 514.1h1M42.1 514.8h5M211.1 515.5h4M211.1 516.3h2M108.1 517.8h4M46.1 518.5h4M211.1 519.2h4M126.1 521.4h3M41.1 522.2h3M211.1 522.9h4M155.1 525.1h4M49.1 525.8h4M211.1 526.6h4M166.1 528.0h4M208.1 528.0h1M113.1 528.8h3M57.1 529.5h3M211.1 530.3h4M187.1 531.7h4M206.1 531.7h2M96.1 532.5h3M45.1 533.2h3M213.1 533.2h2M211.1 533.9h4M199.1 535.4h7M128.1 536.1h3M41.1 536.9h3M211.1 536.9h4M152.1 539.1h2M114.1 539.8h2M54.1 540.6h2M211.1 540.6h4M143.1 542.8h2M79.1 543.5h2M46.1 544.2h3M211.1 544.2h4M163.1 546.4h2M96.1 547.2h2M32.1 547.9h2M211.1 547.9h4M190.1 549.4h4M207.1 549.4h1M141.1 550.1h2M105.1 550.9h2M41.1 551.6h2M211.1 551.6h4M174.1 553.1h3M116.1 553.8h2M72.1 554.5h2M211.1 554.5h4M44.1 555.3h2M211.1 555.3h2M168.1 556.7h3M128.1 557.5h2M69.1 558.2h1M211.1 558.2h4M165.1 560.4h2M125.1 561.2h2M87.1 561.9h1M211.1 561.9h4M186.1 563.4h2M208.1 563.4h1M149.1 564.1h2M101.1 564.8h2M211.1 564.8h4M68.1 565.6h2M211.1 565.6h4M35.1 566.3h1M178.1 567.0h2M137.1 567.8h2M99.1 568.5h1M211.1 568.5h4M50.1 569.2h2M184.1 570.7h2M138.1 571.5h2M104.1 572.2h2M211.1 572.2h4M64.1 572.9h1M194.1 573.7h3M207.1 573.7h1M163.1 574.4h2M131.1 575.1h2M90.1 575.9h1M211.1 575.9h4M61.1 576.6h2M197.1 577.3h3M206.1 577.3h2M145.1 578.1h2M113.1 578.8h2M211.1 578.8h4M78.1 579.5h1M40.1 580.3h1M187.1 581.0h2M154.1 581.8h1M111.1 582.5h2M211.1 582.5h4M81.1 583.2h2M42.1 584.0h2M166.1 584.7h2M146.1 585.4h1M114.1 586.2h2M211.1 586.2h4M77.1 586.9h1M49.1 587.6h1M163.1 588.4h2M122.1 589.1h1M211.1 589.1h4M98.1 589.8h1M65.1 590.6h1M33.1 591.3h1M185.1 591.3h2M163.1 592.1h1M124.1 592.8h2M211.1 592.8h4M87.1 593.5h1M61.1 594.3h1M173.1 595.0h2M146.1 595.7h2M128.1 596.5h2M211.1 596.5h4M94.1 597.2h1M61.1 597.9h1M33.1 598.7h1M176.1 598.7h1M136.1 599.4h2M211.1 599.4h4M107.1 600.1h1M87.1 600.9h1M54.1 601.6h1M192.1 601.6h2M208.1 601.6h1M164.1 602.3h1M138.1 603.1h1M211.1 603.1h4M98.1 603.8h1M68.1 604.6h2M46.1 605.3h2M180.1 605.3h2M150.1 606.0h1M129.1 606.8h1M211.1 606.8h4M108.1 607.5h1M72.1 608.2h1M205.1 608.2h2M44.1 609.0h1M174.1 609.0h1M149.1 609.7h1M214.1 609.7h1M116.1 610.4h1M96.1 611.2h1M76.1 611.9h1M205.1 611.9h1M42.1 612.6h1M169.1 612.6h1M143.1 613.4h1M211.1 613.4h4M115.1 614.1h1M79.1 614.9h1M204.1 614.9h3M57.1 615.6h1M181.1 615.6h1M36.1 616.3h1M160.1 616.3h1M131.1 617.1h1M211.1 617.1h4M112.1 617.8h1M86.1 618.5h1M51.1 619.3h1M171.1 619.3h1M150.1 620.0h1M211.1 620.0h4M127.1 620.7h1M211.1 620.7h3M101.1 621.5h1M85.1 622.2h1M204.1 622.2h3M61.1 622.9h1M178.1 622.9h1M146.1 623.7h1M211.1 623.7h4M123.1 624.4h1M95.1 625.2h1M67.1 625.9h1M181.1 625.9h1M51.1 626.6h1M165.1 626.6h1M142.1 627.4h1M211.1 627.4h4M114.1 628.1h1M94.1 628.8h1M176.1 629.6h1M35.1 630.3h1M147.1 630.3h1M211.1 630.3h4M131.1 631.0h1M211.1 631.0h1M109.1 631.8h1M87.1 632.5h1M196.1 632.5h1M208.1 632.5h1M71.1 633.2h1M180.1 633.2h1M43.1 634.0h1M152.1 634.0h1M211.1 634.0h4M124.1 634.7h1M106.1 635.5h1M80.1 636.2h1M186.1 636.2h2M59.1 636.9h1M165.1 636.9h1M44.1 637.7h1M150.1 637.7h1M211.1 637.7h4M124.1 638.4h1M98.1 639.1h1M202.1 639.1h6" stroke="#3678fd" stroke-width=".82" fill="none"/>
<path d="M207.1 481.0h2M202.1 484.6h5M211.1 486.1h4M146.1 488.3h55M50.1 492.0h25M206.1 492.0h2M211.1 493.5h4M108.1 495.7h20M205.1 495.7h3M211.1 497.2h4M150.1 503.0h15M204.1 503.0h3M211.1 504.5h4M111.1 506.7h11M208.1 506.7h1M171.1 510.4h14M202.1 510.4h5M32.1 511.1h10M211.1 511.9h4M211.1 512.6h4M170.1 514.1h12M203.1 514.1h4M47.1 514.8h8M213.1 516.3h2M112.1 517.8h8M50.1 518.5h7M211.1 520.0h4M129.1 521.4h8M208.1 521.4h1M44.1 522.2h7M159.1 525.1h7M207.1 525.1h2M53.1 525.8h6M170.1 528.0h7M206.1 528.0h2M116.1 528.8h6M60.1 529.5h6M191.1 531.7h15M99.1 532.5h5M48.1 533.2h5M211.1 533.2h2M131.1 536.1h5M44.1 536.9h5M211.1 537.6h4M154.1 539.1h6M208.1 539.1h1M116.1 539.8h5M56.1 540.6h5M145.1 542.8h5M81.1 543.5h5M211.1 543.5h4M49.1 544.2h4M165.1 546.4h5M208.1 546.4h1M98.1 547.2h5M212.1 547.2h3M34.1 547.9h4M194.1 549.4h13M143.1 550.1h4M107.1 550.9h4M214.1 550.9h1M43.1 551.6h4M177.1 553.1h4M208.1 553.1h1M118.1 553.8h4M74.1 554.5h4M46.1 555.3h3M213.1 555.3h2M171.1 556.7h4M208.1 556.7h1M130.1 557.5h4M70.1 558.2h4M167.1 560.4h4M127.1 561.2h4M88.1 561.9h4M188.1 563.4h6M206.1 563.4h2M151.1 564.1h4M103.1 564.8h3M70.1 565.6h3M36.1 566.3h4M180.1 567.0h4M208.1 567.0h1M139.1 567.8h3M100.1 568.5h3M52.1 569.2h3M186.1 570.7h4M207.1 570.7h2M140.1 571.5h3M106.1 572.2h3M65.1 572.9h3M197.1 573.7h10M165.1 574.4h3M133.1 575.1h3M211.1 575.1h4M91.1 575.9h3M63.1 576.6h2M200.1 577.3h6M147.1 578.1h3M115.1 578.8h3M79.1 579.5h3M211.1 579.5h2M41.1 580.3h3M189.1 581.0h5M207.1 581.0h2M155.1 581.8h3M113.1 582.5h2M83.1 583.2h2M211.1 583.2h1M44.1 584.0h2M168.1 584.7h3M147.1 585.4h3M116.1 586.2h2M78.1 586.9h3M50.1 587.6h3M165.1 588.4h2M123.1 589.1h3M99.1 589.8h3M211.1 589.8h4M66.1 590.6h2M34.1 591.3h3M187.1 591.3h3M208.1 591.3h1M164.1 592.1h3M126.1 592.8h2M88.1 593.5h2M62.1 594.3h3M175.1 595.0h3M148.1 595.7h2M211.1 595.7h4M130.1 596.5h2M95.1 597.2h3M62.1 597.9h2M34.1 598.7h3M177.1 598.7h3M138.1 599.4h2M108.1 600.1h2M211.1 600.1h4M88.1 600.9h2M55.1 601.6h2M194.1 601.6h5M206.1 601.6h2M165.1 602.3h3M139.1 603.1h3M99.1 603.8h3M70.1 604.6h2M48.1 605.3h2M182.1 605.3h3M151.1 606.0h3M211.1 606.0h4M130.1 606.8h2M109.1 607.5h2M211.1 607.5h1M73.1 608.2h2M45.1 609.0h2M175.1 609.0h3M150.1 609.7h2M211.1 609.7h3M117.1 610.4h3M211.1 610.4h4M97.1 611.2h2M77.1 611.9h2M43.1 612.6h3M170.1 612.6h3M144.1 613.4h3M116.1 614.1h2M211.1 614.1h3M80.1 614.9h2M58.1 615.6h3M182.1 615.6h2M37.1 616.3h2M161.1 616.3h2M214.1 616.3h1M132.1 617.1h2M113.1 617.8h2M87.1 618.5h2M52.1 619.3h2M172.1 619.3h3M32.1 620.0h1M151.1 620.0h2M128.1 620.7h2M214.1 620.7h1M102.1 621.5h2M86.1 622.2h2M62.1 622.9h2M179.1 622.9h3M147.1 623.7h2M124.1 624.4h2M211.1 624.4h4M96.1 625.2h2M68.1 625.9h2M182.1 625.9h2M52.1 626.6h2M166.1 626.6h2M143.1 627.4h2M115.1 628.1h2M95.1 628.8h2M65.1 629.6h2M177.1 629.6h2M36.1 630.3h2M148.1 630.3h2M132.1 631.0h2M212.1 631.0h3M110.1 631.8h2M88.1 632.5h2M197.1 632.5h5M206.1 632.5h2M72.1 633.2h2M181.1 633.2h2M44.1 634.0h2M153.1 634.0h2M125.1 634.7h2M107.1 635.5h1M81.1 636.2h2M188.1 636.2h2M60.1 636.9h1M166.1 636.9h2M212.1 636.9h3M45.1 637.7h2M151.1 637.7h2M125.1 638.4h2M99.1 639.1h1" stroke="#2798ea" stroke-width=".82" fill="none"/>
<path d="M203.1 481.0h4M211.1 483.9h4M32.1 484.6h170M208.1 485.4h1M208.1 489.1h1M211.1 489.8h4M75.1 492.0h65M196.1 492.0h10M208.1 492.7h1M211.1 494.9h4M128.1 495.7h77M208.1 496.4h1M211.1 498.6h4M208.1 500.1h1M211.1 500.8h4M165.1 503.0h39M32.1 503.8h6M208.1 503.8h1M122.1 506.7h28M203.1 506.7h5M32.1 507.5h20M211.1 509.7h4M185.1 510.4h17M42.1 511.1h21M182.1 514.1h21M55.1 514.8h19M120.1 517.8h19M207.1 517.8h2M57.1 518.5h18M137.1 521.4h17M206.1 521.4h2M51.1 522.2h16M214.1 522.2h1M211.1 523.6h4M166.1 525.1h22M199.1 525.1h8M59.1 525.8h15M211.1 525.8h4M177.1 528.0h29M122.1 528.8h15M208.1 528.8h1M66.1 529.5h14M211.1 529.5h4M104.1 532.5h13M53.1 533.2h12M136.1 536.1h13M208.1 536.1h1M49.1 536.9h12M160.1 539.1h13M206.1 539.1h2M121.1 539.8h12M61.1 540.6h11M211.1 541.3h4M150.1 542.8h12M208.1 542.8h1M86.1 543.5h10M53.1 544.2h10M211.1 545.0h4M170.1 546.4h13M205.1 546.4h3M103.1 547.2h9M211.1 547.2h1M38.1 547.9h10M147.1 550.1h10M208.1 550.1h1M111.1 550.9h10M211.1 550.9h3M47.1 551.6h9M181.1 553.1h27M122.1 553.8h9M211.1 553.8h4M78.1 554.5h9M49.1 555.3h9M175.1 556.7h12M205.1 556.7h3M134.1 557.5h8M74.1 558.2h8M32.1 558.9h7M171.1 560.4h10M206.1 560.4h3M131.1 561.2h8M212.1 561.2h3M92.1 561.9h8M32.1 562.6h6M194.1 563.4h12M155.1 564.1h8M106.1 564.8h8M73.1 565.6h8M40.1 566.3h7M184.1 567.0h24M142.1 567.8h8M103.1 568.5h8M55.1 569.2h7M32.1 570.0h3M190.1 570.7h17M143.1 571.5h8M109.1 572.2h7M68.1 572.9h7M211.1 572.9h4M168.1 574.4h8M208.1 574.4h1M136.1 575.1h7M94.1 575.9h7M65.1 576.6h7M150.1 578.1h7M118.1 578.8h6M82.1 579.5h7M213.1 579.5h2M44.1 580.3h6M194.1 581.0h13M158.1 581.8h7M115.1 582.5h7M85.1 583.2h7M212.1 583.2h3M46.1 584.0h7M171.1 584.7h7M208.1 584.7h1M150.1 585.4h7M212.1 585.4h3M118.1 586.2h6M81.1 586.9h6M53.1 587.6h6M167.1 588.4h7M126.1 589.1h6M102.1 589.8h6M68.1 590.6h6M37.1 591.3h6M190.1 591.3h18M167.1 592.1h7M128.1 592.8h6M90.1 593.5h6M65.1 594.3h5M32.1 595.0h4M178.1 595.0h7M208.1 595.0h1M150.1 595.7h6M132.1 596.5h6M98.1 597.2h5M211.1 597.2h3M64.1 597.9h6M37.1 598.7h5M180.1 598.7h7M207.1 598.7h2M140.1 599.4h6M110.1 600.1h6M90.1 600.9h6M57.1 601.6h6M199.1 601.6h7M32.1 602.3h2M168.1 602.3h6M142.1 603.1h5M102.1 603.8h5M72.1 604.6h5M50.1 605.3h5M185.1 605.3h7M206.1 605.3h3M154.1 606.0h5M132.1 606.8h6M111.1 607.5h5M212.1 607.5h3M75.1 608.2h5M47.1 609.0h5M178.1 609.0h6M208.1 609.0h1M152.1 609.7h6M120.1 610.4h5M99.1 611.2h5M79.1 611.9h5M46.1 612.6h4M173.1 612.6h5M147.1 613.4h5M118.1 614.1h5M214.1 614.1h1M82.1 614.9h5M61.1 615.6h4M184.1 615.6h7M207.1 615.6h2M39.1 616.3h5M163.1 616.3h5M211.1 616.3h3M134.1 617.1h5M115.1 617.8h4M211.1 617.8h1M89.1 618.5h4M54.1 619.3h5M175.1 619.3h5M33.1 620.0h4M153.1 620.0h5M130.1 620.7h5M104.1 621.5h4M88.1 622.2h5M64.1 622.9h5M182.1 622.9h6M208.1 622.9h1M32.1 623.7h4M149.1 623.7h5M126.1 624.4h5M98.1 625.2h5M70.1 625.9h4M184.1 625.9h6M208.1 625.9h1M54.1 626.6h4M168.1 626.6h5M211.1 626.6h4M32.1 627.4h3M145.1 627.4h4M117.1 628.1h4M97.1 628.8h4M67.1 629.6h5M179.1 629.6h5M38.1 630.3h4M150.1 630.3h5M134.1 631.0h4M112.1 631.8h4M90.1 632.5h4M202.1 632.5h4M74.1 633.2h4M183.1 633.2h6M208.1 633.2h1M46.1 634.0h4M155.1 634.0h5M127.1 634.7h4M211.1 634.7h2M108.1 635.5h5M83.1 636.2h4M190.1 636.2h7M206.1 636.2h3M61.1 636.9h4M168.1 636.9h4M211.1 636.9h1M47.1 637.7h4M153.1 637.7h4M127.1 638.4h4M100.1 639.1h4" stroke="#1aacdd" stroke-width=".82" fill="none"/>
<path d="M32.1 481.0h171M206.1 481.7h3M200.1 485.4h8M202.1 489.1h6M140.1 492.0h56M32.1 492.7h1M203.1 492.7h5M32.1 496.4h74M200.1 496.4h8M32.1 500.1h97M200.1 500.1h8M38.1 503.8h87M203.1 503.8h5M150.1 506.7h53M52.1 507.5h75M204.1 507.5h5M63.1 511.1h66M205.1 511.1h4M74.1 514.8h59M206.1 514.8h3M139.1 517.8h68M75.1 518.5h52M208.1 518.5h1M154.1 521.4h52M67.1 522.2h47M211.1 522.2h3M32.1 522.9h9M188.1 525.1h11M74.1 525.8h43M32.1 526.6h3M211.1 527.3h4M137.1 528.8h52M195.1 528.8h13M80.1 529.5h40M32.1 530.3h2M211.1 531.0h4M117.1 532.5h39M207.1 532.5h2M65.1 533.2h37M32.1 533.9h14M149.1 536.1h59M61.1 536.9h34M32.1 537.6h5M173.1 539.1h33M133.1 539.8h35M206.1 539.8h3M72.1 540.6h32M162.1 542.8h46M96.1 543.5h31M63.1 544.2h30M32.1 545.0h9M183.1 546.4h22M112.1 547.2h30M48.1 547.9h28M32.1 548.6h5M157.1 550.1h51M121.1 550.9h28M56.1 551.6h27M131.1 553.8h27M87.1 554.5h26M58.1 555.3h25M187.1 556.7h18M142.1 557.5h27M208.1 557.5h1M214.1 557.5h1M82.1 558.2h25M39.1 558.9h25M211.1 558.9h2M32.1 559.7h2M181.1 560.4h25M139.1 561.2h26M211.1 561.2h1M100.1 561.9h23M38.1 562.6h23M163.1 564.1h46M114.1 564.8h22M81.1 565.6h22M47.1 566.3h22M150.1 567.8h24M208.1 567.8h1M212.1 567.8h3M111.1 568.5h22M62.1 569.2h21M211.1 569.2h3M35.1 570.0h21M151.1 571.5h23M211.1 571.5h4M116.1 572.2h21M75.1 572.9h21M32.1 573.7h11M176.1 574.4h32M143.1 575.1h21M101.1 575.9h20M72.1 576.6h20M211.1 576.6h1M32.1 577.3h19M157.1 578.1h22M208.1 578.1h1M212.1 578.1h3M124.1 578.8h20M89.1 579.5h19M50.1 580.3h19M32.1 581.0h16M165.1 581.8h24M206.1 581.8h3M122.1 582.5h19M92.1 583.2h18M53.1 584.0h18M178.1 584.7h30M157.1 585.4h20M211.1 585.4h1M124.1 586.2h19M87.1 586.9h17M211.1 586.9h2M59.1 587.6h17M32.1 588.4h1M174.1 588.4h35M132.1 589.1h18M108.1 589.8h17M74.1 590.6h17M43.1 591.3h16M32.1 592.1h5M174.1 592.1h35M134.1 592.8h17M96.1 593.5h17M211.1 593.5h3M70.1 594.3h17M36.1 595.0h16M185.1 595.0h23M156.1 595.7h18M138.1 596.5h17M103.1 597.2h16M214.1 597.2h1M70.1 597.9h16M42.1 598.7h16M187.1 598.7h20M146.1 599.4h16M116.1 600.1h16M96.1 600.9h15M63.1 601.6h15M34.1 602.3h16M174.1 602.3h21M205.1 602.3h4M147.1 603.1h16M107.1 603.8h15M211.1 603.8h3M77.1 604.6h15M55.1 605.3h15M192.1 605.3h14M32.1 606.0h7M159.1 606.0h16M138.1 606.8h15M116.1 607.5h15M80.1 608.2h15M52.1 609.0h15M184.1 609.0h24M32.1 609.7h9M158.1 609.7h16M125.1 610.4h14M104.1 611.2h15M84.1 611.9h14M50.1 612.6h14M178.1 612.6h31M32.1 613.4h6M152.1 613.4h15M123.1 614.1h14M87.1 614.9h14M65.1 615.6h14M191.1 615.6h16M44.1 616.3h14M168.1 616.3h16M139.1 617.1h14M119.1 617.8h14M212.1 617.8h3M93.1 618.5h14M59.1 619.3h13M180.1 619.3h29M37.1 620.0h13M158.1 620.0h14M135.1 620.7h13M108.1 621.5h14M93.1 622.2h13M69.1 622.9h13M188.1 622.9h20M36.1 623.7h13M154.1 623.7h14M131.1 624.4h13M103.1 625.2h13M74.1 625.9h13M190.1 625.9h18M58.1 626.6h13M173.1 626.6h15M35.1 627.4h12M149.1 627.4h14M121.1 628.1h13M101.1 628.8h12M72.1 629.6h12M184.1 629.6h25M42.1 630.3h13M155.1 630.3h13M32.1 631.0h7M138.1 631.0h13M116.1 631.8h13M94.1 632.5h12M78.1 633.2h12M189.1 633.2h19M50.1 634.0h12M160.1 634.0h13M32.1 634.7h2M131.1 634.7h12M213.1 634.7h2M113.1 635.5h12M87.1 636.2h12M197.1 636.2h9M65.1 636.9h12M172.1 636.9h14M51.1 637.7h11M157.1 637.7h13M32.1 638.4h4M131.1 638.4h12M211.1 638.4h2M104.1 639.1h12" stroke="#01b7ca" stroke-width=".82" fill="none"/>
<path d="M32.1 481.7h174M32.1 485.4h168M211.1 487.6h4M32.1 489.1h170M32.1 489.8h89M33.1 492.7h170M32.1 493.5h40M106.1 496.4h94M32.1 497.2h92M129.1 500.1h71M32.1 500.8h136M125.1 503.8h78M32.1 504.5h106M127.1 507.5h77M32.1 508.2h105M129.1 511.1h76M32.1 511.9h121M133.1 514.8h73M32.1 515.5h106M32.1 516.3h11M127.1 518.5h81M32.1 519.2h98M32.1 520.0h25M114.1 522.2h95M41.1 522.9h95M32.1 523.6h9M117.1 525.8h92M35.1 526.6h87M32.1 527.3h10M189.1 528.8h6M120.1 529.5h89M34.1 530.3h81M32.1 531.0h23M156.1 532.5h51M102.1 533.2h75M46.1 533.9h74M32.1 534.7h19M95.1 536.9h69M37.1 537.6h70M32.1 538.3h9M168.1 539.8h38M104.1 540.6h65M32.1 541.3h63M32.1 542.0h11M127.1 543.5h62M93.1 544.2h61M41.1 545.0h62M32.1 545.7h15M142.1 547.2h60M76.1 547.9h58M37.1 548.6h58M211.1 548.6h3M32.1 549.4h8M149.1 550.9h60M83.1 551.6h55M32.1 552.3h44M158.1 553.8h51M113.1 554.5h51M83.1 555.3h52M32.1 556.0h50M32.1 556.7h2M169.1 557.5h39M211.1 557.5h3M107.1 558.2h49M64.1 558.9h49M213.1 558.9h2M34.1 559.7h50M32.1 560.4h4M165.1 561.2h44M123.1 561.9h47M61.1 562.6h48M32.1 563.4h31M136.1 564.8h45M103.1 565.6h45M69.1 566.3h46M32.1 567.0h28M174.1 567.8h34M211.1 567.8h1M133.1 568.5h42M83.1 569.2h44M214.1 569.2h1M56.1 570.0h43M32.1 570.7h39M174.1 571.5h35M137.1 572.2h41M96.1 572.9h41M43.1 573.7h43M32.1 574.4h23M164.1 575.1h42M121.1 575.9h39M92.1 576.6h40M212.1 576.6h2M51.1 577.3h41M32.1 578.1h9M179.1 578.1h29M211.1 578.1h1M144.1 578.8h38M108.1 579.5h38M69.1 580.3h39M48.1 581.0h39M32.1 581.8h21M189.1 581.8h17M141.1 582.5h36M110.1 583.2h37M71.1 584.0h37M32.1 584.7h37M32.1 585.4h17M177.1 585.4h32M143.1 586.2h35M104.1 586.9h36M213.1 586.9h1M76.1 587.6h36M33.1 588.4h37M150.1 589.1h34M125.1 589.8h34M91.1 590.6h35M59.1 591.3h35M37.1 592.1h35M32.1 592.8h1M151.1 592.8h33M113.1 593.5h33M214.1 593.5h1M87.1 594.3h33M52.1 595.0h34M32.1 595.7h26M174.1 595.7h33M32.1 596.5h8M155.1 596.5h31M119.1 597.2h33M86.1 597.9h32M58.1 598.7h33M32.1 599.4h19M162.1 599.4h31M132.1 600.1h31M111.1 600.9h32M78.1 601.6h32M50.1 602.3h32M195.1 602.3h10M32.1 603.1h23M163.1 603.1h30M122.1 603.8h30M214.1 603.8h1M92.1 604.6h31M70.1 605.3h31M39.1 606.0h31M175.1 606.0h30M32.1 606.8h17M153.1 606.8h29M131.1 607.5h29M95.1 608.2h29M67.1 609.0h30M41.1 609.7h30M174.1 609.7h28M32.1 610.4h6M139.1 610.4h28M119.1 611.2h28M98.1 611.9h29M64.1 612.6h30M38.1 613.4h30M167.1 613.4h27M32.1 614.1h7M137.1 614.1h28M101.1 614.9h28M79.1 615.6h28M58.1 616.3h28M184.1 616.3h25M32.1 617.1h25M153.1 617.1h27M32.1 617.8h5M133.1 617.8h27M107.1 618.5h27M72.1 619.3h28M50.1 620.0h28M172.1 620.0h26M32.1 620.7h23M148.1 620.7h26M122.1 621.5h26M106.1 622.2h26M82.1 622.9h26M49.1 623.7h27M168.1 623.7h25M32.1 624.4h21M144.1 624.4h25M116.1 625.2h25M87.1 625.9h26M71.1 626.6h26M188.1 626.6h21M47.1 627.4h27M163.1 627.4h24M32.1 628.1h13M134.1 628.1h25M113.1 628.8h26M84.1 629.6h25M55.1 630.3h26M168.1 630.3h23M39.1 631.0h25M151.1 631.0h24M32.1 631.8h10M129.1 631.8h24M106.1 632.5h25M90.1 633.2h25M62.1 634.0h25M173.1 634.0h23M34.1 634.7h25M143.1 634.7h24M32.1 635.5h8M125.1 635.5h23M99.1 636.2h24M77.1 636.9h24M186.1 636.9h23M62.1 637.7h25M170.1 637.7h23M36.1 638.4h24M143.1 638.4h23M213.1 638.4h2M32.1 639.1h2M116.1 639.1h23" stroke="#09bdbe" stroke-width=".82" fill="none"/>
<path d="M32.1 482.4h175M32.1 483.2h166M201.1 486.1h8M32.1 486.9h151M32.1 490.5h166M183.1 493.5h26M37.1 494.2h166M32.1 494.9h89M198.1 497.2h11M32.1 497.9h163M32.1 498.6h117M208.1 500.8h1M32.1 501.6h161M32.1 502.3h30M192.1 504.5h17M95.1 505.2h106M32.1 506.0h74M186.1 508.2h22M86.1 508.9h111M32.1 509.7h130M193.1 511.9h16M65.1 512.6h120M32.1 513.3h78M32.1 514.1h13M178.1 515.5h29M90.1 516.3h100M32.1 517.0h57M214.1 518.5h1M168.1 519.2h38M99.1 520.0h91M32.1 520.7h108M170.1 522.9h36M79.1 523.6h96M32.1 524.4h94M32.1 525.1h33M155.1 526.6h48M78.1 527.3h90M32.1 528.0h51M145.1 530.3h55M88.1 531.0h83M32.1 531.7h75M197.1 533.2h11M149.1 533.9h51M81.1 534.7h80M37.1 535.4h85M32.1 536.1h24M186.1 536.9h21M134.1 537.6h59M70.1 538.3h77M32.1 539.1h52M32.1 539.8h15M189.1 540.6h18M121.1 541.3h63M70.1 542.0h73M32.1 542.8h47M203.1 543.5h6M176.1 544.2h29M127.1 545.0h59M72.1 545.7h69M32.1 546.4h70M32.1 547.2h5M156.1 547.9h43M118.1 548.6h59M65.1 549.4h66M32.1 550.1h52M32.1 550.9h16M158.1 551.6h41M99.1 552.3h59M55.1 553.1h64M32.1 553.8h30M182.1 554.5h23M155.1 555.3h42M103.1 556.0h57M55.1 556.7h61M32.1 557.5h44M173.1 558.2h30M133.1 558.9h49M104.1 559.7h55M57.1 560.4h57M32.1 561.2h44M32.1 561.9h6M186.1 561.9h20M127.1 562.6h49M82.1 563.4h54M46.1 564.1h56M32.1 564.8h22M194.1 564.8h13M165.1 565.6h34M133.1 566.3h46M79.1 567.0h52M38.1 567.8h54M32.1 568.5h22M189.1 568.5h17M143.1 569.2h42M117.1 570.0h47M89.1 570.7h49M44.1 571.5h51M32.1 572.2h29M191.1 572.2h15M153.1 572.9h38M103.1 573.7h46M72.1 574.4h49M40.1 575.1h50M32.1 575.9h16M174.1 575.9h27M147.1 576.6h39M108.1 577.3h45M58.1 578.1h47M32.1 578.8h41M193.1 578.8h14M32.1 579.5h6M160.1 579.5h34M123.1 580.3h42M102.1 581.0h44M69.1 581.8h46M214.1 581.8h1M32.1 582.5h41M189.1 582.5h16M32.1 583.2h11M161.1 583.2h32M123.1 584.0h41M85.1 584.7h43M64.1 585.4h44M32.1 586.2h45M189.1 586.2h16M32.1 586.9h8M154.1 586.9h34M126.1 587.6h39M84.1 588.4h42M43.1 589.1h43M194.1 589.1h12M32.1 589.8h30M171.1 589.8h27M139.1 590.6h37M109.1 591.3h39M87.1 592.1h40M48.1 592.8h41M194.1 592.8h12M32.1 593.5h20M158.1 593.5h32M134.1 594.3h36M100.1 595.0h38M72.1 595.7h40M55.1 596.5h39M195.1 596.5h12M32.1 597.2h29M163.1 597.2h30M131.1 597.9h35M104.1 598.7h37M65.1 599.4h38M200.1 599.4h8M35.1 600.1h39M174.1 600.1h24M32.1 600.9h22M154.1 600.9h31M122.1 601.6h35M95.1 602.3h36M213.1 602.3h2M69.1 603.1h37M200.1 603.1h8M32.1 603.8h35M163.1 603.8h28M32.1 604.6h5M135.1 604.6h33M113.1 605.3h35M83.1 606.0h36M208.1 606.0h1M62.1 606.8h36M191.1 606.8h14M40.1 607.5h37M171.1 607.5h25M32.1 608.2h9M136.1 608.2h32M109.1 609.0h34M84.1 609.7h34M206.1 609.7h3M51.1 610.4h35M177.1 610.4h22M32.1 611.2h34M158.1 611.2h28M32.1 611.9h14M138.1 611.9h31M105.1 612.6h34M214.1 612.6h1M80.1 613.4h34M200.1 613.4h8M51.1 614.1h35M174.1 614.1h23M32.1 614.9h18M140.1 614.9h30M118.1 615.6h32M98.1 616.3h32M69.1 617.1h34M188.1 617.1h16M49.1 617.8h34M170.1 617.8h24M32.1 618.5h25M144.1 618.5h30M111.1 619.3h31M214.1 619.3h1M90.1 620.0h32M203.1 620.0h5M67.1 620.7h32M183.1 620.7h18M40.1 621.5h33M158.1 621.5h26M32.1 622.2h26M143.1 622.2h28M32.1 622.9h2M119.1 622.9h30M87.1 623.7h32M199.1 623.7h8M64.1 624.4h32M178.1 624.4h20M36.1 625.2h33M151.1 625.2h27M32.1 625.9h8M123.1 625.9h29M107.1 626.6h30M84.1 627.4h31M194.1 627.4h12M57.1 628.1h31M168.1 628.1h23M212.1 628.1h1M36.1 628.8h32M148.1 628.8h27M32.1 629.6h6M120.1 629.6h28M91.1 630.3h30M198.1 630.3h9M75.1 631.0h30M183.1 631.0h18M53.1 631.8h31M162.1 631.8h24M32.1 632.5h29M140.1 632.5h27M32.1 633.2h14M125.1 633.2h28M98.1 634.0h28M201.1 634.0h7M69.1 634.7h30M175.1 634.7h21M51.1 635.5h30M157.1 635.5h25M32.1 636.2h23M133.1 636.2h27M32.1 636.9h2M111.1 636.9h28M97.1 637.7h28M199.1 637.7h8M70.1 638.4h29M174.1 638.4h21M44.1 639.1h29M148.1 639.1h26" stroke="#1ac0b5" stroke-width=".82" fill="none"/>
<path d="M207.1 482.4h2M198.1 483.2h10M32.1 483.9h169M183.1 486.9h23M32.1 487.6h156M198.1 490.5h10M32.1 491.3h85M203.1 494.2h5M121.1 494.9h79M195.1 497.9h12M149.1 498.6h53M32.1 499.4h64M193.1 501.6h14M62.1 502.3h95M32.1 503.0h32M201.1 505.2h7M106.1 506.0h75M211.1 506.0h2M32.1 506.7h6M208.1 508.2h1M197.1 508.9h10M162.1 509.7h39M32.1 510.4h72M185.1 512.6h20M110.1 513.3h62M45.1 514.1h66M207.1 515.5h2M190.1 516.3h16M89.1 517.0h58M32.1 517.8h29M211.1 518.5h3M206.1 519.2h3M190.1 520.0h16M140.1 520.7h47M32.1 521.4h51M206.1 522.9h3M175.1 523.6h27M126.1 524.4h47M65.1 525.1h50M203.1 526.6h5M168.1 527.3h31M83.1 528.0h45M32.1 528.8h45M200.1 530.3h8M171.1 531.0h29M107.1 531.7h42M32.1 532.5h30M211.1 532.5h4M208.1 533.2h1M200.1 533.9h7M161.1 534.7h33M211.1 534.7h4M122.1 535.4h39M56.1 536.1h40M207.1 536.9h2M193.1 537.6h13M147.1 538.3h35M84.1 539.1h37M47.1 539.8h37M212.1 539.8h3M207.1 540.6h2M184.1 541.3h19M143.1 542.0h34M79.1 542.8h35M32.1 543.5h20M205.1 544.2h4M186.1 545.0h18M141.1 545.7h32M102.1 546.4h33M37.1 547.2h33M199.1 547.9h8M177.1 548.6h23M131.1 549.4h31M84.1 550.1h31M48.1 550.9h32M199.1 551.6h8M158.1 552.3h28M119.1 553.1h30M62.1 553.8h30M32.1 554.5h17M205.1 554.5h4M197.1 555.3h9M160.1 556.0h27M116.1 556.7h28M76.1 557.5h29M32.1 558.2h14M203.1 558.2h5M182.1 558.9h19M159.1 559.7h26M114.1 560.4h28M76.1 561.2h28M38.1 561.9h27M206.1 561.9h3M176.1 562.6h22M211.1 562.6h3M136.1 563.4h26M102.1 564.1h26M54.1 564.8h26M207.1 564.8h2M32.1 565.6h16M199.1 565.6h8M179.1 566.3h20M211.1 566.3h4M131.1 567.0h25M92.1 567.8h25M54.1 568.5h25M206.1 568.5h3M185.1 569.2h17M164.1 570.0h23M138.1 570.7h24M95.1 571.5h24M61.1 572.2h25M206.1 572.2h3M32.1 572.9h13M191.1 572.9h13M149.1 573.7h23M121.1 574.4h23M90.1 575.1h23M48.1 575.9h24M201.1 575.9h6M32.1 576.6h11M186.1 576.6h16M153.1 577.3h22M105.1 578.1h22M73.1 578.8h23M207.1 578.8h2M38.1 579.5h23M194.1 579.5h11M165.1 580.3h21M146.1 581.0h21M115.1 581.8h21M211.1 581.8h3M73.1 582.5h21M205.1 582.5h4M43.1 583.2h22M193.1 583.2h12M164.1 584.0h20M128.1 584.7h21M108.1 585.4h21M77.1 586.2h21M205.1 586.2h4M40.1 586.9h21M188.1 586.9h14M32.1 587.6h1M165.1 587.6h20M126.1 588.4h20M86.1 589.1h20M206.1 589.1h3M62.1 589.8h20M198.1 589.8h8M32.1 590.6h17M176.1 590.6h18M148.1 591.3h19M127.1 592.1h19M213.1 592.1h2M89.1 592.8h20M206.1 592.8h3M52.1 593.5h19M190.1 593.5h13M32.1 594.3h14M170.1 594.3h18M138.1 595.0h19M112.1 595.7h19M94.1 596.5h19M207.1 596.5h2M61.1 597.2h18M193.1 597.2h11M32.1 597.9h14M166.1 597.9h18M141.1 598.7h19M103.1 599.4h19M208.1 599.4h1M74.1 600.1h19M198.1 600.1h8M54.1 600.9h19M185.1 600.9h15M211.1 600.9h2M32.1 601.6h8M157.1 601.6h18M131.1 602.3h18M211.1 602.3h2M106.1 603.1h18M208.1 603.1h1M67.1 603.8h17M191.1 603.8h12M37.1 604.6h18M168.1 604.6h17M32.1 605.3h1M148.1 605.3h17M119.1 606.0h17M98.1 606.8h17M205.1 606.8h3M77.1 607.5h17M196.1 607.5h9M41.1 608.2h18M168.1 608.2h17M143.1 609.0h17M118.1 609.7h17M86.1 610.4h17M199.1 610.4h7M66.1 611.2h17M186.1 611.2h14M211.1 611.2h1M46.1 611.9h17M169.1 611.9h16M139.1 612.6h16M211.1 612.6h3M114.1 613.4h16M208.1 613.4h1M86.1 614.1h16M197.1 614.1h9M50.1 614.9h16M170.1 614.9h16M32.1 615.6h13M150.1 615.6h16M130.1 616.3h16M103.1 617.1h15M204.1 617.1h4M83.1 617.8h16M194.1 617.8h10M57.1 618.5h16M174.1 618.5h15M32.1 619.3h7M142.1 619.3h16M211.1 619.3h3M122.1 620.0h15M208.1 620.0h1M99.1 620.7h16M201.1 620.7h6M73.1 621.5h16M184.1 621.5h14M58.1 622.2h15M171.1 622.2h15M34.1 622.9h15M149.1 622.9h16M119.1 623.7h15M207.1 623.7h2M96.1 624.4h15M198.1 624.4h8M69.1 625.2h15M178.1 625.2h14M40.1 625.9h15M152.1 625.9h15M32.1 626.6h7M137.1 626.6h15M115.1 627.4h15M206.1 627.4h3M88.1 628.1h14M191.1 628.1h11M213.1 628.1h2M68.1 628.8h14M175.1 628.8h14M38.1 629.6h15M148.1 629.6h15M213.1 629.6h2M121.1 630.3h14M207.1 630.3h2M105.1 631.0h15M201.1 631.0h6M84.1 631.8h14M186.1 631.8h13M61.1 632.5h15M167.1 632.5h15M46.1 633.2h14M153.1 633.2h14M126.1 634.0h15M208.1 634.0h1M99.1 634.7h14M196.1 634.7h9M81.1 635.5h14M182.1 635.5h13M55.1 636.2h14M160.1 636.2h14M34.1 636.9h14M139.1 636.9h14M32.1 637.7h1M125.1 637.7h14M207.1 637.7h2M99.1 638.4h14M195.1 638.4h9M73.1 639.1h14M174.1 639.1h13" stroke="#2cc4a7" stroke-width=".82" fill="none"/>
<path d="M211.1 481.7h4M208.1 483.2h1M201.1 483.9h6M206.1 486.9h2M188.1 487.6h16M208.1 490.5h1M117.1 491.3h55M211.1 491.3h4M208.1 494.2h1M200.1 494.9h6M207.1 497.9h2M202.1 498.6h5M96.1 499.4h37M207.1 501.6h2M157.1 502.3h28M211.1 502.3h2M64.1 503.0h31M208.1 505.2h1M181.1 506.0h18M213.1 506.0h2M38.1 506.7h27M212.1 507.5h3M207.1 508.9h2M201.1 509.7h6M104.1 510.4h24M211.1 511.1h4M205.1 512.6h3M172.1 513.3h19M211.1 513.3h1M111.1 514.1h21M211.1 514.8h4M206.1 516.3h2M147.1 517.0h19M61.1 517.8h19M206.1 520.0h2M187.1 520.7h13M211.1 520.7h4M83.1 521.4h17M202.1 523.6h5M173.1 524.4h16M115.1 525.1h16M208.1 526.6h1M199.1 527.3h7M128.1 528.0h15M77.1 528.8h15M32.1 529.5h4M208.1 530.3h1M200.1 531.0h6M149.1 531.7h14M62.1 532.5h14M207.1 533.9h2M194.1 534.7h9M161.1 535.4h13M96.1 536.1h13M206.1 537.6h2M182.1 538.3h12M121.1 539.1h12M84.1 539.8h12M211.1 539.8h1M32.1 540.6h5M203.1 541.3h4M177.1 542.0h11M114.1 542.8h12M52.1 543.5h11M204.1 545.0h3M173.1 545.7h11M135.1 546.4h11M70.1 547.2h10M207.1 547.9h2M200.1 548.6h6M162.1 549.4h10M115.1 550.1h10M214.1 550.1h1M80.1 550.9h10M207.1 551.6h2M186.1 552.3h10M149.1 553.1h9M92.1 553.8h10M49.1 554.5h9M206.1 555.3h2M187.1 556.0h9M144.1 556.7h10M105.1 557.5h9M46.1 558.2h9M208.1 558.2h1M201.1 558.9h5M185.1 559.7h9M142.1 560.4h9M104.1 561.2h8M65.1 561.9h9M198.1 562.6h6M214.1 562.6h1M162.1 563.4h9M128.1 564.1h8M211.1 564.1h4M80.1 564.8h9M48.1 565.6h8M207.1 565.6h2M199.1 566.3h6M156.1 567.0h8M117.1 567.8h8M79.1 568.5h8M32.1 569.2h7M202.1 569.2h4M187.1 570.0h8M162.1 570.7h8M119.1 571.5h8M86.1 572.2h7M45.1 572.9h8M204.1 572.9h3M172.1 573.7h8M144.1 574.4h7M113.1 575.1h7M72.1 575.9h7M207.1 575.9h2M43.1 576.6h7M202.1 576.6h4M175.1 577.3h8M127.1 578.1h8M96.1 578.8h7M61.1 579.5h7M205.1 579.5h3M186.1 580.3h7M167.1 581.0h8M136.1 581.8h7M94.1 582.5h7M65.1 583.2h6M205.1 583.2h3M32.1 584.0h1M184.1 584.0h7M149.1 584.7h7M214.1 584.7h1M129.1 585.4h7M98.1 586.2h6M61.1 586.9h6M202.1 586.9h4M33.1 587.6h6M185.1 587.6h7M146.1 588.4h7M211.1 588.4h4M106.1 589.1h7M82.1 589.8h6M206.1 589.8h2M49.1 590.6h6M194.1 590.6h6M167.1 591.3h7M146.1 592.1h7M211.1 592.1h2M109.1 592.8h6M71.1 593.5h7M203.1 593.5h4M46.1 594.3h6M188.1 594.3h7M157.1 595.0h6M131.1 595.7h6M113.1 596.5h6M79.1 597.2h6M204.1 597.2h3M46.1 597.9h6M184.1 597.9h7M160.1 598.7h6M122.1 599.4h6M93.1 600.1h5M206.1 600.1h2M73.1 600.9h5M200.1 600.9h5M213.1 600.9h2M40.1 601.6h6M175.1 601.6h7M149.1 602.3h6M124.1 603.1h6M84.1 603.8h6M203.1 603.8h4M55.1 604.6h5M185.1 604.6h6M33.1 605.3h5M165.1 605.3h6M136.1 606.0h5M115.1 606.8h6M208.1 606.8h1M94.1 607.5h6M205.1 607.5h3M59.1 608.2h5M185.1 608.2h6M32.1 609.0h4M160.1 609.0h5M213.1 609.0h2M135.1 609.7h6M103.1 610.4h5M206.1 610.4h2M83.1 611.2h5M200.1 611.2h5M212.1 611.2h3M63.1 611.9h5M185.1 611.9h6M32.1 612.6h3M155.1 612.6h6M130.1 613.4h5M102.1 614.1h5M206.1 614.1h2M66.1 614.9h5M186.1 614.9h5M45.1 615.6h5M166.1 615.6h6M146.1 616.3h6M118.1 617.1h6M208.1 617.1h1M99.1 617.8h5M204.1 617.8h3M73.1 618.5h5M189.1 618.5h5M39.1 619.3h5M158.1 619.3h5M137.1 620.0h5M115.1 620.7h5M207.1 620.7h2M89.1 621.5h5M198.1 621.5h5M211.1 621.5h1M73.1 622.2h5M186.1 622.2h6M49.1 622.9h5M165.1 622.9h5M213.1 622.9h2M134.1 623.7h5M111.1 624.4h5M206.1 624.4h2M84.1 625.2h4M192.1 625.2h6M55.1 625.9h5M167.1 625.9h5M214.1 625.9h1M39.1 626.6h5M152.1 626.6h5M130.1 627.4h5M102.1 628.1h5M202.1 628.1h4M82.1 628.8h5M189.1 628.8h6M53.1 629.6h5M163.1 629.6h5M211.1 629.6h2M135.1 630.3h5M120.1 631.0h4M207.1 631.0h2M98.1 631.8h5M199.1 631.8h5M211.1 631.8h1M76.1 632.5h4M182.1 632.5h5M60.1 633.2h5M167.1 633.2h5M212.1 633.2h3M32.1 634.0h5M141.1 634.0h4M113.1 634.7h5M205.1 634.7h2M95.1 635.5h4M195.1 635.5h5M69.1 636.2h5M174.1 636.2h4M48.1 636.9h4M153.1 636.9h5M33.1 637.7h4M139.1 637.7h5M113.1 638.4h4M204.1 638.4h3M87.1 639.1h4M187.1 639.1h5" stroke="#42ca8b" stroke-width=".82" fill="none"/>
<path d="M207.1 483.9h1M211.1 485.4h4M208.1 486.9h1M204.1 487.6h3M211.1 489.1h4M172.1 491.3h20M211.1 492.7h4M206.1 494.9h2M32.1 495.7h16M211.1 496.4h4M207.1 498.6h1M133.1 499.4h16M211.1 500.1h4M185.1 502.3h11M213.1 502.3h2M95.1 503.0h13M211.1 503.8h4M199.1 506.0h6M65.1 506.7h12M211.1 507.5h1M207.1 509.7h1M128.1 510.4h10M208.1 512.6h1M191.1 513.3h8M212.1 513.3h3M132.1 514.1h9M208.1 516.3h1M166.1 517.0h9M80.1 517.8h8M208.1 520.0h1M200.1 520.7h5M100.1 521.4h7M207.1 523.6h1M189.1 524.4h7M211.1 524.4h4M131.1 525.1h6M32.1 525.8h1M206.1 527.3h2M143.1 528.0h7M92.1 528.8h6M211.1 528.8h4M36.1 529.5h6M206.1 531.0h2M163.1 531.7h6M76.1 532.5h5M203.1 534.7h3M174.1 535.4h6M109.1 536.1h5M211.1 536.1h4M208.1 537.6h1M194.1 538.3h5M211.1 538.3h4M133.1 539.1h5M96.1 539.8h5M37.1 540.6h4M207.1 541.3h1M188.1 542.0h6M211.1 542.0h4M126.1 542.8h4M211.1 542.8h4M63.1 543.5h4M32.1 544.2h3M207.1 545.0h2M184.1 545.7h5M146.1 546.4h5M80.1 547.2h5M206.1 548.6h2M172.1 549.4h5M125.1 550.1h5M211.1 550.1h3M90.1 550.9h4M196.1 552.3h4M211.1 552.3h4M158.1 553.1h5M102.1 553.8h4M58.1 554.5h4M32.1 555.3h2M208.1 555.3h1M196.1 556.0h4M211.1 556.0h4M154.1 556.7h4M114.1 557.5h4M55.1 558.2h4M206.1 558.9h2M194.1 559.7h4M211.1 559.7h4M151.1 560.4h3M112.1 561.2h4M74.1 561.9h3M204.1 562.6h3M171.1 563.4h4M136.1 564.1h4M89.1 564.8h3M56.1 565.6h4M205.1 566.3h2M164.1 567.0h4M125.1 567.8h3M87.1 568.5h3M39.1 569.2h3M206.1 569.2h2M195.1 570.0h4M211.1 570.0h3M170.1 570.7h4M127.1 571.5h3M93.1 572.2h3M53.1 572.9h3M207.1 572.9h2M180.1 573.7h4M151.1 574.4h4M211.1 574.4h4M120.1 575.1h3M79.1 575.9h3M50.1 576.6h3M206.1 576.6h2M183.1 577.3h3M135.1 578.1h3M103.1 578.8h3M68.1 579.5h3M208.1 579.5h1M193.1 580.3h4M175.1 581.0h3M143.1 581.8h3M101.1 582.5h3M71.1 583.2h3M208.1 583.2h1M33.1 584.0h2M191.1 584.0h3M156.1 584.7h3M211.1 584.7h3M136.1 585.4h3M104.1 586.2h3M67.1 586.9h3M206.1 586.9h2M39.1 587.6h3M192.1 587.6h3M153.1 588.4h3M113.1 589.1h2M88.1 589.8h3M208.1 589.8h1M55.1 590.6h3M200.1 590.6h3M211.1 590.6h4M174.1 591.3h3M153.1 592.1h3M115.1 592.8h3M78.1 593.5h2M207.1 593.5h1M52.1 594.3h3M195.1 594.3h3M163.1 595.0h3M211.1 595.0h4M137.1 595.7h3M119.1 596.5h3M85.1 597.2h3M207.1 597.2h1M52.1 597.9h3M191.1 597.9h3M166.1 598.7h3M211.1 598.7h4M128.1 599.4h2M98.1 600.1h3M208.1 600.1h1M78.1 600.9h3M205.1 600.9h2M46.1 601.6h2M182.1 601.6h2M155.1 602.3h2M130.1 603.1h2M90.1 603.8h2M207.1 603.8h1M60.1 604.6h3M191.1 604.6h3M38.1 605.3h3M171.1 605.3h3M212.1 605.3h3M141.1 606.0h3M121.1 606.8h2M100.1 607.5h2M208.1 607.5h1M64.1 608.2h2M191.1 608.2h3M36.1 609.0h2M165.1 609.0h3M211.1 609.0h2M141.1 609.7h2M108.1 610.4h3M208.1 610.4h1M88.1 611.2h3M205.1 611.2h2M68.1 611.9h2M191.1 611.9h3M35.1 612.6h2M161.1 612.6h2M135.1 613.4h3M107.1 614.1h2M208.1 614.1h1M71.1 614.9h3M191.1 614.9h3M50.1 615.6h2M172.1 615.6h2M211.1 615.6h4M152.1 616.3h2M124.1 617.1h2M104.1 617.8h2M207.1 617.8h1M78.1 618.5h2M194.1 618.5h3M44.1 619.3h2M163.1 619.3h2M142.1 620.0h2M120.1 620.7h2M94.1 621.5h2M203.1 621.5h2M212.1 621.5h3M78.1 622.2h2M192.1 622.2h2M54.1 622.9h2M170.1 622.9h2M211.1 622.9h2M139.1 623.7h2M116.1 624.4h2M208.1 624.4h1M88.1 625.2h2M198.1 625.2h3M60.1 625.9h2M172.1 625.9h3M211.1 625.9h3M44.1 626.6h2M157.1 626.6h2M135.1 627.4h2M107.1 628.1h2M206.1 628.1h2M87.1 628.8h2M195.1 628.8h2M58.1 629.6h2M168.1 629.6h2M140.1 630.3h2M124.1 631.0h2M103.1 631.8h2M204.1 631.8h2M212.1 631.8h3M80.1 632.5h2M187.1 632.5h2M65.1 633.2h1M172.1 633.2h2M211.1 633.2h1M37.1 634.0h2M145.1 634.0h2M118.1 634.7h2M207.1 634.7h2M99.1 635.5h2M200.1 635.5h3M211.1 635.5h2M74.1 636.2h2M178.1 636.2h3M211.1 636.2h4M52.1 636.9h2M158.1 636.9h2M37.1 637.7h2M144.1 637.7h1M117.1 638.4h2M207.1 638.4h1M91.1 639.1h2M192.1 639.1h2" stroke="#7dcc5b" stroke-width=".82" fill="none"/>
<path d="M211.1 481.0h4M208.1 483.9h1M211.1 484.6h4M207.1 487.6h1M32.1 488.3h11M211.1 488.3h4M192.1 491.3h8M211.1 492.0h4M208.1 494.9h1M48.1 495.7h9M211.1 495.7h4M208.1 498.6h1M149.1 499.4h9M211.1 499.4h4M196.1 502.3h5M108.1 503.0h7M211.1 503.0h4M205.1 506.0h2M77.1 506.7h5M211.1 506.7h4M208.1 509.7h1M138.1 510.4h5M211.1 510.4h4M199.1 513.3h3M141.1 514.1h5M211.1 514.1h4M175.1 517.0h4M211.1 517.0h4M88.1 517.8h4M211.1 517.8h4M205.1 520.7h2M107.1 521.4h4M211.1 521.4h4M208.1 523.6h1M196.1 524.4h3M137.1 525.1h4M211.1 525.1h4M33.1 525.8h3M208.1 527.3h1M150.1 528.0h3M211.1 528.0h4M98.1 528.8h3M42.1 529.5h3M208.1 531.0h1M169.1 531.7h3M211.1 531.7h4M81.1 532.5h3M32.1 533.2h1M206.1 534.7h2M180.1 535.4h3M211.1 535.4h4M114.1 536.1h3M199.1 538.3h3M138.1 539.1h3M211.1 539.1h4M101.1 539.8h3M41.1 540.6h3M208.1 541.3h1M194.1 542.0h2M130.1 542.8h3M67.1 543.5h3M35.1 544.2h2M189.1 545.7h3M211.1 545.7h4M151.1 546.4h2M211.1 546.4h4M85.1 547.2h2M208.1 548.6h1M177.1 549.4h2M211.1 549.4h4M130.1 550.1h2M94.1 550.9h2M32.1 551.6h1M200.1 552.3h3M163.1 553.1h2M211.1 553.1h4M106.1 553.8h2M62.1 554.5h2M34.1 555.3h2M200.1 556.0h3M158.1 556.7h2M211.1 556.7h4M118.1 557.5h2M59.1 558.2h2M208.1 558.9h1M198.1 559.7h2M154.1 560.4h2M211.1 560.4h4M116.1 561.2h2M77.1 561.9h2M207.1 562.6h1M175.1 563.4h2M211.1 563.4h4M140.1 564.1h2M92.1 564.8h2M60.1 565.6h1M207.1 566.3h1M168.1 567.0h2M211.1 567.0h4M128.1 567.8h2M90.1 568.5h2M42.1 569.2h1M208.1 569.2h1M199.1 570.0h2M214.1 570.0h1M174.1 570.7h2M211.1 570.7h4M130.1 571.5h2M96.1 572.2h2M56.1 572.9h1M184.1 573.7h2M211.1 573.7h4M155.1 574.4h1M123.1 575.1h2M82.1 575.9h1M53.1 576.6h2M208.1 576.6h1M186.1 577.3h2M211.1 577.3h4M138.1 578.1h1M106.1 578.8h1M71.1 579.5h1M32.1 580.3h2M197.1 580.3h2M211.1 580.3h4M178.1 581.0h2M211.1 581.0h4M146.1 581.8h2M104.1 582.5h1M74.1 583.2h2M35.1 584.0h2M194.1 584.0h2M211.1 584.0h4M159.1 584.7h1M139.1 585.4h1M107.1 586.2h2M70.1 586.9h1M208.1 586.9h1M42.1 587.6h1M195.1 587.6h2M211.1 587.6h4M156.1 588.4h1M115.1 589.1h2M91.1 589.8h1M58.1 590.6h1M203.1 590.6h2M177.1 591.3h1M211.1 591.3h4M156.1 592.1h1M118.1 592.8h1M80.1 593.5h1M208.1 593.5h1M55.1 594.3h1M198.1 594.3h2M211.1 594.3h4M166.1 595.0h2M140.1 595.7h1M122.1 596.5h1M88.1 597.2h1M208.1 597.2h1M55.1 597.9h1M194.1 597.9h2M211.1 597.9h4M169.1 598.7h1M130.1 599.4h1M101.1 600.1h1M81.1 600.9h1M207.1 600.9h1M48.1 601.6h1M184.1 601.6h2M211.1 601.6h4M157.1 602.3h2M132.1 603.1h1M92.1 603.8h2M208.1 603.8h1M63.1 604.6h1M194.1 604.6h1M211.1 604.6h4M41.1 605.3h1M174.1 605.3h1M211.1 605.3h1M144.1 606.0h1M123.1 606.8h1M102.1 607.5h1M66.1 608.2h1M194.1 608.2h1M211.1 608.2h4M38.1 609.0h1M168.1 609.0h1M143.1 609.7h1M111.1 610.4h1M91.1 611.2h1M207.1 611.2h1M70.1 611.9h1M194.1 611.9h2M211.1 611.9h4M37.1 612.6h1M163.1 612.6h1M138.1 613.4h1M109.1 614.1h2M74.1 614.9h1M194.1 614.9h2M211.1 614.9h4M52.1 615.6h1M174.1 615.6h1M154.1 616.3h1M126.1 617.1h1M106.1 617.8h1M208.1 617.8h1M80.1 618.5h1M197.1 618.5h2M211.1 618.5h4M46.1 619.3h1M165.1 619.3h1M144.1 620.0h1M122.1 620.7h1M96.1 621.5h1M205.1 621.5h2M80.1 622.2h1M194.1 622.2h2M211.1 622.2h4M56.1 622.9h1M172.1 622.9h1M141.1 623.7h1M118.1 624.4h1M90.1 625.2h1M201.1 625.2h1M211.1 625.2h4M62.1 625.9h1M175.1 625.9h1M46.1 626.6h1M159.1 626.6h1M137.1 627.4h1M109.1 628.1h1M208.1 628.1h1M89.1 628.8h1M197.1 628.8h2M211.1 628.8h4M60.1 629.6h1M170.1 629.6h1M142.1 630.3h1M126.1 631.0h1M206.1 631.8h1M82.1 632.5h1M189.1 632.5h1M211.1 632.5h4M66.1 633.2h1M174.1 633.2h1M39.1 634.0h1M147.1 634.0h1M101.1 635.5h1M203.1 635.5h1M213.1 635.5h2M76.1 636.2h1M181.1 636.2h1M54.1 636.9h1M160.1 636.9h1M39.1 637.7h1M145.1 637.7h1M119.1 638.4h1M208.1 638.4h1M93.1 639.1h1M194.1 639.1h2M211.1 639.1h4" stroke="#ccc028" stroke-width=".82" fill="none"/>
<path d="M208.1 487.6h1M43.1 488.3h11M200.1 491.3h4M57.1 495.7h6M158.1 499.4h4M201.1 502.3h3M115.1 503.0h4M207.1 506.0h1M82.1 506.7h4M143.1 510.4h3M202.1 513.3h3M146.1 514.1h2M179.1 517.0h3M92.1 517.8h2M207.1 520.7h1M111.1 521.4h2M199.1 524.4h3M141.1 525.1h2M36.1 525.8h2M153.1 528.0h2M101.1 528.8h2M45.1 529.5h2M172.1 531.7h2M84.1 532.5h2M33.1 533.2h2M183.1 535.4h2M117.1 536.1h2M202.1 538.3h2M141.1 539.1h1M104.1 539.8h1M44.1 540.6h1M196.1 542.0h2M133.1 542.8h1M70.1 543.5h1M37.1 544.2h1M192.1 545.7h2M153.1 546.4h1M87.1 547.2h1M179.1 549.4h2M132.1 550.1h1M96.1 550.9h2M33.1 551.6h1M203.1 552.3h1M165.1 553.1h1M108.1 553.8h1M64.1 554.5h2M36.1 555.3h1M203.1 556.0h1M160.1 556.7h1M120.1 557.5h1M61.1 558.2h1M200.1 559.7h2M156.1 560.4h2M118.1 561.2h1M79.1 561.9h1M208.1 562.6h1M177.1 563.4h1M142.1 564.1h1M94.1 564.8h1M61.1 565.6h1M208.1 566.3h1M170.1 567.0h1M130.1 567.8h1M92.1 568.5h1M43.1 569.2h1M201.1 570.0h1M176.1 570.7h1M132.1 571.5h1M98.1 572.2h1M57.1 572.9h1M186.1 573.7h1M156.1 574.4h1M125.1 575.1h1M83.1 575.9h1M55.1 576.6h1M188.1 577.3h1M139.1 578.1h1M107.1 578.8h1M72.1 579.5h1M34.1 580.3h1M199.1 580.3h1M180.1 581.0h1M148.1 581.8h1M105.1 582.5h1M37.1 584.0h1M196.1 584.0h2M160.1 584.7h1M140.1 585.4h1M71.1 586.9h1M43.1 587.6h1M197.1 587.6h1M157.1 588.4h1M92.1 589.8h1M59.1 590.6h1M205.1 590.6h1M178.1 591.3h1M157.1 592.1h1M119.1 592.8h1M81.1 593.5h1M56.1 594.3h1M200.1 594.3h1M141.1 595.7h1M123.1 596.5h1M89.1 597.2h1M56.1 597.9h1M196.1 597.9h1M170.1 598.7h1M131.1 599.4h1M102.1 600.1h1M82.1 600.9h1M208.1 600.9h1M49.1 601.6h1M186.1 601.6h1M133.1 603.1h1M195.1 604.6h1M175.1 605.3h1M145.1 606.0h1M124.1 606.8h1M103.1 607.5h1M67.1 608.2h1M195.1 608.2h1M39.1 609.0h1M169.1 609.0h1M144.1 609.7h1M71.1 611.9h1M196.1 611.9h1M38.1 612.6h1M164.1 612.6h1M53.1 615.6h1M175.1 615.6h1M32.1 616.3h1M155.1 616.3h1M107.1 617.8h1M81.1 618.5h1M199.1 618.5h1M47.1 619.3h1M166.1 619.3h1M145.1 620.0h1M123.1 620.7h1M207.1 621.5h1M81.1 622.2h1M196.1 622.2h1M57.1 622.9h1M173.1 622.9h1M119.1 624.4h1M91.1 625.2h1M202.1 625.2h1M160.1 626.6h1M110.1 628.1h1M171.1 629.6h1M143.1 630.3h1M127.1 631.0h1M105.1 631.8h1M207.1 631.8h1M83.1 632.5h1M190.1 632.5h1M67.1 633.2h1M175.1 633.2h1M148.1 634.0h1M120.1 634.7h1M204.1 635.5h1M40.1 637.7h1M146.1 637.7h1M120.1 638.4h1M94.1 639.1h1" stroke="#fec735" stroke-width=".82" fill="none"/>
<path d="M209.1 481.0h2M209.1 481.7h2M209.1 484.6h2M209.1 485.4h2M209.1 486.1h2M54.1 488.3h29M209.1 488.3h2M209.1 489.1h2M209.1 489.8h2M204.1 491.3h5M209.1 492.0h2M209.1 492.7h2M63.1 495.7h14M209.1 495.7h2M209.1 496.4h2M162.1 499.4h13M209.1 499.4h2M209.1 500.1h2M209.1 500.8h2M204.1 502.3h5M119.1 503.0h10M209.1 503.0h2M209.1 503.8h2M208.1 506.0h1M86.1 506.7h8M209.1 506.7h2M209.1 507.5h2M146.1 510.4h8M209.1 510.4h2M209.1 511.1h2M205.1 513.3h4M148.1 514.1h7M209.1 514.1h2M32.1 514.8h2M209.1 514.8h2M182.1 517.0h7M209.1 517.0h2M94.1 517.8h6M209.1 517.8h2M32.1 518.5h6M209.1 518.5h2M208.1 520.7h1M113.1 521.4h5M209.1 521.4h2M32.1 522.2h2M209.1 522.2h2M202.1 524.4h7M143.1 525.1h5M209.1 525.1h2M38.1 525.8h5M209.1 525.8h2M155.1 528.0h5M209.1 528.0h2M103.1 528.8h4M209.1 528.8h2M47.1 529.5h4M209.1 529.5h2M174.1 531.7h5M209.1 531.7h2M86.1 532.5h4M209.1 532.5h2M35.1 533.2h4M208.1 534.7h1M185.1 535.4h4M209.1 535.4h2M119.1 536.1h4M209.1 536.1h2M32.1 536.9h4M204.1 538.3h5M142.1 539.1h4M209.1 539.1h2M105.1 539.8h4M209.1 539.8h2M45.1 540.6h4M198.1 542.0h6M209.1 542.0h2M134.1 542.8h4M209.1 542.8h2M71.1 543.5h3M38.1 544.2h4M194.1 545.7h4M209.1 545.7h2M154.1 546.4h4M209.1 546.4h2M88.1 547.2h4M209.1 547.2h2M181.1 549.4h4M209.1 549.4h2M133.1 550.1h3M209.1 550.1h2M98.1 550.9h3M209.1 550.9h2M34.1 551.6h3M204.1 552.3h5M166.1 553.1h3M209.1 553.1h2M109.1 553.8h3M209.1 553.8h2M66.1 554.5h2M37.1 555.3h3M204.1 556.0h5M161.1 556.7h3M209.1 556.7h2M121.1 557.5h3M209.1 557.5h2M62.1 558.2h3M202.1 559.7h5M209.1 559.7h2M158.1 560.4h2M209.1 560.4h2M119.1 561.2h3M209.1 561.2h2M80.1 561.9h3M178.1 563.4h3M209.1 563.4h2M143.1 564.1h3M209.1 564.1h2M95.1 564.8h2M62.1 565.6h3M171.1 567.0h3M209.1 567.0h2M131.1 567.8h2M209.1 567.8h2M93.1 568.5h2M44.1 569.2h3M202.1 570.0h5M209.1 570.0h2M177.1 570.7h3M209.1 570.7h2M133.1 571.5h2M209.1 571.5h2M99.1 572.2h2M58.1 572.9h3M187.1 573.7h3M209.1 573.7h2M157.1 574.4h3M209.1 574.4h2M126.1 575.1h2M209.1 575.1h2M84.1 575.9h3M56.1 576.6h2M189.1 577.3h3M209.1 577.3h2M140.1 578.1h2M209.1 578.1h2M108.1 578.8h2M73.1 579.5h2M35.1 580.3h2M200.1 580.3h4M209.1 580.3h2M181.1 581.0h2M209.1 581.0h2M149.1 581.8h2M209.1 581.8h2M106.1 582.5h2M76.1 583.2h3M38.1 584.0h2M198.1 584.0h3M209.1 584.0h2M161.1 584.7h2M209.1 584.7h2M141.1 585.4h2M209.1 585.4h2M109.1 586.2h2M72.1 586.9h2M44.1 587.6h2M198.1 587.6h4M209.1 587.6h2M158.1 588.4h2M209.1 588.4h2M117.1 589.1h2M93.1 589.8h2M60.1 590.6h2M206.1 590.6h3M179.1 591.3h3M209.1 591.3h2M158.1 592.1h2M209.1 592.1h2M120.1 592.8h2M82.1 593.5h2M57.1 594.3h2M201.1 594.3h3M209.1 594.3h2M168.1 595.0h2M209.1 595.0h2M142.1 595.7h2M209.1 595.7h2M124.1 596.5h2M90.1 597.2h2M57.1 597.9h1M197.1 597.9h3M209.1 597.9h2M171.1 598.7h2M209.1 598.7h2M132.1 599.4h2M103.1 600.1h2M83.1 600.9h2M50.1 601.6h2M187.1 601.6h2M209.1 601.6h2M159.1 602.3h2M209.1 602.3h2M134.1 603.1h2M94.1 603.8h2M64.1 604.6h2M196.1 604.6h3M209.1 604.6h2M42.1 605.3h2M176.1 605.3h2M209.1 605.3h2M146.1 606.0h2M209.1 606.0h2M125.1 606.8h2M104.1 607.5h2M68.1 608.2h2M196.1 608.2h3M209.1 608.2h2M40.1 609.0h2M170.1 609.0h2M209.1 609.0h2M145.1 609.7h2M112.1 610.4h2M92.1 611.2h2M208.1 611.2h1M72.1 611.9h2M197.1 611.9h2M209.1 611.9h2M39.1 612.6h1M165.1 612.6h2M209.1 612.6h2M139.1 613.4h2M111.1 614.1h2M75.1 614.9h2M196.1 614.9h3M209.1 614.9h2M54.1 615.6h1M176.1 615.6h2M209.1 615.6h2M33.1 616.3h1M156.1 616.3h1M209.1 616.3h2M127.1 617.1h2M108.1 617.8h2M82.1 618.5h1M200.1 618.5h2M209.1 618.5h2M48.1 619.3h1M167.1 619.3h2M209.1 619.3h2M146.1 620.0h2M124.1 620.7h1M97.1 621.5h2M208.1 621.5h1M82.1 622.2h1M197.1 622.2h2M209.1 622.2h2M58.1 622.9h1M174.1 622.9h2M209.1 622.9h2M142.1 623.7h2M120.1 624.4h1M92.1 625.2h1M203.1 625.2h3M209.1 625.2h2M63.1 625.9h2M176.1 625.9h2M209.1 625.9h2M47.1 626.6h2M161.1 626.6h2M209.1 626.6h2M138.1 627.4h2M111.1 628.1h1M90.1 628.8h2M199.1 628.8h3M209.1 628.8h2M61.1 629.6h2M172.1 629.6h1M209.1 629.6h2M32.1 630.3h2M144.1 630.3h1M128.1 631.0h1M106.1 631.8h1M208.1 631.8h1M84.1 632.5h1M191.1 632.5h2M209.1 632.5h2M68.1 633.2h1M176.1 633.2h1M209.1 633.2h2M40.1 634.0h2M149.1 634.0h1M121.1 634.7h1M102.1 635.5h2M205.1 635.5h6M77.1 636.2h2M182.1 636.2h2M209.1 636.2h2M55.1 636.9h2M161.1 636.9h2M209.1 636.9h2M41.1 637.7h1M147.1 637.7h1M121.1 638.4h1M95.1 639.1h1M196.1 639.1h3M209.1 639.1h2" stroke="#f9fb15" stroke-width=".82" fill="none"/>
<rect x="209.6" y="480.6" width="2" height="2.4" fill="#4743e7"/>
<rect x="211.8" y="480.6" width="3" height="2.4" fill="#feca33"/>
<rect x="32.1" y="480.6" width="182.7" height="158.9" fill="none" stroke="#4d6a6a" stroke-width="0.6"/>
<path d="M93 639.5v-1.8M93 480.6v1.8M153.9 639.5v-1.8M153.9 480.6v1.8M32.1 517.01h1.8M214.8 517.01h-1.8M32.1 553.8h1.8M214.8 553.8h-1.8M32.1 590.58h1.8M214.8 590.58h-1.8M32.1 627.36h1.8M214.8 627.36h-1.8" stroke="#234" stroke-width=".7" fill="none"/>
<text x="28.8" y="483.53" font-size="8.6" text-anchor="end" font-weight="bold" fill="#111">0</text>
<text x="28.8" y="520.31" font-size="8.6" text-anchor="end" font-weight="bold" fill="#111">75</text>
<text x="28.8" y="557.1" font-size="8.6" text-anchor="end" font-weight="bold" fill="#111">100</text>
<text x="28.8" y="593.88" font-size="8.6" text-anchor="end" font-weight="bold" fill="#111">150</text>
<text x="28.8" y="630.66" font-size="8.6" text-anchor="end" font-weight="bold" fill="#111">200</text>
<text x="32.7" y="650.9" font-size="8.6" text-anchor="middle" font-weight="bold" fill="#111">600</text>
<text x="93.6" y="650.9" font-size="8.6" text-anchor="middle" font-weight="bold" fill="#111">650</text>
<text x="154.5" y="650.9" font-size="8.6" text-anchor="middle" font-weight="bold" fill="#111">700</text>
<text x="215.4" y="650.9" font-size="8.6" text-anchor="middle" font-weight="bold" fill="#111">750</text>
<text x="123.7" y="662.9" font-size="9.5" text-anchor="middle" font-weight="bold" fill="#111">Frequency(Hz)</text>
<text x="9.8" y="560" font-size="9.5" text-anchor="middle" font-weight="bold" transform="rotate(-90 9.8 560)" fill="#111">Depth(m)</text>
<rect x="226.4" y="480.6" width="10.4" height="158.9" fill="url(#par)" stroke="#888" stroke-width=".5"/>
<text x="240.2" y="483.7" font-size="8.6" text-anchor="start" font-weight="bold" fill="#111">2</text>
<path d="M236.8 480.6h-2" stroke="#555" stroke-width=".7"/>
<text x="240.2" y="523.43" font-size="8.6" text-anchor="start" font-weight="bold" fill="#111">1</text>
<path d="M236.8 520.33h-2" stroke="#555" stroke-width=".7"/>
<text x="240.2" y="563.15" font-size="8.6" text-anchor="start" font-weight="bold" fill="#111">0</text>
<path d="M236.8 560.05h-2" stroke="#555" stroke-width=".7"/>
<text x="240.2" y="602.88" font-size="8.6" text-anchor="start" font-weight="bold" fill="#111">-1</text>
<path d="M236.8 599.77h-2" stroke="#555" stroke-width=".7"/>
<text x="240.2" y="642.6" font-size="8.6" text-anchor="start" font-weight="bold" fill="#111">-2</text>
<path d="M236.8 639.5h-2" stroke="#555" stroke-width=".7"/>
<text x="238" y="476.9" font-size="8.1" font-weight="bold" fill="#111">×10<tspan dy="-3.3" font-size="6.3">7</tspan></text>
<path d="M413.7 473.7L421.7 474.4L426.8 475.4L428.5 476.6L463.1 477.6L405.4 478.2L410.2 478.2L419.2 478.5L422.7 478.7L425.1 479.0L427.1 479.3L429.5 479.6L433.0 479.9L442.0 480.2L510.8 480.1L398.8 480.7L410.7 480.9L419.6 481.3L423.2 481.8L425.6 482.2L427.7 482.7L430.0 483.1L433.6 483.6L442.5 484.1L458.5 484.2L388.9 484.8L411.2 484.9L420.1 485.2L423.7 485.6L426.0 486.0L428.1 486.3L430.4 486.7L434.0 487.1L442.9 487.5L449.4 487.5L397.6 488.1L411.5 488.2L420.4 488.6L424.0 488.9L426.3 489.3L428.3 489.7L430.6 490.0L434.2 490.4L443.1 490.8L457.8 490.8L401.8 491.4L411.6 491.5L420.5 491.9L424.1 492.3L426.4 492.6L428.4 493.0L430.7 493.4L434.2 493.7L443.1 494.1L463.8 494.2L394.2 494.8L411.6 495.0L420.5 495.5L424.0 496.1L426.3 496.6L428.3 497.1L430.5 497.7L434.0 498.2L443.0 498.8L573.7 499.0L399.6 499.6L411.2 499.6L420.2 499.9L423.7 500.3L426.0 500.6L428.0 500.9L430.2 501.2L433.7 501.6L442.7 501.9L518.8 501.9L401.3 502.5L410.9 502.5L419.8 502.7L423.4 503.0L425.6 503.2L427.6 503.5L429.9 503.7L433.5 504.0L442.4 504.2L457.3 504.2L402.5 504.8L410.5 504.8L419.5 505.2L423.0 505.6L425.2 506.0L427.2 506.3L429.5 506.7L433.0 507.1L442.0 507.4L449.0 507.5L388.9 508.1L409.9 508.1L418.9 508.3L422.4 508.6L424.7 508.8L426.8 509.0L429.1 509.3L432.6 509.5L441.7 509.8L573.7 509.7L394.8 510.3L409.4 510.5L418.4 511.0L421.9 511.5L424.2 512.0L426.1 512.5L428.4 513.0L432.0 513.5L441.1 514.0L460.2 514.2L401.5 514.8L408.3 514.9L417.5 515.2L421.1 515.6L423.4 515.9L425.5 516.2L427.8 516.6L431.4 516.9L440.7 517.3L473.1 517.3L387.9 517.9L407.6 518.0L416.9 518.4L420.5 518.8L422.9 519.2L424.9 519.6L427.3 520.0L431.0 520.4L440.4 520.8L465.8 521.0L394.8 521.5L406.7 521.7L416.2 522.1L419.9 522.5L422.3 522.9L424.4 523.3L426.9 523.7L430.7 524.1L440.3 524.5L476.5 524.6L391.2 525.2L406.0 525.3L415.6 525.6L419.5 525.9L421.9 526.3L424.1 526.6L426.7 527.0L430.5 527.3L440.4 527.6L462.1 527.7L399.9 528.3L405.4 528.4L415.3 528.8L419.2 529.2L421.7 529.6L424.0 530.0L426.6 530.4L430.6 530.8L440.7 531.2L462.9 531.4L354.2 531.9L404.8 532.2L415.0 532.7L419.0 533.2L421.7 533.7L424.0 534.2L426.7 534.7L430.9 535.2L441.5 535.7L506.3 536.0L394.7 536.5L404.3 536.5L414.9 536.7L419.0 536.9L421.8 537.1L424.2 537.3L427.0 537.5L431.2 537.7L442.0 537.9L461.6 537.8L384.4 538.4L404.1 538.6L414.9 539.1L419.2 539.6L422.0 540.2L424.6 540.7L427.5 541.2L431.9 541.7L443.1 542.2L573.7 542.4L387.6 543.0L403.9 543.0L415.1 543.3L419.6 543.6L422.5 543.9L425.1 544.2L428.1 544.5L432.6 544.8L444.0 545.1L513.1 545.1L389.3 545.7L403.9 545.7L415.3 546.0L419.9 546.3L422.9 546.6L425.6 546.9L428.6 547.2L433.2 547.5L444.9 547.8L466.8 547.8L368.0 548.4L403.9 548.6L415.7 549.1L420.4 549.6L423.5 550.1L426.3 550.6L429.4 551.2L434.3 551.7L446.3 552.2L488.0 552.4L387.0 553.0L404.1 553.0L416.2 553.2L421.0 553.5L424.1 553.8L426.9 554.0L430.1 554.3L434.9 554.6L447.1 554.9L484.1 554.8L387.4 555.4L404.3 555.4L416.5 555.6L421.4 555.8L424.5 556.1L427.3 556.3L430.5 556.5L435.4 556.8L447.7 557.0L480.3 556.9L370.2 557.5L404.5 557.7L416.8 558.2L421.8 558.6L425.0 559.1L427.9 559.6L431.1 560.0L436.1 560.5L448.6 561.0L496.0 561.2L386.2 561.7L404.8 561.7L417.3 562.0L422.2 562.2L425.5 562.5L428.3 562.8L431.5 563.0L436.5 563.3L449.0 563.5L474.6 563.5L368.0 564.1L405.1 564.2L417.5 564.6L422.5 565.0L425.7 565.3L428.6 565.7L431.8 566.1L436.8 566.5L449.2 566.9L488.0 567.0L377.1 567.6L405.4 567.8L417.8 568.3L422.7 568.8L426.0 569.2L428.8 569.7L432.0 570.2L436.8 570.7L449.1 571.2L482.2 571.4L395.6 572.0L405.7 572.2L418.0 572.8L422.8 573.3L425.9 573.8L428.7 574.4L431.8 574.9L436.5 575.4L448.5 576.0L477.8 576.2L276.5 576.8L405.9 576.9L417.9 577.4L422.6 577.8L425.7 578.3L428.3 578.7L431.3 579.1L435.9 579.6L447.6 580.0L482.2 580.2L374.5 580.7L406.1 580.7L417.7 580.9L422.3 581.2L425.3 581.4L427.9 581.6L430.9 581.9L435.4 582.1L446.9 582.3L464.7 582.3L398.7 582.9L406.1 583.0L417.6 583.4L422.0 583.9L424.9 584.3L427.4 584.7L430.3 585.2L434.6 585.6L445.8 586.0L461.6 586.1L377.1 586.7L406.1 586.8L417.2 587.2L421.5 587.7L424.3 588.1L426.7 588.5L429.5 588.9L433.7 589.3L444.5 589.7L478.1 589.8L276.5 590.4L406.0 590.5L416.8 590.9L421.0 591.4L423.7 591.8L426.0 592.2L428.7 592.7L432.7 593.1L443.2 593.5L573.7 593.7L383.2 594.3L405.9 594.2L416.4 594.5L420.5 594.7L423.1 595.0L425.4 595.3L428.1 595.5L432.1 595.8L442.4 596.0L455.5 596.0L379.4 596.6L405.9 596.8L416.1 597.2L420.1 597.7L422.6 598.1L424.9 598.6L427.4 599.0L431.3 599.5L441.2 599.9L462.1 600.1L276.5 600.7L405.8 600.7L415.8 601.1L419.7 601.4L422.2 601.7L424.4 602.0L426.9 602.4L430.7 602.7L440.5 603.0L461.5 603.1L389.2 603.7L405.9 603.8L415.6 604.2L419.4 604.6L421.9 605.0L424.1 605.4L426.5 605.8L430.3 606.2L439.8 606.6L457.5 606.7L335.9 607.3L406.0 607.5L415.5 607.9L419.3 608.4L421.7 608.9L423.9 609.3L426.3 609.8L430.0 610.2L439.4 610.7L573.7 610.8L399.1 611.4L406.3 611.4L415.7 611.7L419.4 612.0L421.8 612.3L423.9 612.6L426.3 612.9L430.0 613.2L439.3 613.5L457.7 613.5L362.2 614.1L406.6 614.4L415.9 614.9L419.6 615.5L422.0 616.1L424.2 616.6L426.6 617.2L430.3 617.7L439.4 618.3L573.7 618.6L397.6 619.2L407.3 619.1L416.4 619.4L420.1 619.6L422.5 619.9L424.6 620.1L426.9 620.4L430.6 620.6L439.7 620.9L459.0 620.8L373.7 621.4L407.7 621.6L416.9 622.0L420.5 622.4L422.9 622.9L425.0 623.3L427.4 623.8L431.1 624.2L440.1 624.6L463.8 624.8L276.5 625.4L408.5 625.5L417.5 625.9L421.2 626.3L423.6 626.8L425.7 627.2L428.1 627.6L431.7 628.0L440.7 628.5L496.0 628.6L390.1 629.2L409.2 629.2L418.2 629.4L421.8 629.7L424.2 630.0L426.2 630.3L428.6 630.5L432.2 630.8L441.2 631.1L466.5 631.1" fill="none" stroke="#3a88cc" stroke-width=".7" stroke-linejoin="round" clip-path="url(#ce)" opacity=".9"/>
<rect x="310.8" y="473.5" width="228.6" height="160.6" fill="none" stroke="#9a9a9a" stroke-width="1"/>
<path d="M367.95 634.1v-2M367.95 473.5v2M425.1 634.1v-2M425.1 473.5v2M482.25 634.1v-2M482.25 473.5v2M310.8 510.02h2M539.4 510.02h-2M310.8 546.55h2M539.4 546.55h-2M310.8 583.08h2M539.4 583.08h-2M310.8 619.6h2M539.4 619.6h-2" stroke="#777" stroke-width=".7" fill="none"/>
<g fill="#f01616"><circle cx="442" cy="542.2" r="1.75"/><circle cx="420.7" cy="546.3" r="1.75"/><circle cx="424.4" cy="549.8" r="1.75"/><circle cx="435.5" cy="554.2" r="1.75"/><circle cx="412.9" cy="558.4" r="1.75"/><circle cx="412" cy="561.7" r="1.75"/><circle cx="420.6" cy="566.6" r="1.75"/><circle cx="424.1" cy="574.5" r="1.75"/><circle cx="431.6" cy="579.2" r="1.75"/><circle cx="435.5" cy="582.9" r="1.75"/><circle cx="393.6" cy="586.8" r="1.75"/><circle cx="420.6" cy="591.5" r="1.75"/><circle cx="423.2" cy="595" r="1.75"/><circle cx="429.4" cy="599.4" r="1.75"/><circle cx="431.6" cy="603" r="1.75"/><circle cx="348.6" cy="607.3" r="1.75"/><circle cx="420.2" cy="612" r="1.75"/><circle cx="421.8" cy="615.3" r="1.75"/><circle cx="427.6" cy="620" r="1.75"/><circle cx="446.5" cy="624.4" r="1.75"/><circle cx="487.7" cy="628.1" r="1.75"/></g>
<text x="307.3" y="476.7" font-size="8.6" text-anchor="end" font-weight="bold" fill="#111">0</text>
<text x="307.3" y="513.23" font-size="8.6" text-anchor="end" font-weight="bold" fill="#111">50</text>
<text x="307.3" y="549.75" font-size="8.6" text-anchor="end" font-weight="bold" fill="#111">100</text>
<text x="307.3" y="586.28" font-size="8.6" text-anchor="end" font-weight="bold" fill="#111">150</text>
<text x="307.3" y="622.8" font-size="8.6" text-anchor="end" font-weight="bold" fill="#111">200</text>
<text x="310.8" y="645.6" font-size="8.6" text-anchor="middle" font-weight="bold" fill="#111">-1</text>
<text x="367.95" y="645.6" font-size="8.6" text-anchor="middle" font-weight="bold" fill="#111">-0.5</text>
<text x="425.1" y="645.6" font-size="8.6" text-anchor="middle" font-weight="bold" fill="#111">0</text>
<text x="482.25" y="645.6" font-size="8.6" text-anchor="middle" font-weight="bold" fill="#111">0.5</text>
<text x="539.4" y="645.6" font-size="8.6" text-anchor="middle" font-weight="bold" fill="#111">1</text>
<text x="419" y="658" font-size="8.8" font-style="italic" font-weight="bold" fill="#111" text-anchor="end">η</text>
<text x="419.3" y="662.8" font-size="7.3" font-weight="bold" fill="#111">43,44</text>
<text x="518.6" y="661.2" font-size="9.3" font-weight="bold" fill="#111">×<tspan dx="1.2">10</tspan><tspan dy="-3.6" font-size="7">7</tspan></text>
<text x="288.8" y="553.5" font-size="9.5" text-anchor="middle" font-weight="bold" transform="rotate(-90 288.8 553.5)" fill="#111">Depth(m)</text>
<g clip-path="url(#cf)"><rect x="37.3" y="716.0" width="177.4" height="156.4" fill="#00b9c6"/><path d="M37 747L130 753.2L177 755.2L215 756.6L215 760L177 759.2L130 757.5L37 756.3z" fill="url(#bg0)"/><path d="M37 756.3L130 757.5L177 759.2L215 760L215 765.4L125 765.4L37 763.9z" fill="url(#bg0)"/><path d="M37 763.9L125 765.4L215 765.4L215 770.8L37 771z" fill="url(#bg0)"/><path d="M37 771L215 770.8L215 780.8L37 781.3z" fill="url(#bg1)"/><path d="M37 781.3L215 780.8L215 785.5L125 786L37 786.9z" fill="url(#bg1)"/><path d="M37 786.9L125 786L215 785.5L215 789.2L125 792.4L37 794.1z" fill="url(#bg1)"/><path d="M37 794.1L125 792.4L215 789.2L215 796L170 797L130 798.2L104 799.3L86.8 800.4L72 801.6L62 802.7L54 803.6L47 804.7L42 805.9L37 807.5z" fill="url(#bg1)"/><path d="M37 807.5L42 805.9L47 804.7L54 803.6L62 802.7L72 801.6L86.8 800.4L104 799.3L130 798.2L170 797L215 796L215 821.3L125 824.4L37 827.3z" fill="url(#bg2)"/><path d="M37 827.3L125 824.4L215 821.3L215 834.2L130 836.5L37 839.9z" fill="url(#bg1)"/><path d="M37 839.9L130 836.5L215 834.2L215 844.6L125 848.6L37 852z" fill="url(#bg1)"/><path d="M37 852L125 848.6L215 844.6L215 856.2L130 860.1L37 864.8z" fill="url(#bg1)"/><path d="M37 864.8L130 860.1L215 856.2L215 867.9L154 871.4L140 872.4L37 878z" fill="url(#bg1)"/><rect x="37.3" y="716.0" width="177.4" height="177.4" fill="url(#tr)"/><rect x="37.3" y="716.0" width="177.4" height="5" fill="url(#tb)"/><path d="M38.5 807.5L42 806.4L47 805.4L54 804.6L62 804L72 803.4L86.8 803L120 804.6L120 812L82 812.4L76 812L69.5 811.3L61 810.3L52.3 809.2L45 808.4z" fill="url(#hi)"/><path d="M81 812.4L84 806L150 806L150 819L84 819z" fill="url(#hb)"/><path d="M37 746.55L130 752.75L177 754.75L215 756.15" fill="none" stroke="#f7dc2a" stroke-width="0.6" opacity="0.55" stroke-dasharray="2.2 2.2"/><path d="M37 747.55L130 753.75L177 755.75L215 757.15" fill="none" stroke="#4536d3" stroke-width="0.4" opacity="0.55" stroke-dasharray="2.2 2.2"/><path d="M37 755.85L130 757.05L177 758.75L215 759.55" fill="none" stroke="#f7dc2a" stroke-width="0.8" opacity="0.75"/><path d="M37 756.85L130 758.05L177 759.75L215 760.55" fill="none" stroke="#4536d3" stroke-width="0.5" opacity="0.75"/><path d="M37 763.45L125 764.95L215 764.95" fill="none" stroke="#f7dc2a" stroke-width="0.8" opacity="0.7"/><path d="M37 764.45L125 765.95L215 765.95" fill="none" stroke="#4536d3" stroke-width="0.5" opacity="0.7"/><path d="M37 770.55L215 770.35" fill="none" stroke="#f7dc2a" stroke-width="1.2"/><path d="M37 771.55L215 771.35" fill="none" stroke="#4536d3" stroke-width="0.8"/><path d="M37 780.85L215 780.35" fill="none" stroke="#f7dc2a" stroke-width="0.9" opacity="0.85"/><path d="M37 781.85L215 781.35" fill="none" stroke="#4536d3" stroke-width="0.5" opacity="0.85"/><path d="M37 786.45L125 785.55L215 785.05" fill="none" stroke="#f7dc2a" stroke-width="0.8" opacity="0.75"/><path d="M37 787.45L125 786.55L215 786.05" fill="none" stroke="#4536d3" stroke-width="0.5" opacity="0.75"/><path d="M37 793.65L125 791.95L215 788.75" fill="none" stroke="#f7dc2a" stroke-width="0.9" opacity="0.9"/><path d="M37 794.65L125 792.95L215 789.75" fill="none" stroke="#4536d3" stroke-width="0.7" opacity="0.9"/><path d="M37 807.05L42 805.45L47 804.25L54 803.15L62 802.25L72 801.15L86.8 799.95L104 798.85L130 797.75L170 796.55L215 795.55" fill="none" stroke="#f7dc2a" stroke-width="1.0"/><path d="M37 808.05L42 806.45L47 805.25L54 804.15L62 803.25L72 802.15L86.8 800.95L104 799.85L130 798.75L170 797.55L215 796.55" fill="none" stroke="#4536d3" stroke-width="0.9"/><path d="M37 826.85L125 823.95L215 820.85" fill="none" stroke="#f7dc2a" stroke-width="1.0"/><path d="M37 827.85L125 824.95L215 821.85" fill="none" stroke="#4536d3" stroke-width="0.9"/><path d="M37 839.45L130 836.05L215 833.75" fill="none" stroke="#f7dc2a" stroke-width="1.0"/><path d="M37 840.45L130 837.05L215 834.75" fill="none" stroke="#4536d3" stroke-width="0.9"/><path d="M37 851.55L125 848.15L215 844.15" fill="none" stroke="#f7dc2a" stroke-width="1.05"/><path d="M37 852.55L125 849.15L215 845.15" fill="none" stroke="#4536d3" stroke-width="0.95"/><path d="M37 864.35L130 859.65L215 855.75" fill="none" stroke="#f7dc2a" stroke-width="1.05"/><path d="M37 865.35L130 860.65L215 856.75" fill="none" stroke="#4536d3" stroke-width="0.95"/><path d="M37 877.55L140 871.95L154 870.95L215 867.45" fill="none" stroke="#f7dc2a" stroke-width="1.1"/><path d="M37 878.55L140 872.95L154 871.95L215 868.45" fill="none" stroke="#4536d3" stroke-width="1.0"/><path d="M100 770.53L215 769.1L215 770.6L100 770.73z" fill="#f7dc2a"/><path d="M100 771.23L215 771.1L215 772.5L100 771.83z" fill="#4536d3"/><path d="M100 824.82L125 823.72L215 819.6L215 821.1L125 824.2L100 825.02z" fill="#f7dc2a"/><path d="M100 825.52L125 824.7L215 821.6L215 823L125 825.47L100 826.12z" fill="#4536d3"/><path d="M100 837.2L130 835.76L215 832.5L215 834L130 836.3L100 837.4z" fill="#f7dc2a"/><path d="M100 837.9L130 836.8L215 834.5L215 835.9L130 837.61L100 838.5z" fill="#4536d3"/><path d="M100 849.17L125 847.92L215 842.9L215 844.4L125 848.4L100 849.37z" fill="#f7dc2a"/><path d="M100 849.87L125 848.9L215 844.9L215 846.3L125 849.67L100 850.47z" fill="#4536d3"/><path d="M100 861.22L130 859.36L215 854.5L215 856L130 859.9L100 861.42z" fill="#f7dc2a"/><path d="M100 861.92L130 860.4L215 856.5L215 857.9L130 861.21L100 862.52z" fill="#4536d3"/><path d="M100 874.17L140 871.55L154 870.39L215 866.2L215 867.7L154 871.2L140 872.2L100 874.37z" fill="#f7dc2a"/><path d="M100 874.87L140 872.7L154 871.7L215 868.2L215 869.6L154 872.68L140 873.58L100 875.47z" fill="#4536d3"/><path d="M38.5 806.8L42 805.2L47 804L54 802.9L62 802L72 800.9L86.8 799.7L104 798.6" fill="none" stroke="#f7dc2a" stroke-width="1.5"/><path d="M38.5 808.4L42 806.8L47 805.6L54 804.5L62 803.6L72 802.5L86.8 801.3L104 800.2" fill="none" stroke="#4536d3" stroke-width="1.6"/><path d="M38.5 806.95L45 807.85L52.3 808.65L61 809.75L69.5 810.75L76 811.45L81.6 811.85" fill="none" stroke="#4536d3" stroke-width="1.2"/><path d="M38.5 808L45 808.9L52.3 809.7L61 810.8L69.5 811.8L76 812.5L81.6 812.9" fill="none" stroke="#f7dc2a" stroke-width="1.2"/><path d="M81.6 812.15L70 813.15L55 814.25L38.5 815.25" fill="none" stroke="#f7dc2a" stroke-width="1.0"/><path d="M81.6 813.1L70 814.1L55 815.2L38.5 816.2" fill="none" stroke="#4536d3" stroke-width="0.8" opacity="0.8"/><path d="M50 804.4L62 802.6L64 803.6L52 805.6z" fill="#f9fb15"/><path d="M64 811.2L80 811.4L83 812.6L79 813.6L66 812.9z" fill="#f9fb15"/></g>
<rect x="37.3" y="716" width="177.4" height="156.4" fill="none" stroke="#4d6a6a" stroke-width="0.6"/>
<path d="M96.43 872.4v-1.8M96.43 716v1.8M155.57 872.4v-1.8M155.57 716v1.8M37.3 752.23h1.8M214.7 752.23h-1.8M37.3 788.45h1.8M214.7 788.45h-1.8M37.3 824.67h1.8M214.7 824.67h-1.8M37.3 860.9h1.8M214.7 860.9h-1.8" stroke="#234" stroke-width=".7" fill="none"/>
<text x="34" y="719.2" font-size="8.6" text-anchor="end" font-weight="bold" fill="#111">0</text>
<text x="34" y="755.43" font-size="8.6" text-anchor="end" font-weight="bold" fill="#111">50</text>
<text x="34" y="791.65" font-size="8.6" text-anchor="end" font-weight="bold" fill="#111">100</text>
<text x="34" y="827.88" font-size="8.6" text-anchor="end" font-weight="bold" fill="#111">150</text>
<text x="34" y="864.1" font-size="8.6" text-anchor="end" font-weight="bold" fill="#111">200</text>
<text x="37.7" y="884" font-size="8.6" text-anchor="middle" font-weight="bold" fill="#111">600</text>
<text x="96.83" y="884" font-size="8.6" text-anchor="middle" font-weight="bold" fill="#111">650</text>
<text x="155.97" y="884" font-size="8.6" text-anchor="middle" font-weight="bold" fill="#111">700</text>
<text x="215.1" y="884" font-size="8.6" text-anchor="middle" font-weight="bold" fill="#111">750</text>
<text x="126.5" y="897" font-size="9.5" text-anchor="middle" font-weight="bold" fill="#111">Frequency(Hz)</text>
<text x="14.6" y="794.7" font-size="9.5" text-anchor="middle" font-weight="bold" transform="rotate(-90 14.6 794.7)" fill="#111">Depth(m)</text>
<rect x="226.8" y="715.8" width="10" height="156.6" fill="url(#par)" stroke="#888" stroke-width=".5"/>
<text x="240.1" y="718.9" font-size="8.6" text-anchor="start" font-weight="bold" fill="#111">2</text>
<path d="M236.8 715.8h-2" stroke="#555" stroke-width=".7"/>
<text x="240.1" y="758.05" font-size="8.6" text-anchor="start" font-weight="bold" fill="#111">1</text>
<path d="M236.8 754.95h-2" stroke="#555" stroke-width=".7"/>
<text x="240.1" y="797.2" font-size="8.6" text-anchor="start" font-weight="bold" fill="#111">0</text>
<path d="M236.8 794.1h-2" stroke="#555" stroke-width=".7"/>
<text x="240.1" y="836.35" font-size="8.6" text-anchor="start" font-weight="bold" fill="#111">-1</text>
<path d="M236.8 833.25h-2" stroke="#555" stroke-width=".7"/>
<text x="240.1" y="875.5" font-size="8.6" text-anchor="start" font-weight="bold" fill="#111">-2</text>
<path d="M236.8 872.4h-2" stroke="#555" stroke-width=".7"/>
<text x="238" y="712.1" font-size="8.1" font-weight="bold" fill="#111">×10<tspan dy="-3.3" font-size="6.3">7</tspan></text>
<path d="M282.2 707.7L375.7 707.9L376.8 709.2L379.1 712.8L380.3 714.7L382.5 715.9L384.8 716.6L392.8 718.7L399.7 720.5L407.6 724.5L414.5 730.4L421.3 735.5L428.2 739.1L433.9 741.7L438.4 743.1L533.1 744.2L373.4 744.7L406.0 744.8L417.6 745.2L422.1 745.6L424.8 746.0L427.0 746.3L429.3 746.7L432.0 747.1L436.4 747.5L448.1 747.9L498.9 748.0L282.2 748.6L406.0 749.0L417.6 749.7L422.1 750.4L424.8 751.1L427.0 751.8L429.3 752.5L432.0 753.2L436.4 753.9L448.1 754.6L578.7 755.0L282.2 755.6L406.0 756.0L417.6 756.7L422.1 757.4L424.8 758.1L427.0 758.8L429.3 759.5L432.0 760.2L436.4 760.9L448.1 761.6L578.7 762.0L282.2 762.6L406.0 763.3L417.6 764.3L422.1 765.3L424.8 766.3L427.0 767.3L429.3 768.3L432.0 769.3L436.4 770.3L448.1 771.3L527.4 772.0L282.2 772.6L406.0 772.9L417.6 773.5L422.1 774.0L424.8 774.6L427.0 775.1L429.3 775.7L432.0 776.3L436.4 776.8L448.1 777.4L489.8 777.7L282.2 778.2L406.0 778.5L417.6 779.1L422.1 779.7L424.8 780.3L427.0 780.9L429.3 781.5L432.0 782.1L436.4 782.7L448.1 783.3L578.7 783.6L282.2 784.2L406.0 784.5L417.6 785.1L422.1 785.7L424.8 786.3L427.0 786.9L429.3 787.5L432.0 788.2L436.4 788.8L448.1 789.4L578.7 789.8L282.2 790.2L350.6 790.7L382.5 791.5L396.2 792.6L405.4 794.2L411.1 796.4L414.5 798.6L415.6 800.1L413.3 801.2L401.9 802.4L387.1 803.6L381.4 804.3L384.8 805.0L396.2 806.0L409.9 807.2L419.0 808.3L428.2 809.9L437.3 811.8L445.3 813.2L459.0 814.5L487.5 815.5L578.7 816.2L282.2 816.8L385.1 817.3L410.5 818.1L419.4 818.8L424.2 819.6L427.4 820.4L429.9 821.2L431.9 821.9L433.9 822.7L435.8 823.5L437.9 824.3L440.3 825.0L443.6 825.8L448.4 826.6L457.3 827.4L482.6 828.1L578.7 828.6L282.2 829.2L385.1 829.7L410.5 830.4L419.4 831.2L424.2 831.9L427.4 832.7L429.9 833.5L431.9 834.2L433.9 835.0L435.8 835.7L437.9 836.5L440.3 837.2L443.6 838.0L448.4 838.8L457.3 839.5L482.6 840.3L578.7 840.7L282.2 841.3L385.1 841.8L410.5 842.5L419.4 843.3L424.2 844.0L427.4 844.8L429.9 845.5L431.9 846.3L433.9 847.0L435.8 847.8L437.9 848.5L440.3 849.3L443.6 850.0L448.4 850.8L457.3 851.5L482.6 852.3L578.7 852.7L282.2 853.3L385.1 853.7L410.5 854.4L419.4 855.1L424.2 855.8L427.4 856.5L429.9 857.2L431.9 857.9L433.9 858.6L435.8 859.3L437.9 860.0L440.3 860.7L443.6 861.4L448.4 862.1L457.3 862.8L482.6 863.5L578.7 863.9" fill="none" stroke="#3a88cc" stroke-width=".75" stroke-linejoin="round" clip-path="url(#cg)" opacity=".9"/>
<rect x="316.4" y="707.2" width="228.1" height="159.6" fill="none" stroke="#9a9a9a" stroke-width="1"/>
<path d="M373.43 866.8v-2M373.43 707.2v2M430.45 866.8v-2M430.45 707.2v2M487.47 866.8v-2M487.47 707.2v2M316.4 743.5h2M544.5 743.5h-2M316.4 780h2M544.5 780h-2M316.4 816.5h2M544.5 816.5h-2M316.4 853h2M544.5 853h-2" stroke="#777" stroke-width=".7" fill="none"/>
<g fill="#f01616"><circle cx="428" cy="775.5" r="1.75"/><circle cx="424" cy="780" r="1.75"/><circle cx="436.5" cy="788" r="1.75"/><circle cx="397" cy="792" r="1.75"/><circle cx="410" cy="796" r="1.75"/><circle cx="415.5" cy="800" r="1.75"/><circle cx="416" cy="808.5" r="1.75"/><circle cx="444" cy="812.5" r="1.75"/><circle cx="417.5" cy="820.5" r="1.75"/><circle cx="437" cy="825" r="1.75"/><circle cx="425" cy="833" r="1.75"/><circle cx="443.5" cy="837" r="1.75"/><circle cx="344.5" cy="841" r="1.75"/><circle cx="426" cy="845" r="1.75"/><circle cx="445.5" cy="849.5" r="1.75"/><circle cx="367.5" cy="853" r="1.75"/><circle cx="427.5" cy="857.5" r="1.75"/><circle cx="448" cy="861.5" r="1.75"/></g>
<text x="312.9" y="710.2" font-size="8.6" text-anchor="end" font-weight="bold" fill="#111">0</text>
<text x="312.9" y="746.7" font-size="8.6" text-anchor="end" font-weight="bold" fill="#111">50</text>
<text x="312.9" y="783.2" font-size="8.6" text-anchor="end" font-weight="bold" fill="#111">100</text>
<text x="312.9" y="819.7" font-size="8.6" text-anchor="end" font-weight="bold" fill="#111">150</text>
<text x="312.9" y="856.2" font-size="8.6" text-anchor="end" font-weight="bold" fill="#111">200</text>
<text x="316.4" y="878.3" font-size="8.6" text-anchor="middle" font-weight="bold" fill="#111">-1</text>
<text x="373.43" y="878.3" font-size="8.6" text-anchor="middle" font-weight="bold" fill="#111">-0.5</text>
<text x="430.45" y="878.3" font-size="8.6" text-anchor="middle" font-weight="bold" fill="#111">0</text>
<text x="487.47" y="878.3" font-size="8.6" text-anchor="middle" font-weight="bold" fill="#111">0.5</text>
<text x="544.5" y="878.3" font-size="8.6" text-anchor="middle" font-weight="bold" fill="#111">1</text>
<text x="425.6" y="891.2" font-size="8.8" font-style="italic" font-weight="bold" fill="#111" text-anchor="end">η</text>
<text x="425.9" y="896" font-size="7.3" font-weight="bold" fill="#111">9,10</text>
<text x="524.6" y="894.4" font-size="9.3" font-weight="bold" fill="#111">×<tspan dx="1.2">10</tspan><tspan dy="-3.6" font-size="7">7</tspan></text>
<text x="295.2" y="786.5" font-size="9.5" text-anchor="middle" font-weight="bold" transform="rotate(-90 295.2 786.5)" fill="#111">Depth(m)</text>
<text x="264.4" y="219.8" font-family="Liberation Serif, Times New Roman, serif" font-size="14.5" text-anchor="middle" fill="#111">(<tspan font-weight="bold">a</tspan>)</text>
<text x="129" y="452" font-family="Liberation Serif, Times New Roman, serif" font-size="14.5" text-anchor="middle" fill="#111">(<tspan font-weight="bold">b</tspan>)</text>
<text x="397.5" y="452.5" font-family="Liberation Serif, Times New Roman, serif" font-size="14.5" text-anchor="middle" fill="#111">(<tspan font-weight="bold">c</tspan>)</text>
<text x="128" y="685.6" font-family="Liberation Serif, Times New Roman, serif" font-size="14.5" text-anchor="middle" fill="#111">(<tspan font-weight="bold">d</tspan>)</text>
<text x="406" y="686.9" font-family="Liberation Serif, Times New Roman, serif" font-size="14.5" text-anchor="middle" fill="#111">(<tspan font-weight="bold">e</tspan>)</text>
<text x="133.5" y="918.5" font-family="Liberation Serif, Times New Roman, serif" font-size="14.5" text-anchor="middle" fill="#111">(<tspan font-weight="bold">f</tspan>)</text>
<text x="411" y="919" font-family="Liberation Serif, Times New Roman, serif" font-size="14.5" text-anchor="middle" fill="#111">(<tspan font-weight="bold">g</tspan>)</text>
</svg>
</div>
</body></html>
